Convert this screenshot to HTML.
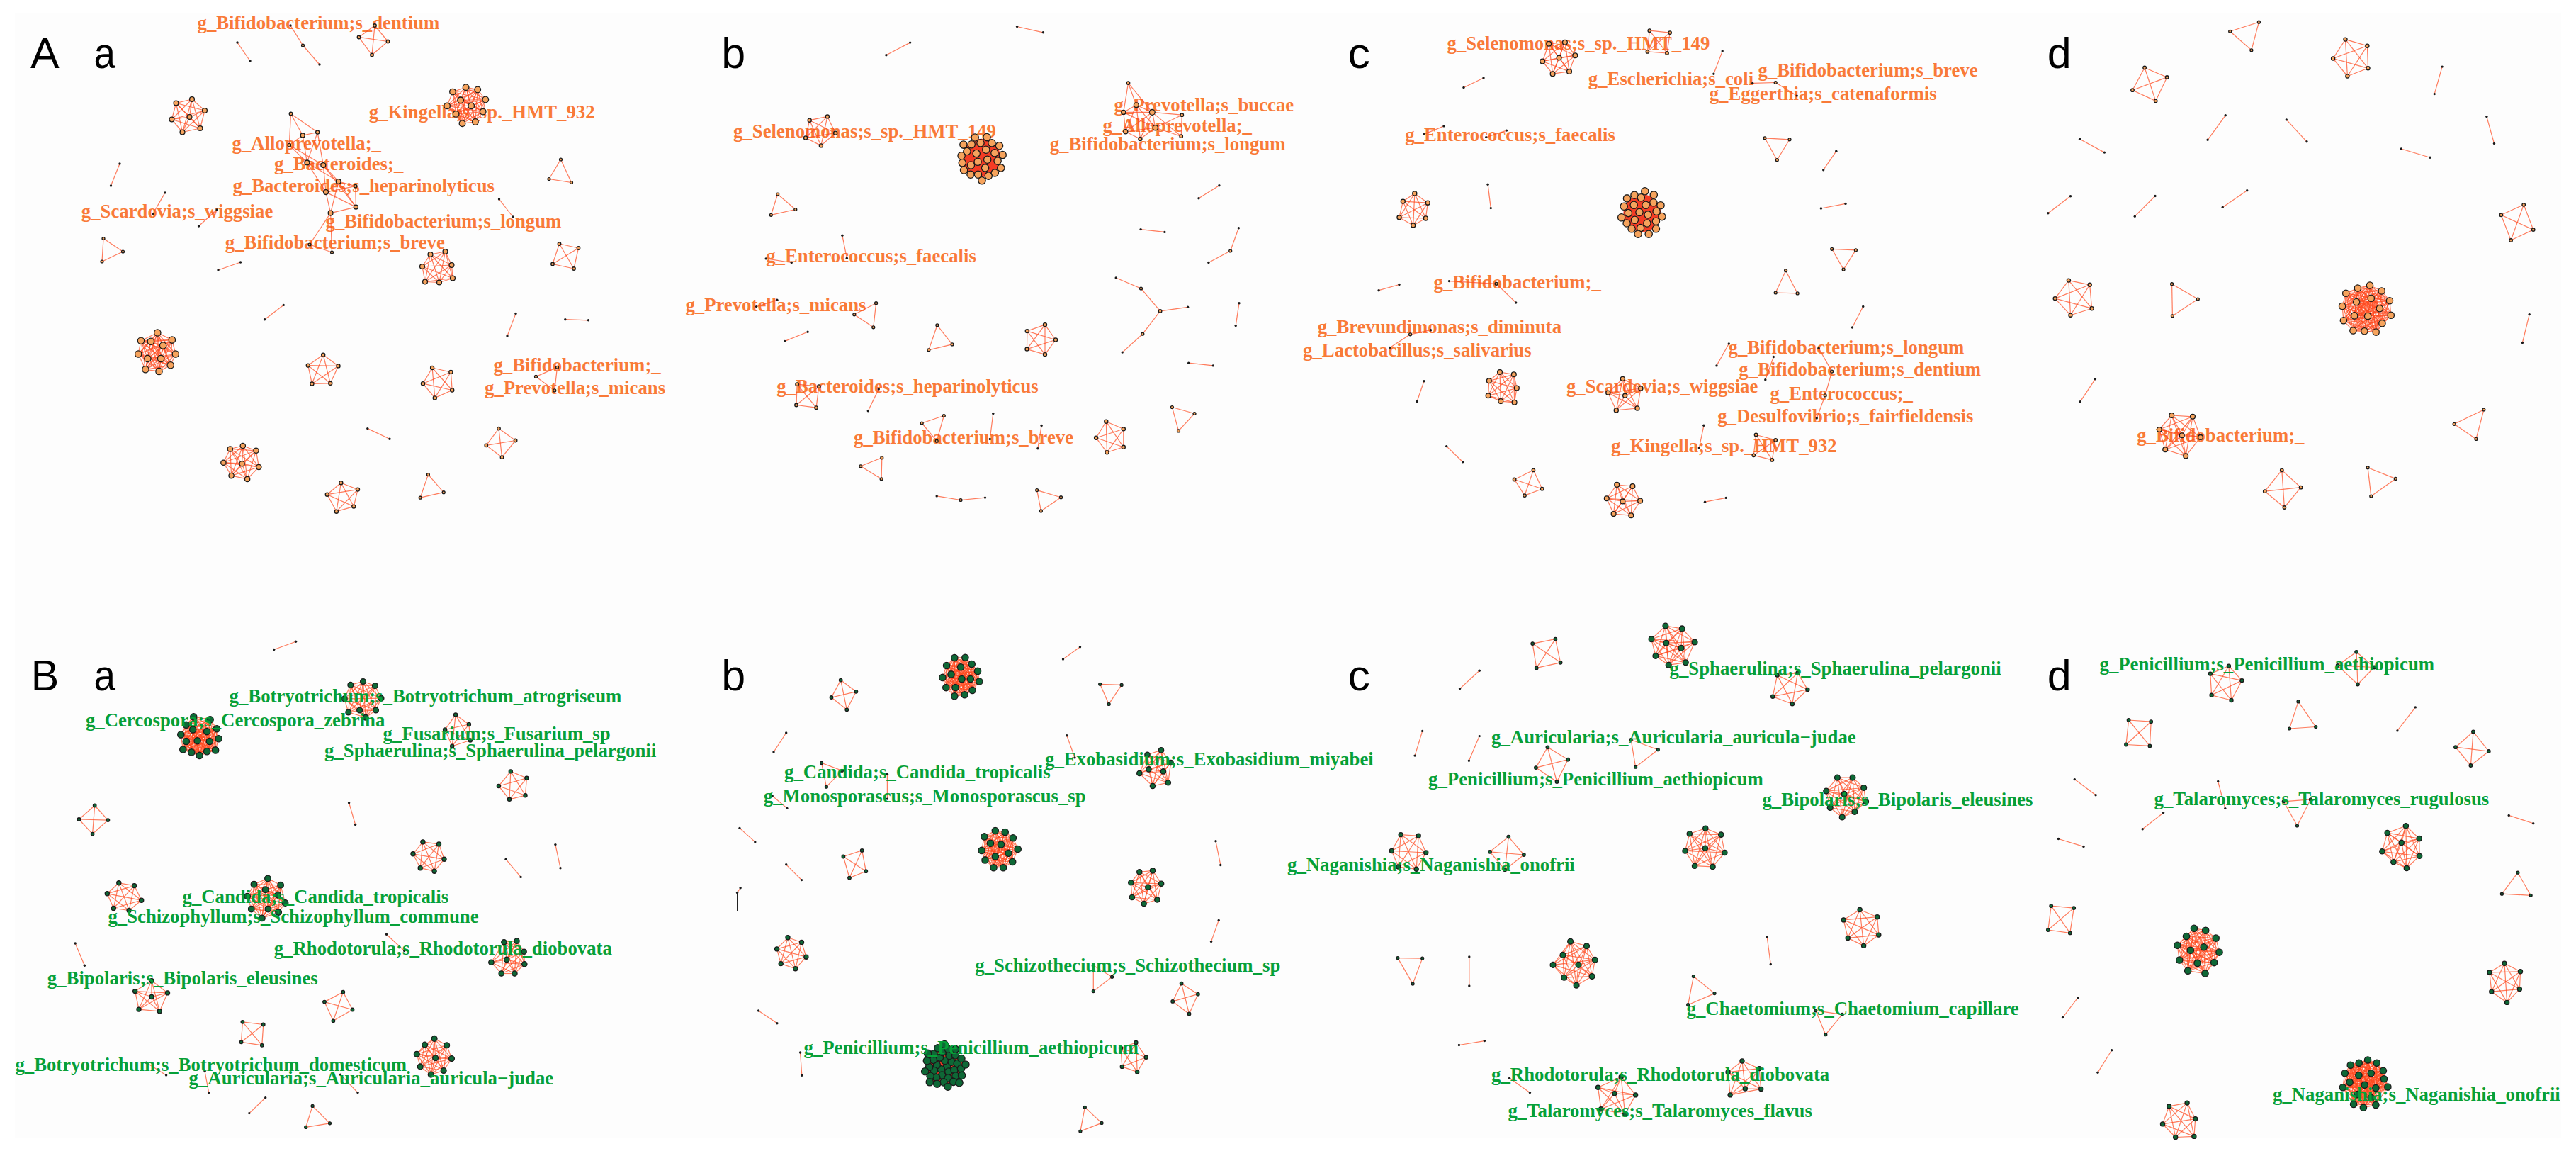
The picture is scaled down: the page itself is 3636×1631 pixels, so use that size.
<!DOCTYPE html>
<html><head><meta charset="utf-8"><style>
html,body{margin:0;padding:0;background:#ffffff;width:3636px;height:1631px;overflow:hidden}
svg{display:block}
</style></head><body>
<svg width="3636" height="1631" viewBox="0 0 3636 1631">
<rect x="0" y="0" width="3636" height="1631" fill="#ffffff"/>
<rect x="21" y="18" width="3594" height="1588" fill="#fdfdfd"/>
<g font-family="Liberation Sans, sans-serif" font-size="61" fill="#000"><text transform="translate(42.9,96.3) scale(1,1)">A</text><text transform="translate(132.5,96.3) scale(0.9,1)">a</text><text transform="translate(1018.2,96.3) scale(1,1)">b</text><text transform="translate(1902.4,96.3) scale(1.03,1)">c</text><text transform="translate(2889.8,96.3) scale(1,1)">d</text><text transform="translate(43.8,974.0) scale(0.97,1)">B</text><text transform="translate(132.5,974.3) scale(0.9,1)">a</text><text transform="translate(1018.2,973.8) scale(1,1)">b</text><text transform="translate(1902.4,974.0) scale(1.03,1)">c</text><text transform="translate(2889.8,973.8) scale(1,1)">d</text></g>
<g font-family="Liberation Serif, serif" font-weight="bold" font-size="26.75"><text x="278.5" y="41.3" fill="#f97a38">g_Bifidobacterium;s_dentium</text><text x="520.8" y="166.8" fill="#f97a38">g_Kingella;s_sp._HMT_932</text><text x="327.5" y="211.0" fill="#f97a38">g_Alloprevotella;_</text><text x="387.0" y="240.0" fill="#f97a38">g_Bacteroides;_</text><text x="328.4" y="270.5" fill="#f97a38">g_Bacteroides;s_heparinolyticus</text><text x="114.8" y="306.5" fill="#f97a38">g_Scardovia;s_wiggsiae</text><text x="459.5" y="321.0" fill="#f97a38">g_Bifidobacterium;s_longum</text><text x="317.8" y="350.7" fill="#f97a38">g_Bifidobacterium;s_breve</text><text x="696.4" y="524.4" fill="#f97a38">g_Bifidobacterium;_</text><text x="684.0" y="555.5" fill="#f97a38">g_Prevotella;s_micans</text><text x="1035.0" y="193.8" fill="#f97a38">g_Selenomonas;s_sp._HMT_149</text><text x="1572.6" y="157.4" fill="#f97a38">g_Prevotella;s_buccae</text><text x="1556.5" y="186.3" fill="#f97a38">g_Alloprevotella;_</text><text x="1481.7" y="211.9" fill="#f97a38">g_Bifidobacterium;s_longum</text><text x="1081.2" y="370.3" fill="#f97a38">g_Enterococcus;s_faecalis</text><text x="967.4" y="438.7" fill="#f97a38">g_Prevotella;s_micans</text><text x="1096.2" y="553.9" fill="#f97a38">g_Bacteroides;s_heparinolyticus</text><text x="1205.0" y="626.4" fill="#f97a38">g_Bifidobacterium;s_breve</text><text x="2042.5" y="69.7" fill="#f97a38">g_Selenomonas;s_sp._HMT_149</text><text x="2241.8" y="119.9" fill="#f97a38">g_Escherichia;s_coli</text><text x="2481.5" y="107.6" fill="#f97a38">g_Bifidobacterium;s_breve</text><text x="2412.7" y="140.5" fill="#f97a38">g_Eggerthia;s_catenaformis</text><text x="1983.2" y="199.4" fill="#f97a38">g_Enterococcus;s_faecalis</text><text x="2023.5" y="407.4" fill="#f97a38">g_Bifidobacterium;_</text><text x="1859.7" y="470.2" fill="#f97a38">g_Brevundimonas;s_diminuta</text><text x="1839.1" y="503.2" fill="#f97a38">g_Lactobacillus;s_salivarius</text><text x="2439.5" y="499.1" fill="#f97a38">g_Bifidobacterium;s_longum</text><text x="2454.3" y="529.6" fill="#f97a38">g_Bifidobacterium;s_dentium</text><text x="2210.9" y="553.5" fill="#f97a38">g_Scardovia;s_wiggsiae</text><text x="2498.4" y="563.8" fill="#f97a38">g_Enterococcus;_</text><text x="2424.2" y="595.5" fill="#f97a38">g_Desulfovibrio;s_fairfieldensis</text><text x="2273.9" y="637.9" fill="#f97a38">g_Kingella;s_sp._HMT_932</text><text x="3016.2" y="623.2" fill="#f97a38">g_Bifidobacterium;_</text></g>
<g stroke="#ff4a1e" stroke-width="1.2" stroke-opacity="0.72"><line x1="335.0" y1="60.0" x2="353.0" y2="86.0"/><line x1="410.0" y1="36.0" x2="427.5" y2="64.0"/><line x1="427.5" y1="64.0" x2="451.0" y2="91.0"/><line x1="529.0" y1="36.0" x2="506.5" y2="52.5"/><line x1="529.0" y1="36.0" x2="547.5" y2="58.5"/><line x1="529.0" y1="36.0" x2="525.0" y2="77.5"/><line x1="506.5" y1="52.5" x2="547.5" y2="58.5"/><line x1="506.5" y1="52.5" x2="525.0" y2="77.5"/><line x1="547.5" y1="58.5" x2="525.0" y2="77.5"/><line x1="248.5" y1="145.5" x2="271.0" y2="140.0"/><line x1="248.5" y1="145.5" x2="289.0" y2="156.0"/><line x1="248.5" y1="145.5" x2="282.5" y2="181.0"/><line x1="248.5" y1="145.5" x2="257.5" y2="186.5"/><line x1="248.5" y1="145.5" x2="242.5" y2="168.5"/><line x1="248.5" y1="145.5" x2="267.5" y2="165.0"/><line x1="271.0" y1="140.0" x2="289.0" y2="156.0"/><line x1="271.0" y1="140.0" x2="282.5" y2="181.0"/><line x1="271.0" y1="140.0" x2="257.5" y2="186.5"/><line x1="271.0" y1="140.0" x2="242.5" y2="168.5"/><line x1="271.0" y1="140.0" x2="267.5" y2="165.0"/><line x1="289.0" y1="156.0" x2="282.5" y2="181.0"/><line x1="289.0" y1="156.0" x2="257.5" y2="186.5"/><line x1="289.0" y1="156.0" x2="242.5" y2="168.5"/><line x1="289.0" y1="156.0" x2="267.5" y2="165.0"/><line x1="282.5" y1="181.0" x2="257.5" y2="186.5"/><line x1="282.5" y1="181.0" x2="242.5" y2="168.5"/><line x1="282.5" y1="181.0" x2="267.5" y2="165.0"/><line x1="257.5" y1="186.5" x2="242.5" y2="168.5"/><line x1="257.5" y1="186.5" x2="267.5" y2="165.0"/><line x1="242.5" y1="168.5" x2="267.5" y2="165.0"/><line x1="657.6" y1="123.2" x2="639.0" y2="129.6"/><line x1="657.6" y1="123.2" x2="674.2" y2="126.5"/><line x1="657.6" y1="123.2" x2="685.3" y2="140.5"/><line x1="657.6" y1="123.2" x2="650.1" y2="141.3"/><line x1="657.6" y1="123.2" x2="665.2" y2="149.4"/><line x1="657.6" y1="123.2" x2="631.1" y2="149.4"/><line x1="657.6" y1="123.2" x2="643.6" y2="160.9"/><line x1="657.6" y1="123.2" x2="681.7" y2="157.6"/><line x1="657.6" y1="123.2" x2="652.5" y2="174.2"/><line x1="657.6" y1="123.2" x2="670.9" y2="172.0"/><line x1="639.0" y1="129.6" x2="674.2" y2="126.5"/><line x1="639.0" y1="129.6" x2="685.3" y2="140.5"/><line x1="639.0" y1="129.6" x2="650.1" y2="141.3"/><line x1="639.0" y1="129.6" x2="665.2" y2="149.4"/><line x1="639.0" y1="129.6" x2="631.1" y2="149.4"/><line x1="639.0" y1="129.6" x2="643.6" y2="160.9"/><line x1="639.0" y1="129.6" x2="681.7" y2="157.6"/><line x1="639.0" y1="129.6" x2="652.5" y2="174.2"/><line x1="639.0" y1="129.6" x2="670.9" y2="172.0"/><line x1="674.2" y1="126.5" x2="685.3" y2="140.5"/><line x1="674.2" y1="126.5" x2="650.1" y2="141.3"/><line x1="674.2" y1="126.5" x2="665.2" y2="149.4"/><line x1="674.2" y1="126.5" x2="631.1" y2="149.4"/><line x1="674.2" y1="126.5" x2="643.6" y2="160.9"/><line x1="674.2" y1="126.5" x2="681.7" y2="157.6"/><line x1="674.2" y1="126.5" x2="652.5" y2="174.2"/><line x1="674.2" y1="126.5" x2="670.9" y2="172.0"/><line x1="685.3" y1="140.5" x2="650.1" y2="141.3"/><line x1="685.3" y1="140.5" x2="665.2" y2="149.4"/><line x1="685.3" y1="140.5" x2="631.1" y2="149.4"/><line x1="685.3" y1="140.5" x2="643.6" y2="160.9"/><line x1="685.3" y1="140.5" x2="681.7" y2="157.6"/><line x1="685.3" y1="140.5" x2="652.5" y2="174.2"/><line x1="685.3" y1="140.5" x2="670.9" y2="172.0"/><line x1="650.1" y1="141.3" x2="665.2" y2="149.4"/><line x1="650.1" y1="141.3" x2="631.1" y2="149.4"/><line x1="650.1" y1="141.3" x2="643.6" y2="160.9"/><line x1="650.1" y1="141.3" x2="681.7" y2="157.6"/><line x1="650.1" y1="141.3" x2="652.5" y2="174.2"/><line x1="650.1" y1="141.3" x2="670.9" y2="172.0"/><line x1="665.2" y1="149.4" x2="631.1" y2="149.4"/><line x1="665.2" y1="149.4" x2="643.6" y2="160.9"/><line x1="665.2" y1="149.4" x2="681.7" y2="157.6"/><line x1="665.2" y1="149.4" x2="652.5" y2="174.2"/><line x1="665.2" y1="149.4" x2="670.9" y2="172.0"/><line x1="631.1" y1="149.4" x2="643.6" y2="160.9"/><line x1="631.1" y1="149.4" x2="681.7" y2="157.6"/><line x1="631.1" y1="149.4" x2="652.5" y2="174.2"/><line x1="631.1" y1="149.4" x2="670.9" y2="172.0"/><line x1="643.6" y1="160.9" x2="681.7" y2="157.6"/><line x1="643.6" y1="160.9" x2="652.5" y2="174.2"/><line x1="643.6" y1="160.9" x2="670.9" y2="172.0"/><line x1="681.7" y1="157.6" x2="652.5" y2="174.2"/><line x1="681.7" y1="157.6" x2="670.9" y2="172.0"/><line x1="652.5" y1="174.2" x2="670.9" y2="172.0"/><line x1="410.5" y1="160.5" x2="427.2" y2="191.0"/><line x1="410.5" y1="160.5" x2="448.2" y2="186.6"/><line x1="427.2" y1="191.0" x2="448.2" y2="186.6"/><line x1="410.5" y1="160.5" x2="408.3" y2="204.7"/><line x1="427.2" y1="191.0" x2="433.4" y2="229.4"/><line x1="448.2" y1="186.6" x2="433.4" y2="229.4"/><line x1="408.3" y1="204.7" x2="433.4" y2="229.4"/><line x1="433.4" y1="229.4" x2="456.3" y2="233.1"/><line x1="433.4" y1="229.4" x2="477.7" y2="256.0"/><line x1="456.3" y1="233.1" x2="477.7" y2="256.0"/><line x1="433.4" y1="229.4" x2="460.0" y2="271.1"/><line x1="456.3" y1="233.1" x2="460.0" y2="271.1"/><line x1="477.7" y1="256.0" x2="460.0" y2="271.1"/><line x1="477.7" y1="256.0" x2="502.4" y2="292.1"/><line x1="456.3" y1="233.1" x2="502.4" y2="292.1"/><line x1="460.0" y1="271.1" x2="502.4" y2="292.1"/><line x1="460.0" y1="271.1" x2="466.6" y2="300.6"/><line x1="502.4" y1="292.1" x2="466.6" y2="300.6"/><line x1="477.7" y1="256.0" x2="466.6" y2="300.6"/><line x1="477.7" y1="256.0" x2="501.7" y2="262.6"/><line x1="501.7" y1="262.6" x2="502.4" y2="292.1"/><line x1="466.6" y1="300.6" x2="437.0" y2="345.0"/><line x1="437.0" y1="345.0" x2="468.5" y2="356.0"/><line x1="466.6" y1="300.6" x2="468.5" y2="356.0"/><line x1="408.3" y1="204.7" x2="456.3" y2="233.1"/><line x1="427.2" y1="191.0" x2="408.3" y2="204.7"/><line x1="448.2" y1="186.6" x2="456.3" y2="233.1"/><line x1="460.0" y1="271.1" x2="501.7" y2="262.6"/><line x1="169.0" y1="231.0" x2="156.5" y2="262.0"/><line x1="233.0" y1="271.9" x2="215.8" y2="301.7"/><line x1="280.5" y1="319.0" x2="306.0" y2="296.0"/><line x1="146.0" y1="336.5" x2="173.5" y2="355.0"/><line x1="146.0" y1="336.5" x2="144.0" y2="369.0"/><line x1="173.5" y1="355.0" x2="144.0" y2="369.0"/><line x1="308.0" y1="381.0" x2="339.5" y2="370.0"/><line x1="791.5" y1="225.0" x2="775.0" y2="252.5"/><line x1="791.5" y1="225.0" x2="806.5" y2="257.5"/><line x1="775.0" y1="252.5" x2="806.5" y2="257.5"/><line x1="704.5" y1="281.0" x2="724.0" y2="306.0"/><line x1="789.5" y1="344.0" x2="816.5" y2="350.0"/><line x1="789.5" y1="344.0" x2="780.0" y2="372.5"/><line x1="789.5" y1="344.0" x2="810.0" y2="379.0"/><line x1="816.5" y1="350.0" x2="780.0" y2="372.5"/><line x1="816.5" y1="350.0" x2="810.0" y2="379.0"/><line x1="780.0" y1="372.5" x2="810.0" y2="379.0"/><line x1="607.5" y1="359.0" x2="628.5" y2="355.0"/><line x1="607.5" y1="359.0" x2="596.0" y2="376.0"/><line x1="607.5" y1="359.0" x2="637.5" y2="374.0"/><line x1="607.5" y1="359.0" x2="639.0" y2="392.5"/><line x1="607.5" y1="359.0" x2="600.0" y2="397.5"/><line x1="607.5" y1="359.0" x2="620.0" y2="398.5"/><line x1="628.5" y1="355.0" x2="596.0" y2="376.0"/><line x1="628.5" y1="355.0" x2="637.5" y2="374.0"/><line x1="628.5" y1="355.0" x2="639.0" y2="392.5"/><line x1="628.5" y1="355.0" x2="600.0" y2="397.5"/><line x1="628.5" y1="355.0" x2="620.0" y2="398.5"/><line x1="596.0" y1="376.0" x2="637.5" y2="374.0"/><line x1="596.0" y1="376.0" x2="639.0" y2="392.5"/><line x1="596.0" y1="376.0" x2="600.0" y2="397.5"/><line x1="596.0" y1="376.0" x2="620.0" y2="398.5"/><line x1="637.5" y1="374.0" x2="639.0" y2="392.5"/><line x1="637.5" y1="374.0" x2="600.0" y2="397.5"/><line x1="637.5" y1="374.0" x2="620.0" y2="398.5"/><line x1="639.0" y1="392.5" x2="600.0" y2="397.5"/><line x1="639.0" y1="392.5" x2="620.0" y2="398.5"/><line x1="600.0" y1="397.5" x2="620.0" y2="398.5"/><line x1="373.6" y1="450.7" x2="400.2" y2="430.4"/><line x1="222.3" y1="469.5" x2="199.0" y2="480.7"/><line x1="222.3" y1="469.5" x2="212.9" y2="481.8"/><line x1="222.3" y1="469.5" x2="242.9" y2="479.6"/><line x1="222.3" y1="469.5" x2="230.1" y2="487.5"/><line x1="222.3" y1="469.5" x2="195.2" y2="499.5"/><line x1="222.3" y1="469.5" x2="247.8" y2="499.5"/><line x1="222.3" y1="469.5" x2="208.4" y2="505.9"/><line x1="222.3" y1="469.5" x2="227.1" y2="505.9"/><line x1="222.3" y1="469.5" x2="205.4" y2="521.3"/><line x1="222.3" y1="469.5" x2="224.5" y2="523.9"/><line x1="222.3" y1="469.5" x2="240.7" y2="515.3"/><line x1="199.0" y1="480.7" x2="212.9" y2="481.8"/><line x1="199.0" y1="480.7" x2="242.9" y2="479.6"/><line x1="199.0" y1="480.7" x2="230.1" y2="487.5"/><line x1="199.0" y1="480.7" x2="195.2" y2="499.5"/><line x1="199.0" y1="480.7" x2="247.8" y2="499.5"/><line x1="199.0" y1="480.7" x2="208.4" y2="505.9"/><line x1="199.0" y1="480.7" x2="227.1" y2="505.9"/><line x1="199.0" y1="480.7" x2="205.4" y2="521.3"/><line x1="199.0" y1="480.7" x2="224.5" y2="523.9"/><line x1="199.0" y1="480.7" x2="240.7" y2="515.3"/><line x1="212.9" y1="481.8" x2="242.9" y2="479.6"/><line x1="212.9" y1="481.8" x2="230.1" y2="487.5"/><line x1="212.9" y1="481.8" x2="195.2" y2="499.5"/><line x1="212.9" y1="481.8" x2="247.8" y2="499.5"/><line x1="212.9" y1="481.8" x2="208.4" y2="505.9"/><line x1="212.9" y1="481.8" x2="227.1" y2="505.9"/><line x1="212.9" y1="481.8" x2="205.4" y2="521.3"/><line x1="212.9" y1="481.8" x2="224.5" y2="523.9"/><line x1="212.9" y1="481.8" x2="240.7" y2="515.3"/><line x1="242.9" y1="479.6" x2="230.1" y2="487.5"/><line x1="242.9" y1="479.6" x2="195.2" y2="499.5"/><line x1="242.9" y1="479.6" x2="247.8" y2="499.5"/><line x1="242.9" y1="479.6" x2="208.4" y2="505.9"/><line x1="242.9" y1="479.6" x2="227.1" y2="505.9"/><line x1="242.9" y1="479.6" x2="205.4" y2="521.3"/><line x1="242.9" y1="479.6" x2="224.5" y2="523.9"/><line x1="242.9" y1="479.6" x2="240.7" y2="515.3"/><line x1="230.1" y1="487.5" x2="195.2" y2="499.5"/><line x1="230.1" y1="487.5" x2="247.8" y2="499.5"/><line x1="230.1" y1="487.5" x2="208.4" y2="505.9"/><line x1="230.1" y1="487.5" x2="227.1" y2="505.9"/><line x1="230.1" y1="487.5" x2="205.4" y2="521.3"/><line x1="230.1" y1="487.5" x2="224.5" y2="523.9"/><line x1="230.1" y1="487.5" x2="240.7" y2="515.3"/><line x1="195.2" y1="499.5" x2="247.8" y2="499.5"/><line x1="195.2" y1="499.5" x2="208.4" y2="505.9"/><line x1="195.2" y1="499.5" x2="227.1" y2="505.9"/><line x1="195.2" y1="499.5" x2="205.4" y2="521.3"/><line x1="195.2" y1="499.5" x2="224.5" y2="523.9"/><line x1="195.2" y1="499.5" x2="240.7" y2="515.3"/><line x1="247.8" y1="499.5" x2="208.4" y2="505.9"/><line x1="247.8" y1="499.5" x2="227.1" y2="505.9"/><line x1="247.8" y1="499.5" x2="205.4" y2="521.3"/><line x1="247.8" y1="499.5" x2="224.5" y2="523.9"/><line x1="247.8" y1="499.5" x2="240.7" y2="515.3"/><line x1="208.4" y1="505.9" x2="227.1" y2="505.9"/><line x1="208.4" y1="505.9" x2="205.4" y2="521.3"/><line x1="208.4" y1="505.9" x2="224.5" y2="523.9"/><line x1="208.4" y1="505.9" x2="240.7" y2="515.3"/><line x1="227.1" y1="505.9" x2="205.4" y2="521.3"/><line x1="227.1" y1="505.9" x2="224.5" y2="523.9"/><line x1="227.1" y1="505.9" x2="240.7" y2="515.3"/><line x1="205.4" y1="521.3" x2="224.5" y2="523.9"/><line x1="205.4" y1="521.3" x2="240.7" y2="515.3"/><line x1="224.5" y1="523.9" x2="240.7" y2="515.3"/><line x1="456.2" y1="500.6" x2="434.8" y2="515.6"/><line x1="456.2" y1="500.6" x2="477.5" y2="516.4"/><line x1="456.2" y1="500.6" x2="440.4" y2="541.5"/><line x1="456.2" y1="500.6" x2="466.3" y2="540.8"/><line x1="434.8" y1="515.6" x2="477.5" y2="516.4"/><line x1="434.8" y1="515.6" x2="440.4" y2="541.5"/><line x1="434.8" y1="515.6" x2="466.3" y2="540.8"/><line x1="477.5" y1="516.4" x2="440.4" y2="541.5"/><line x1="477.5" y1="516.4" x2="466.3" y2="540.8"/><line x1="440.4" y1="541.5" x2="466.3" y2="540.8"/><line x1="610.1" y1="519.0" x2="636.4" y2="525.0"/><line x1="610.1" y1="519.0" x2="597.0" y2="541.2"/><line x1="610.1" y1="519.0" x2="638.2" y2="550.5"/><line x1="610.1" y1="519.0" x2="613.8" y2="561.4"/><line x1="636.4" y1="525.0" x2="597.0" y2="541.2"/><line x1="636.4" y1="525.0" x2="638.2" y2="550.5"/><line x1="636.4" y1="525.0" x2="613.8" y2="561.4"/><line x1="597.0" y1="541.2" x2="638.2" y2="550.5"/><line x1="597.0" y1="541.2" x2="613.8" y2="561.4"/><line x1="638.2" y1="550.5" x2="613.8" y2="561.4"/><line x1="716.0" y1="474.0" x2="728.0" y2="442.4"/><line x1="797.8" y1="450.7" x2="830.5" y2="451.8"/><line x1="756.5" y1="531.4" x2="786.5" y2="518.3"/><line x1="756.5" y1="531.4" x2="782.8" y2="550.9"/><line x1="786.5" y1="518.3" x2="782.8" y2="550.9"/><line x1="518.8" y1="604.6" x2="550.0" y2="619.3"/><line x1="342.8" y1="629.0" x2="324.8" y2="633.5"/><line x1="342.8" y1="629.0" x2="361.5" y2="635.8"/><line x1="342.8" y1="629.0" x2="315.4" y2="652.7"/><line x1="342.8" y1="629.0" x2="341.6" y2="654.2"/><line x1="342.8" y1="629.0" x2="365.3" y2="659.0"/><line x1="342.8" y1="629.0" x2="326.6" y2="671.1"/><line x1="342.8" y1="629.0" x2="349.1" y2="675.9"/><line x1="324.8" y1="633.5" x2="361.5" y2="635.8"/><line x1="324.8" y1="633.5" x2="315.4" y2="652.7"/><line x1="324.8" y1="633.5" x2="341.6" y2="654.2"/><line x1="324.8" y1="633.5" x2="365.3" y2="659.0"/><line x1="324.8" y1="633.5" x2="326.6" y2="671.1"/><line x1="324.8" y1="633.5" x2="349.1" y2="675.9"/><line x1="361.5" y1="635.8" x2="315.4" y2="652.7"/><line x1="361.5" y1="635.8" x2="341.6" y2="654.2"/><line x1="361.5" y1="635.8" x2="365.3" y2="659.0"/><line x1="361.5" y1="635.8" x2="326.6" y2="671.1"/><line x1="361.5" y1="635.8" x2="349.1" y2="675.9"/><line x1="315.4" y1="652.7" x2="341.6" y2="654.2"/><line x1="315.4" y1="652.7" x2="365.3" y2="659.0"/><line x1="315.4" y1="652.7" x2="326.6" y2="671.1"/><line x1="315.4" y1="652.7" x2="349.1" y2="675.9"/><line x1="341.6" y1="654.2" x2="365.3" y2="659.0"/><line x1="341.6" y1="654.2" x2="326.6" y2="671.1"/><line x1="341.6" y1="654.2" x2="349.1" y2="675.9"/><line x1="365.3" y1="659.0" x2="326.6" y2="671.1"/><line x1="365.3" y1="659.0" x2="349.1" y2="675.9"/><line x1="326.6" y1="671.1" x2="349.1" y2="675.9"/><line x1="704.0" y1="604.6" x2="686.3" y2="628.3"/><line x1="704.0" y1="604.6" x2="727.6" y2="621.5"/><line x1="704.0" y1="604.6" x2="708.5" y2="645.2"/><line x1="686.3" y1="628.3" x2="727.6" y2="621.5"/><line x1="686.3" y1="628.3" x2="708.5" y2="645.2"/><line x1="727.6" y1="621.5" x2="708.5" y2="645.2"/><line x1="481.3" y1="681.2" x2="461.8" y2="697.7"/><line x1="481.3" y1="681.2" x2="505.0" y2="690.6"/><line x1="481.3" y1="681.2" x2="499.3" y2="714.6"/><line x1="481.3" y1="681.2" x2="474.9" y2="721.7"/><line x1="461.8" y1="697.7" x2="505.0" y2="690.6"/><line x1="461.8" y1="697.7" x2="499.3" y2="714.6"/><line x1="461.8" y1="697.7" x2="474.9" y2="721.7"/><line x1="505.0" y1="690.6" x2="499.3" y2="714.6"/><line x1="505.0" y1="690.6" x2="474.9" y2="721.7"/><line x1="499.3" y1="714.6" x2="474.9" y2="721.7"/><line x1="604.4" y1="669.6" x2="593.2" y2="702.2"/><line x1="604.4" y1="669.6" x2="626.2" y2="694.7"/><line x1="593.2" y1="702.2" x2="626.2" y2="694.7"/><line x1="386.7" y1="916.5" x2="417.5" y2="905.2"/><line x1="494.8" y1="966.4" x2="512.5" y2="961.5"/><line x1="494.8" y1="966.4" x2="529.4" y2="967.5"/><line x1="494.8" y1="966.4" x2="486.2" y2="985.9"/><line x1="494.8" y1="966.4" x2="538.0" y2="985.2"/><line x1="494.8" y1="966.4" x2="491.8" y2="1005.0"/><line x1="494.8" y1="966.4" x2="507.6" y2="1002.0"/><line x1="494.8" y1="966.4" x2="530.5" y2="1002.0"/><line x1="494.8" y1="966.4" x2="516.2" y2="1012.2"/><line x1="512.5" y1="961.5" x2="529.4" y2="967.5"/><line x1="512.5" y1="961.5" x2="486.2" y2="985.9"/><line x1="512.5" y1="961.5" x2="538.0" y2="985.2"/><line x1="512.5" y1="961.5" x2="491.8" y2="1005.0"/><line x1="512.5" y1="961.5" x2="507.6" y2="1002.0"/><line x1="512.5" y1="961.5" x2="530.5" y2="1002.0"/><line x1="512.5" y1="961.5" x2="516.2" y2="1012.2"/><line x1="529.4" y1="967.5" x2="486.2" y2="985.9"/><line x1="529.4" y1="967.5" x2="538.0" y2="985.2"/><line x1="529.4" y1="967.5" x2="491.8" y2="1005.0"/><line x1="529.4" y1="967.5" x2="507.6" y2="1002.0"/><line x1="529.4" y1="967.5" x2="530.5" y2="1002.0"/><line x1="529.4" y1="967.5" x2="516.2" y2="1012.2"/><line x1="486.2" y1="985.9" x2="538.0" y2="985.2"/><line x1="486.2" y1="985.9" x2="491.8" y2="1005.0"/><line x1="486.2" y1="985.9" x2="507.6" y2="1002.0"/><line x1="486.2" y1="985.9" x2="530.5" y2="1002.0"/><line x1="486.2" y1="985.9" x2="516.2" y2="1012.2"/><line x1="538.0" y1="985.2" x2="491.8" y2="1005.0"/><line x1="538.0" y1="985.2" x2="507.6" y2="1002.0"/><line x1="538.0" y1="985.2" x2="530.5" y2="1002.0"/><line x1="538.0" y1="985.2" x2="516.2" y2="1012.2"/><line x1="491.8" y1="1005.0" x2="507.6" y2="1002.0"/><line x1="491.8" y1="1005.0" x2="530.5" y2="1002.0"/><line x1="491.8" y1="1005.0" x2="516.2" y2="1012.2"/><line x1="507.6" y1="1002.0" x2="530.5" y2="1002.0"/><line x1="507.6" y1="1002.0" x2="516.2" y2="1012.2"/><line x1="530.5" y1="1002.0" x2="516.2" y2="1012.2"/><line x1="273.3" y1="1011.4" x2="296.6" y2="1015.2"/><line x1="273.3" y1="1011.4" x2="262.8" y2="1022.7"/><line x1="273.3" y1="1011.4" x2="272.2" y2="1029.5"/><line x1="273.3" y1="1011.4" x2="292.1" y2="1032.1"/><line x1="273.3" y1="1011.4" x2="306.0" y2="1028.3"/><line x1="273.3" y1="1011.4" x2="255.3" y2="1036.6"/><line x1="273.3" y1="1011.4" x2="278.6" y2="1045.2"/><line x1="273.3" y1="1011.4" x2="262.8" y2="1046.0"/><line x1="273.3" y1="1011.4" x2="295.8" y2="1046.0"/><line x1="273.3" y1="1011.4" x2="308.6" y2="1042.2"/><line x1="273.3" y1="1011.4" x2="258.3" y2="1057.6"/><line x1="273.3" y1="1011.4" x2="270.3" y2="1061.4"/><line x1="273.3" y1="1011.4" x2="281.6" y2="1065.9"/><line x1="273.3" y1="1011.4" x2="292.1" y2="1060.2"/><line x1="273.3" y1="1011.4" x2="304.1" y2="1058.4"/><line x1="296.6" y1="1015.2" x2="262.8" y2="1022.7"/><line x1="296.6" y1="1015.2" x2="272.2" y2="1029.5"/><line x1="296.6" y1="1015.2" x2="292.1" y2="1032.1"/><line x1="296.6" y1="1015.2" x2="306.0" y2="1028.3"/><line x1="296.6" y1="1015.2" x2="255.3" y2="1036.6"/><line x1="296.6" y1="1015.2" x2="278.6" y2="1045.2"/><line x1="296.6" y1="1015.2" x2="262.8" y2="1046.0"/><line x1="296.6" y1="1015.2" x2="295.8" y2="1046.0"/><line x1="296.6" y1="1015.2" x2="308.6" y2="1042.2"/><line x1="296.6" y1="1015.2" x2="258.3" y2="1057.6"/><line x1="296.6" y1="1015.2" x2="270.3" y2="1061.4"/><line x1="296.6" y1="1015.2" x2="281.6" y2="1065.9"/><line x1="296.6" y1="1015.2" x2="292.1" y2="1060.2"/><line x1="296.6" y1="1015.2" x2="304.1" y2="1058.4"/><line x1="262.8" y1="1022.7" x2="272.2" y2="1029.5"/><line x1="262.8" y1="1022.7" x2="292.1" y2="1032.1"/><line x1="262.8" y1="1022.7" x2="306.0" y2="1028.3"/><line x1="262.8" y1="1022.7" x2="255.3" y2="1036.6"/><line x1="262.8" y1="1022.7" x2="278.6" y2="1045.2"/><line x1="262.8" y1="1022.7" x2="262.8" y2="1046.0"/><line x1="262.8" y1="1022.7" x2="295.8" y2="1046.0"/><line x1="262.8" y1="1022.7" x2="308.6" y2="1042.2"/><line x1="262.8" y1="1022.7" x2="258.3" y2="1057.6"/><line x1="262.8" y1="1022.7" x2="270.3" y2="1061.4"/><line x1="262.8" y1="1022.7" x2="281.6" y2="1065.9"/><line x1="262.8" y1="1022.7" x2="292.1" y2="1060.2"/><line x1="262.8" y1="1022.7" x2="304.1" y2="1058.4"/><line x1="272.2" y1="1029.5" x2="292.1" y2="1032.1"/><line x1="272.2" y1="1029.5" x2="306.0" y2="1028.3"/><line x1="272.2" y1="1029.5" x2="255.3" y2="1036.6"/><line x1="272.2" y1="1029.5" x2="278.6" y2="1045.2"/><line x1="272.2" y1="1029.5" x2="262.8" y2="1046.0"/><line x1="272.2" y1="1029.5" x2="295.8" y2="1046.0"/><line x1="272.2" y1="1029.5" x2="308.6" y2="1042.2"/><line x1="272.2" y1="1029.5" x2="258.3" y2="1057.6"/><line x1="272.2" y1="1029.5" x2="270.3" y2="1061.4"/><line x1="272.2" y1="1029.5" x2="281.6" y2="1065.9"/><line x1="272.2" y1="1029.5" x2="292.1" y2="1060.2"/><line x1="272.2" y1="1029.5" x2="304.1" y2="1058.4"/><line x1="292.1" y1="1032.1" x2="306.0" y2="1028.3"/><line x1="292.1" y1="1032.1" x2="255.3" y2="1036.6"/><line x1="292.1" y1="1032.1" x2="278.6" y2="1045.2"/><line x1="292.1" y1="1032.1" x2="262.8" y2="1046.0"/><line x1="292.1" y1="1032.1" x2="295.8" y2="1046.0"/><line x1="292.1" y1="1032.1" x2="308.6" y2="1042.2"/><line x1="292.1" y1="1032.1" x2="258.3" y2="1057.6"/><line x1="292.1" y1="1032.1" x2="270.3" y2="1061.4"/><line x1="292.1" y1="1032.1" x2="281.6" y2="1065.9"/><line x1="292.1" y1="1032.1" x2="292.1" y2="1060.2"/><line x1="292.1" y1="1032.1" x2="304.1" y2="1058.4"/><line x1="306.0" y1="1028.3" x2="255.3" y2="1036.6"/><line x1="306.0" y1="1028.3" x2="278.6" y2="1045.2"/><line x1="306.0" y1="1028.3" x2="262.8" y2="1046.0"/><line x1="306.0" y1="1028.3" x2="295.8" y2="1046.0"/><line x1="306.0" y1="1028.3" x2="308.6" y2="1042.2"/><line x1="306.0" y1="1028.3" x2="258.3" y2="1057.6"/><line x1="306.0" y1="1028.3" x2="270.3" y2="1061.4"/><line x1="306.0" y1="1028.3" x2="281.6" y2="1065.9"/><line x1="306.0" y1="1028.3" x2="292.1" y2="1060.2"/><line x1="306.0" y1="1028.3" x2="304.1" y2="1058.4"/><line x1="255.3" y1="1036.6" x2="278.6" y2="1045.2"/><line x1="255.3" y1="1036.6" x2="262.8" y2="1046.0"/><line x1="255.3" y1="1036.6" x2="295.8" y2="1046.0"/><line x1="255.3" y1="1036.6" x2="308.6" y2="1042.2"/><line x1="255.3" y1="1036.6" x2="258.3" y2="1057.6"/><line x1="255.3" y1="1036.6" x2="270.3" y2="1061.4"/><line x1="255.3" y1="1036.6" x2="281.6" y2="1065.9"/><line x1="255.3" y1="1036.6" x2="292.1" y2="1060.2"/><line x1="255.3" y1="1036.6" x2="304.1" y2="1058.4"/><line x1="278.6" y1="1045.2" x2="262.8" y2="1046.0"/><line x1="278.6" y1="1045.2" x2="295.8" y2="1046.0"/><line x1="278.6" y1="1045.2" x2="308.6" y2="1042.2"/><line x1="278.6" y1="1045.2" x2="258.3" y2="1057.6"/><line x1="278.6" y1="1045.2" x2="270.3" y2="1061.4"/><line x1="278.6" y1="1045.2" x2="281.6" y2="1065.9"/><line x1="278.6" y1="1045.2" x2="292.1" y2="1060.2"/><line x1="278.6" y1="1045.2" x2="304.1" y2="1058.4"/><line x1="262.8" y1="1046.0" x2="295.8" y2="1046.0"/><line x1="262.8" y1="1046.0" x2="308.6" y2="1042.2"/><line x1="262.8" y1="1046.0" x2="258.3" y2="1057.6"/><line x1="262.8" y1="1046.0" x2="270.3" y2="1061.4"/><line x1="262.8" y1="1046.0" x2="281.6" y2="1065.9"/><line x1="262.8" y1="1046.0" x2="292.1" y2="1060.2"/><line x1="262.8" y1="1046.0" x2="304.1" y2="1058.4"/><line x1="295.8" y1="1046.0" x2="308.6" y2="1042.2"/><line x1="295.8" y1="1046.0" x2="258.3" y2="1057.6"/><line x1="295.8" y1="1046.0" x2="270.3" y2="1061.4"/><line x1="295.8" y1="1046.0" x2="281.6" y2="1065.9"/><line x1="295.8" y1="1046.0" x2="292.1" y2="1060.2"/><line x1="295.8" y1="1046.0" x2="304.1" y2="1058.4"/><line x1="308.6" y1="1042.2" x2="258.3" y2="1057.6"/><line x1="308.6" y1="1042.2" x2="270.3" y2="1061.4"/><line x1="308.6" y1="1042.2" x2="281.6" y2="1065.9"/><line x1="308.6" y1="1042.2" x2="292.1" y2="1060.2"/><line x1="308.6" y1="1042.2" x2="304.1" y2="1058.4"/><line x1="258.3" y1="1057.6" x2="270.3" y2="1061.4"/><line x1="258.3" y1="1057.6" x2="281.6" y2="1065.9"/><line x1="258.3" y1="1057.6" x2="292.1" y2="1060.2"/><line x1="258.3" y1="1057.6" x2="304.1" y2="1058.4"/><line x1="270.3" y1="1061.4" x2="281.6" y2="1065.9"/><line x1="270.3" y1="1061.4" x2="292.1" y2="1060.2"/><line x1="270.3" y1="1061.4" x2="304.1" y2="1058.4"/><line x1="281.6" y1="1065.9" x2="292.1" y2="1060.2"/><line x1="281.6" y1="1065.9" x2="304.1" y2="1058.4"/><line x1="292.1" y1="1060.2" x2="304.1" y2="1058.4"/><line x1="643.1" y1="1008.4" x2="661.9" y2="1022.0"/><line x1="643.1" y1="1008.4" x2="628.1" y2="1029.5"/><line x1="643.1" y1="1008.4" x2="663.8" y2="1044.5"/><line x1="643.1" y1="1008.4" x2="638.2" y2="1052.7"/><line x1="661.9" y1="1022.0" x2="628.1" y2="1029.5"/><line x1="661.9" y1="1022.0" x2="663.8" y2="1044.5"/><line x1="661.9" y1="1022.0" x2="638.2" y2="1052.7"/><line x1="628.1" y1="1029.5" x2="663.8" y2="1044.5"/><line x1="628.1" y1="1029.5" x2="638.2" y2="1052.7"/><line x1="663.8" y1="1044.5" x2="638.2" y2="1052.7"/><line x1="720.8" y1="1088.4" x2="743.4" y2="1097.8"/><line x1="720.8" y1="1088.4" x2="703.9" y2="1109.0"/><line x1="720.8" y1="1088.4" x2="741.5" y2="1122.2"/><line x1="720.8" y1="1088.4" x2="719.0" y2="1127.8"/><line x1="743.4" y1="1097.8" x2="703.9" y2="1109.0"/><line x1="743.4" y1="1097.8" x2="741.5" y2="1122.2"/><line x1="743.4" y1="1097.8" x2="719.0" y2="1127.8"/><line x1="703.9" y1="1109.0" x2="741.5" y2="1122.2"/><line x1="703.9" y1="1109.0" x2="719.0" y2="1127.8"/><line x1="741.5" y1="1122.2" x2="719.0" y2="1127.8"/><line x1="133.7" y1="1136.5" x2="111.5" y2="1156.0"/><line x1="133.7" y1="1136.5" x2="152.4" y2="1157.1"/><line x1="133.7" y1="1136.5" x2="130.6" y2="1176.6"/><line x1="111.5" y1="1156.0" x2="152.4" y2="1157.1"/><line x1="111.5" y1="1156.0" x2="130.6" y2="1176.6"/><line x1="152.4" y1="1157.1" x2="130.6" y2="1176.6"/><line x1="492.6" y1="1132.7" x2="501.6" y2="1163.5"/><line x1="596.9" y1="1187.9" x2="619.5" y2="1190.9"/><line x1="596.9" y1="1187.9" x2="583.0" y2="1204.8"/><line x1="596.9" y1="1187.9" x2="627.0" y2="1212.3"/><line x1="596.9" y1="1187.9" x2="593.2" y2="1224.7"/><line x1="596.9" y1="1187.9" x2="613.1" y2="1229.2"/><line x1="619.5" y1="1190.9" x2="583.0" y2="1204.8"/><line x1="619.5" y1="1190.9" x2="627.0" y2="1212.3"/><line x1="619.5" y1="1190.9" x2="593.2" y2="1224.7"/><line x1="619.5" y1="1190.9" x2="613.1" y2="1229.2"/><line x1="583.0" y1="1204.8" x2="627.0" y2="1212.3"/><line x1="583.0" y1="1204.8" x2="593.2" y2="1224.7"/><line x1="583.0" y1="1204.8" x2="613.1" y2="1229.2"/><line x1="627.0" y1="1212.3" x2="593.2" y2="1224.7"/><line x1="627.0" y1="1212.3" x2="613.1" y2="1229.2"/><line x1="593.2" y1="1224.7" x2="613.1" y2="1229.2"/><line x1="714.1" y1="1212.3" x2="735.1" y2="1237.4"/><line x1="783.9" y1="1191.6" x2="791.0" y2="1224.7"/><line x1="167.8" y1="1245.8" x2="189.6" y2="1249.6"/><line x1="167.8" y1="1245.8" x2="151.3" y2="1260.8"/><line x1="167.8" y1="1245.8" x2="199.7" y2="1270.2"/><line x1="167.8" y1="1245.8" x2="160.3" y2="1281.5"/><line x1="167.8" y1="1245.8" x2="182.1" y2="1284.5"/><line x1="189.6" y1="1249.6" x2="151.3" y2="1260.8"/><line x1="189.6" y1="1249.6" x2="199.7" y2="1270.2"/><line x1="189.6" y1="1249.6" x2="160.3" y2="1281.5"/><line x1="189.6" y1="1249.6" x2="182.1" y2="1284.5"/><line x1="151.3" y1="1260.8" x2="199.7" y2="1270.2"/><line x1="151.3" y1="1260.8" x2="160.3" y2="1281.5"/><line x1="151.3" y1="1260.8" x2="182.1" y2="1284.5"/><line x1="199.7" y1="1270.2" x2="160.3" y2="1281.5"/><line x1="199.7" y1="1270.2" x2="182.1" y2="1284.5"/><line x1="160.3" y1="1281.5" x2="182.1" y2="1284.5"/><line x1="378.0" y1="1239.4" x2="358.5" y2="1247.7"/><line x1="378.0" y1="1239.4" x2="396.1" y2="1248.8"/><line x1="378.0" y1="1239.4" x2="374.7" y2="1255.2"/><line x1="378.0" y1="1239.4" x2="392.3" y2="1262.7"/><line x1="378.0" y1="1239.4" x2="349.1" y2="1264.6"/><line x1="378.0" y1="1239.4" x2="402.5" y2="1274.0"/><line x1="378.0" y1="1239.4" x2="354.8" y2="1282.6"/><line x1="378.0" y1="1239.4" x2="378.4" y2="1282.6"/><line x1="378.0" y1="1239.4" x2="393.1" y2="1287.1"/><line x1="378.0" y1="1239.4" x2="369.8" y2="1295.4"/><line x1="358.5" y1="1247.7" x2="396.1" y2="1248.8"/><line x1="358.5" y1="1247.7" x2="374.7" y2="1255.2"/><line x1="358.5" y1="1247.7" x2="392.3" y2="1262.7"/><line x1="358.5" y1="1247.7" x2="349.1" y2="1264.6"/><line x1="358.5" y1="1247.7" x2="402.5" y2="1274.0"/><line x1="358.5" y1="1247.7" x2="354.8" y2="1282.6"/><line x1="358.5" y1="1247.7" x2="378.4" y2="1282.6"/><line x1="358.5" y1="1247.7" x2="393.1" y2="1287.1"/><line x1="358.5" y1="1247.7" x2="369.8" y2="1295.4"/><line x1="396.1" y1="1248.8" x2="374.7" y2="1255.2"/><line x1="396.1" y1="1248.8" x2="392.3" y2="1262.7"/><line x1="396.1" y1="1248.8" x2="349.1" y2="1264.6"/><line x1="396.1" y1="1248.8" x2="402.5" y2="1274.0"/><line x1="396.1" y1="1248.8" x2="354.8" y2="1282.6"/><line x1="396.1" y1="1248.8" x2="378.4" y2="1282.6"/><line x1="396.1" y1="1248.8" x2="393.1" y2="1287.1"/><line x1="396.1" y1="1248.8" x2="369.8" y2="1295.4"/><line x1="374.7" y1="1255.2" x2="392.3" y2="1262.7"/><line x1="374.7" y1="1255.2" x2="349.1" y2="1264.6"/><line x1="374.7" y1="1255.2" x2="402.5" y2="1274.0"/><line x1="374.7" y1="1255.2" x2="354.8" y2="1282.6"/><line x1="374.7" y1="1255.2" x2="378.4" y2="1282.6"/><line x1="374.7" y1="1255.2" x2="393.1" y2="1287.1"/><line x1="374.7" y1="1255.2" x2="369.8" y2="1295.4"/><line x1="392.3" y1="1262.7" x2="349.1" y2="1264.6"/><line x1="392.3" y1="1262.7" x2="402.5" y2="1274.0"/><line x1="392.3" y1="1262.7" x2="354.8" y2="1282.6"/><line x1="392.3" y1="1262.7" x2="378.4" y2="1282.6"/><line x1="392.3" y1="1262.7" x2="393.1" y2="1287.1"/><line x1="392.3" y1="1262.7" x2="369.8" y2="1295.4"/><line x1="349.1" y1="1264.6" x2="402.5" y2="1274.0"/><line x1="349.1" y1="1264.6" x2="354.8" y2="1282.6"/><line x1="349.1" y1="1264.6" x2="378.4" y2="1282.6"/><line x1="349.1" y1="1264.6" x2="393.1" y2="1287.1"/><line x1="349.1" y1="1264.6" x2="369.8" y2="1295.4"/><line x1="402.5" y1="1274.0" x2="354.8" y2="1282.6"/><line x1="402.5" y1="1274.0" x2="378.4" y2="1282.6"/><line x1="402.5" y1="1274.0" x2="393.1" y2="1287.1"/><line x1="402.5" y1="1274.0" x2="369.8" y2="1295.4"/><line x1="354.8" y1="1282.6" x2="378.4" y2="1282.6"/><line x1="354.8" y1="1282.6" x2="393.1" y2="1287.1"/><line x1="354.8" y1="1282.6" x2="369.8" y2="1295.4"/><line x1="378.4" y1="1282.6" x2="393.1" y2="1287.1"/><line x1="378.4" y1="1282.6" x2="369.8" y2="1295.4"/><line x1="393.1" y1="1287.1" x2="369.8" y2="1295.4"/><line x1="106.2" y1="1331.0" x2="119.4" y2="1362.2"/><line x1="545.5" y1="1318.3" x2="570.7" y2="1341.5"/><line x1="711.4" y1="1329.2" x2="729.5" y2="1327.6"/><line x1="711.4" y1="1329.2" x2="739.6" y2="1342.7"/><line x1="711.4" y1="1329.2" x2="715.2" y2="1353.9"/><line x1="711.4" y1="1329.2" x2="693.4" y2="1357.7"/><line x1="711.4" y1="1329.2" x2="740.3" y2="1360.3"/><line x1="711.4" y1="1329.2" x2="707.7" y2="1373.5"/><line x1="711.4" y1="1329.2" x2="726.4" y2="1373.5"/><line x1="729.5" y1="1327.6" x2="739.6" y2="1342.7"/><line x1="729.5" y1="1327.6" x2="715.2" y2="1353.9"/><line x1="729.5" y1="1327.6" x2="693.4" y2="1357.7"/><line x1="729.5" y1="1327.6" x2="740.3" y2="1360.3"/><line x1="729.5" y1="1327.6" x2="707.7" y2="1373.5"/><line x1="729.5" y1="1327.6" x2="726.4" y2="1373.5"/><line x1="739.6" y1="1342.7" x2="715.2" y2="1353.9"/><line x1="739.6" y1="1342.7" x2="693.4" y2="1357.7"/><line x1="739.6" y1="1342.7" x2="740.3" y2="1360.3"/><line x1="739.6" y1="1342.7" x2="707.7" y2="1373.5"/><line x1="739.6" y1="1342.7" x2="726.4" y2="1373.5"/><line x1="715.2" y1="1353.9" x2="693.4" y2="1357.7"/><line x1="715.2" y1="1353.9" x2="740.3" y2="1360.3"/><line x1="715.2" y1="1353.9" x2="707.7" y2="1373.5"/><line x1="715.2" y1="1353.9" x2="726.4" y2="1373.5"/><line x1="693.4" y1="1357.7" x2="740.3" y2="1360.3"/><line x1="693.4" y1="1357.7" x2="707.7" y2="1373.5"/><line x1="693.4" y1="1357.7" x2="726.4" y2="1373.5"/><line x1="740.3" y1="1360.3" x2="707.7" y2="1373.5"/><line x1="740.3" y1="1360.3" x2="726.4" y2="1373.5"/><line x1="707.7" y1="1373.5" x2="726.4" y2="1373.5"/><line x1="214.0" y1="1383.6" x2="190.7" y2="1398.6"/><line x1="214.0" y1="1383.6" x2="236.5" y2="1400.9"/><line x1="214.0" y1="1383.6" x2="214.0" y2="1406.5"/><line x1="214.0" y1="1383.6" x2="196.0" y2="1424.1"/><line x1="214.0" y1="1383.6" x2="225.3" y2="1426.8"/><line x1="190.7" y1="1398.6" x2="236.5" y2="1400.9"/><line x1="190.7" y1="1398.6" x2="214.0" y2="1406.5"/><line x1="190.7" y1="1398.6" x2="196.0" y2="1424.1"/><line x1="190.7" y1="1398.6" x2="225.3" y2="1426.8"/><line x1="236.5" y1="1400.9" x2="214.0" y2="1406.5"/><line x1="236.5" y1="1400.9" x2="196.0" y2="1424.1"/><line x1="236.5" y1="1400.9" x2="225.3" y2="1426.8"/><line x1="214.0" y1="1406.5" x2="196.0" y2="1424.1"/><line x1="214.0" y1="1406.5" x2="225.3" y2="1426.8"/><line x1="196.0" y1="1424.1" x2="225.3" y2="1426.8"/><line x1="484.3" y1="1399.7" x2="458.0" y2="1413.6"/><line x1="484.3" y1="1399.7" x2="497.5" y2="1424.5"/><line x1="484.3" y1="1399.7" x2="470.4" y2="1440.3"/><line x1="458.0" y1="1413.6" x2="497.5" y2="1424.5"/><line x1="458.0" y1="1413.6" x2="470.4" y2="1440.3"/><line x1="497.5" y1="1424.5" x2="470.4" y2="1440.3"/><line x1="342.4" y1="1441.8" x2="371.7" y2="1445.5"/><line x1="342.4" y1="1441.8" x2="340.5" y2="1470.3"/><line x1="342.4" y1="1441.8" x2="369.8" y2="1474.8"/><line x1="371.7" y1="1445.5" x2="340.5" y2="1470.3"/><line x1="371.7" y1="1445.5" x2="369.8" y2="1474.8"/><line x1="340.5" y1="1470.3" x2="369.8" y2="1474.8"/><line x1="613.1" y1="1465.4" x2="599.6" y2="1474.1"/><line x1="613.1" y1="1465.4" x2="630.7" y2="1474.8"/><line x1="613.1" y1="1465.4" x2="588.3" y2="1487.2"/><line x1="613.1" y1="1465.4" x2="614.6" y2="1492.8"/><line x1="613.1" y1="1465.4" x2="637.5" y2="1493.6"/><line x1="613.1" y1="1465.4" x2="593.2" y2="1504.9"/><line x1="613.1" y1="1465.4" x2="626.2" y2="1510.5"/><line x1="613.1" y1="1465.4" x2="608.2" y2="1516.1"/><line x1="599.6" y1="1474.1" x2="630.7" y2="1474.8"/><line x1="599.6" y1="1474.1" x2="588.3" y2="1487.2"/><line x1="599.6" y1="1474.1" x2="614.6" y2="1492.8"/><line x1="599.6" y1="1474.1" x2="637.5" y2="1493.6"/><line x1="599.6" y1="1474.1" x2="593.2" y2="1504.9"/><line x1="599.6" y1="1474.1" x2="626.2" y2="1510.5"/><line x1="599.6" y1="1474.1" x2="608.2" y2="1516.1"/><line x1="630.7" y1="1474.8" x2="588.3" y2="1487.2"/><line x1="630.7" y1="1474.8" x2="614.6" y2="1492.8"/><line x1="630.7" y1="1474.8" x2="637.5" y2="1493.6"/><line x1="630.7" y1="1474.8" x2="593.2" y2="1504.9"/><line x1="630.7" y1="1474.8" x2="626.2" y2="1510.5"/><line x1="630.7" y1="1474.8" x2="608.2" y2="1516.1"/><line x1="588.3" y1="1487.2" x2="614.6" y2="1492.8"/><line x1="588.3" y1="1487.2" x2="637.5" y2="1493.6"/><line x1="588.3" y1="1487.2" x2="593.2" y2="1504.9"/><line x1="588.3" y1="1487.2" x2="626.2" y2="1510.5"/><line x1="588.3" y1="1487.2" x2="608.2" y2="1516.1"/><line x1="614.6" y1="1492.8" x2="637.5" y2="1493.6"/><line x1="614.6" y1="1492.8" x2="593.2" y2="1504.9"/><line x1="614.6" y1="1492.8" x2="626.2" y2="1510.5"/><line x1="614.6" y1="1492.8" x2="608.2" y2="1516.1"/><line x1="637.5" y1="1493.6" x2="593.2" y2="1504.9"/><line x1="637.5" y1="1493.6" x2="626.2" y2="1510.5"/><line x1="637.5" y1="1493.6" x2="608.2" y2="1516.1"/><line x1="593.2" y1="1504.9" x2="626.2" y2="1510.5"/><line x1="593.2" y1="1504.9" x2="608.2" y2="1516.1"/><line x1="626.2" y1="1510.5" x2="608.2" y2="1516.1"/><line x1="206.5" y1="1499.2" x2="234.6" y2="1516.9"/><line x1="289.1" y1="1511.6" x2="294.7" y2="1541.6"/><line x1="480.5" y1="1516.1" x2="505.0" y2="1541.6"/><line x1="374.7" y1="1548.8" x2="351.8" y2="1570.6"/><line x1="441.1" y1="1560.4" x2="465.5" y2="1584.8"/><line x1="441.1" y1="1560.4" x2="431.7" y2="1590.4"/><line x1="465.5" y1="1584.8" x2="431.7" y2="1590.4"/><line x1="1250.9" y1="77.7" x2="1284.6" y2="60.1"/><line x1="1435.6" y1="37.5" x2="1472.4" y2="45.8"/><line x1="1142.7" y1="169.7" x2="1167.9" y2="164.4"/><line x1="1142.7" y1="169.7" x2="1137.1" y2="194.5"/><line x1="1142.7" y1="169.7" x2="1179.2" y2="187.7"/><line x1="1142.7" y1="169.7" x2="1158.9" y2="205.4"/><line x1="1167.9" y1="164.4" x2="1137.1" y2="194.5"/><line x1="1167.9" y1="164.4" x2="1179.2" y2="187.7"/><line x1="1167.9" y1="164.4" x2="1158.9" y2="205.4"/><line x1="1137.1" y1="194.5" x2="1179.2" y2="187.7"/><line x1="1137.1" y1="194.5" x2="1158.9" y2="205.4"/><line x1="1179.2" y1="187.7" x2="1158.9" y2="205.4"/><line x1="1097.7" y1="274.0" x2="1088.3" y2="303.3"/><line x1="1097.7" y1="274.0" x2="1122.8" y2="295.5"/><line x1="1088.3" y1="303.3" x2="1122.8" y2="295.5"/><line x1="1188.9" y1="332.3" x2="1195.3" y2="364.2"/><line x1="1081.2" y1="364.9" x2="1117.2" y2="370.5"/><line x1="1592.5" y1="117.1" x2="1585.8" y2="158.4"/><line x1="1592.5" y1="117.1" x2="1603.8" y2="148.3"/><line x1="1592.5" y1="117.1" x2="1626.3" y2="158.4"/><line x1="1585.8" y1="158.4" x2="1603.8" y2="148.3"/><line x1="1585.8" y1="158.4" x2="1626.3" y2="158.4"/><line x1="1603.8" y1="148.3" x2="1626.3" y2="158.4"/><line x1="1585.8" y1="158.4" x2="1588.8" y2="185.8"/><line x1="1603.8" y1="148.3" x2="1588.8" y2="185.8"/><line x1="1626.3" y1="158.4" x2="1588.8" y2="185.8"/><line x1="1585.8" y1="158.4" x2="1630.8" y2="180.2"/><line x1="1603.8" y1="148.3" x2="1630.8" y2="180.2"/><line x1="1626.3" y1="158.4" x2="1630.8" y2="180.2"/><line x1="1588.8" y1="185.8" x2="1630.8" y2="180.2"/><line x1="1626.3" y1="158.4" x2="1668.3" y2="162.2"/><line x1="1630.8" y1="180.2" x2="1668.3" y2="162.2"/><line x1="1668.3" y1="162.2" x2="1667.2" y2="192.2"/><line x1="1630.8" y1="180.2" x2="1667.2" y2="192.2"/><line x1="1626.3" y1="158.4" x2="1667.2" y2="192.2"/><line x1="1588.8" y1="185.8" x2="1609.4" y2="196.0"/><line x1="1630.8" y1="180.2" x2="1609.4" y2="196.0"/><line x1="1603.8" y1="148.3" x2="1609.4" y2="196.0"/><line x1="1626.3" y1="158.4" x2="1609.4" y2="196.0"/><line x1="1692.0" y1="279.7" x2="1720.9" y2="261.7"/><line x1="1610.1" y1="323.6" x2="1643.9" y2="327.4"/><line x1="1748.3" y1="321.7" x2="1736.7" y2="354.0"/><line x1="1736.7" y1="354.0" x2="1705.9" y2="370.5"/><line x1="1067.6" y1="432.6" x2="1096.9" y2="423.2"/><line x1="1236.6" y1="427.7" x2="1205.8" y2="443.8"/><line x1="1236.6" y1="427.7" x2="1232.8" y2="461.8"/><line x1="1205.8" y1="443.8" x2="1232.8" y2="461.8"/><line x1="1107.8" y1="481.4" x2="1140.1" y2="468.2"/><line x1="1322.9" y1="458.8" x2="1310.9" y2="493.8"/><line x1="1322.9" y1="458.8" x2="1344.0" y2="485.9"/><line x1="1310.9" y1="493.8" x2="1344.0" y2="485.9"/><line x1="1475.0" y1="458.1" x2="1449.8" y2="467.1"/><line x1="1475.0" y1="458.1" x2="1490.0" y2="479.5"/><line x1="1475.0" y1="458.1" x2="1449.5" y2="492.6"/><line x1="1475.0" y1="458.1" x2="1475.0" y2="500.1"/><line x1="1449.8" y1="467.1" x2="1490.0" y2="479.5"/><line x1="1449.8" y1="467.1" x2="1449.5" y2="492.6"/><line x1="1449.8" y1="467.1" x2="1475.0" y2="500.1"/><line x1="1490.0" y1="479.5" x2="1449.5" y2="492.6"/><line x1="1490.0" y1="479.5" x2="1475.0" y2="500.1"/><line x1="1449.5" y1="492.6" x2="1475.0" y2="500.1"/><line x1="1575.2" y1="392.0" x2="1610.5" y2="407.0"/><line x1="1610.5" y1="407.0" x2="1637.6" y2="438.9"/><line x1="1637.6" y1="438.9" x2="1676.6" y2="433.3"/><line x1="1637.6" y1="438.9" x2="1612.8" y2="471.2"/><line x1="1612.8" y1="471.2" x2="1584.2" y2="497.1"/><line x1="1749.0" y1="427.7" x2="1744.2" y2="459.6"/><line x1="1677.7" y1="512.2" x2="1712.3" y2="515.9"/><line x1="1125.1" y1="542.2" x2="1155.9" y2="545.2"/><line x1="1125.1" y1="542.2" x2="1124.0" y2="571.5"/><line x1="1125.1" y1="542.2" x2="1152.1" y2="575.2"/><line x1="1155.9" y1="545.2" x2="1124.0" y2="571.5"/><line x1="1155.9" y1="545.2" x2="1152.1" y2="575.2"/><line x1="1124.0" y1="571.5" x2="1152.1" y2="575.2"/><line x1="1240.3" y1="549.0" x2="1225.3" y2="579.7"/><line x1="1301.2" y1="597.0" x2="1332.3" y2="586.5"/><line x1="1301.2" y1="597.0" x2="1322.2" y2="622.2"/><line x1="1332.3" y1="586.5" x2="1322.2" y2="622.2"/><line x1="1401.8" y1="583.5" x2="1397.3" y2="619.5"/><line x1="1470.1" y1="600.4" x2="1464.9" y2="632.7"/><line x1="1561.3" y1="594.7" x2="1585.8" y2="605.3"/><line x1="1561.3" y1="594.7" x2="1547.1" y2="617.7"/><line x1="1561.3" y1="594.7" x2="1585.8" y2="630.8"/><line x1="1561.3" y1="594.7" x2="1562.5" y2="638.3"/><line x1="1585.8" y1="605.3" x2="1547.1" y2="617.7"/><line x1="1585.8" y1="605.3" x2="1585.8" y2="630.8"/><line x1="1585.8" y1="605.3" x2="1562.5" y2="638.3"/><line x1="1547.1" y1="617.7" x2="1585.8" y2="630.8"/><line x1="1547.1" y1="617.7" x2="1562.5" y2="638.3"/><line x1="1585.8" y1="630.8" x2="1562.5" y2="638.3"/><line x1="1654.4" y1="574.5" x2="1686.0" y2="583.5"/><line x1="1654.4" y1="574.5" x2="1663.5" y2="607.9"/><line x1="1686.0" y1="583.5" x2="1663.5" y2="607.9"/><line x1="1244.8" y1="645.8" x2="1214.8" y2="657.8"/><line x1="1244.8" y1="645.8" x2="1244.1" y2="675.8"/><line x1="1214.8" y1="657.8" x2="1244.1" y2="675.8"/><line x1="1322.2" y1="699.9" x2="1356.0" y2="705.5"/><line x1="1356.0" y1="705.5" x2="1390.5" y2="702.1"/><line x1="1463.7" y1="691.6" x2="1497.5" y2="701.7"/><line x1="1463.7" y1="691.6" x2="1469.4" y2="720.9"/><line x1="1497.5" y1="701.7" x2="1469.4" y2="720.9"/><line x1="2186.2" y1="61.8" x2="2208.9" y2="59.7"/><line x1="2186.2" y1="61.8" x2="2223.3" y2="78.2"/><line x1="2186.2" y1="61.8" x2="2200.6" y2="81.5"/><line x1="2186.2" y1="61.8" x2="2177.2" y2="86.5"/><line x1="2186.2" y1="61.8" x2="2191.6" y2="104.2"/><line x1="2186.2" y1="61.8" x2="2215.0" y2="100.9"/><line x1="2208.9" y1="59.7" x2="2223.3" y2="78.2"/><line x1="2208.9" y1="59.7" x2="2200.6" y2="81.5"/><line x1="2208.9" y1="59.7" x2="2177.2" y2="86.5"/><line x1="2208.9" y1="59.7" x2="2191.6" y2="104.2"/><line x1="2208.9" y1="59.7" x2="2215.0" y2="100.9"/><line x1="2223.3" y1="78.2" x2="2200.6" y2="81.5"/><line x1="2223.3" y1="78.2" x2="2177.2" y2="86.5"/><line x1="2223.3" y1="78.2" x2="2191.6" y2="104.2"/><line x1="2223.3" y1="78.2" x2="2215.0" y2="100.9"/><line x1="2200.6" y1="81.5" x2="2177.2" y2="86.5"/><line x1="2200.6" y1="81.5" x2="2191.6" y2="104.2"/><line x1="2200.6" y1="81.5" x2="2215.0" y2="100.9"/><line x1="2177.2" y1="86.5" x2="2191.6" y2="104.2"/><line x1="2177.2" y1="86.5" x2="2215.0" y2="100.9"/><line x1="2191.6" y1="104.2" x2="2215.0" y2="100.9"/><line x1="2328.3" y1="43.2" x2="2357.1" y2="46.1"/><line x1="2328.3" y1="43.2" x2="2325.4" y2="72.9"/><line x1="2328.3" y1="43.2" x2="2353.0" y2="75.0"/><line x1="2357.1" y1="46.1" x2="2325.4" y2="72.9"/><line x1="2357.1" y1="46.1" x2="2353.0" y2="75.0"/><line x1="2325.4" y1="72.9" x2="2353.0" y2="75.0"/><line x1="2066.0" y1="123.5" x2="2094.0" y2="110.0"/><line x1="2431.2" y1="72.1" x2="2418.9" y2="104.2"/><line x1="2473.7" y1="117.4" x2="2506.2" y2="116.5"/><line x1="2506.2" y1="116.5" x2="2536.2" y2="135.1"/><line x1="2010.0" y1="189.4" x2="2038.0" y2="177.9"/><line x1="2097.7" y1="193.6" x2="2126.5" y2="184.1"/><line x1="1996.8" y1="273.0" x2="1980.3" y2="284.1"/><line x1="1996.8" y1="273.0" x2="2015.3" y2="286.2"/><line x1="1996.8" y1="273.0" x2="1975.0" y2="306.8"/><line x1="1996.8" y1="273.0" x2="2012.4" y2="308.0"/><line x1="1996.8" y1="273.0" x2="1994.7" y2="317.9"/><line x1="1980.3" y1="284.1" x2="2015.3" y2="286.2"/><line x1="1980.3" y1="284.1" x2="1975.0" y2="306.8"/><line x1="1980.3" y1="284.1" x2="2012.4" y2="308.0"/><line x1="1980.3" y1="284.1" x2="1994.7" y2="317.9"/><line x1="2015.3" y1="286.2" x2="1975.0" y2="306.8"/><line x1="2015.3" y1="286.2" x2="2012.4" y2="308.0"/><line x1="2015.3" y1="286.2" x2="1994.7" y2="317.9"/><line x1="1975.0" y1="306.8" x2="2012.4" y2="308.0"/><line x1="1975.0" y1="306.8" x2="1994.7" y2="317.9"/><line x1="2012.4" y1="308.0" x2="1994.7" y2="317.9"/><line x1="2100.1" y1="260.3" x2="2104.3" y2="293.6"/><line x1="2491.0" y1="194.8" x2="2526.0" y2="196.8"/><line x1="2491.0" y1="194.8" x2="2508.3" y2="225.7"/><line x1="2526.0" y1="196.8" x2="2508.3" y2="225.7"/><line x1="2591.8" y1="213.3" x2="2573.7" y2="239.7"/><line x1="2570.4" y1="294.0" x2="2605.0" y2="287.4"/><line x1="2585.7" y1="351.3" x2="2619.4" y2="352.9"/><line x1="2585.7" y1="351.3" x2="2602.1" y2="380.1"/><line x1="2619.4" y1="352.9" x2="2602.1" y2="380.1"/><line x1="2520.6" y1="381.7" x2="2506.2" y2="413.0"/><line x1="2520.6" y1="381.7" x2="2537.1" y2="413.9"/><line x1="2506.2" y1="413.0" x2="2537.1" y2="413.9"/><line x1="1946.1" y1="409.7" x2="1975.0" y2="401.5"/><line x1="2045.4" y1="396.6" x2="2112.1" y2="400.3"/><line x1="2112.1" y1="400.3" x2="2139.7" y2="427.0"/><line x1="2629.7" y1="432.4" x2="2614.5" y2="462.0"/><line x1="1961.8" y1="490.4" x2="1990.6" y2="471.8"/><line x1="1990.6" y1="471.8" x2="2019.4" y2="465.7"/><line x1="2010.0" y1="537.7" x2="2000.1" y2="566.5"/><line x1="2117.0" y1="525.0" x2="2136.8" y2="528.3"/><line x1="2117.0" y1="525.0" x2="2101.8" y2="537.3"/><line x1="2117.0" y1="525.0" x2="2140.9" y2="547.6"/><line x1="2117.0" y1="525.0" x2="2100.6" y2="558.3"/><line x1="2117.0" y1="525.0" x2="2118.3" y2="566.1"/><line x1="2117.0" y1="525.0" x2="2137.6" y2="567.8"/><line x1="2136.8" y1="528.3" x2="2101.8" y2="537.3"/><line x1="2136.8" y1="528.3" x2="2140.9" y2="547.6"/><line x1="2136.8" y1="528.3" x2="2100.6" y2="558.3"/><line x1="2136.8" y1="528.3" x2="2118.3" y2="566.1"/><line x1="2136.8" y1="528.3" x2="2137.6" y2="567.8"/><line x1="2101.8" y1="537.3" x2="2140.9" y2="547.6"/><line x1="2101.8" y1="537.3" x2="2100.6" y2="558.3"/><line x1="2101.8" y1="537.3" x2="2118.3" y2="566.1"/><line x1="2101.8" y1="537.3" x2="2137.6" y2="567.8"/><line x1="2140.9" y1="547.6" x2="2100.6" y2="558.3"/><line x1="2140.9" y1="547.6" x2="2118.3" y2="566.1"/><line x1="2140.9" y1="547.6" x2="2137.6" y2="567.8"/><line x1="2100.6" y1="558.3" x2="2118.3" y2="566.1"/><line x1="2100.6" y1="558.3" x2="2137.6" y2="567.8"/><line x1="2118.3" y1="566.1" x2="2137.6" y2="567.8"/><line x1="2290.4" y1="534.4" x2="2269.8" y2="554.2"/><line x1="2290.4" y1="534.4" x2="2315.9" y2="548.0"/><line x1="2290.4" y1="534.4" x2="2293.7" y2="558.3"/><line x1="2290.4" y1="534.4" x2="2281.3" y2="578.9"/><line x1="2290.4" y1="534.4" x2="2311.0" y2="576.0"/><line x1="2269.8" y1="554.2" x2="2315.9" y2="548.0"/><line x1="2269.8" y1="554.2" x2="2293.7" y2="558.3"/><line x1="2269.8" y1="554.2" x2="2281.3" y2="578.9"/><line x1="2269.8" y1="554.2" x2="2311.0" y2="576.0"/><line x1="2315.9" y1="548.0" x2="2293.7" y2="558.3"/><line x1="2315.9" y1="548.0" x2="2281.3" y2="578.9"/><line x1="2315.9" y1="548.0" x2="2311.0" y2="576.0"/><line x1="2293.7" y1="558.3" x2="2281.3" y2="578.9"/><line x1="2293.7" y1="558.3" x2="2311.0" y2="576.0"/><line x1="2281.3" y1="578.9" x2="2311.0" y2="576.0"/><line x1="2440.3" y1="485.0" x2="2423.0" y2="515.9"/><line x1="2503.3" y1="503.5" x2="2491.8" y2="535.7"/><line x1="2567.1" y1="491.2" x2="2585.7" y2="524.1"/><line x1="2585.7" y1="524.1" x2="2576.2" y2="557.9"/><line x1="2576.2" y1="557.9" x2="2564.3" y2="590.0"/><line x1="2041.7" y1="629.6" x2="2064.7" y2="651.8"/><line x1="2164.4" y1="663.3" x2="2137.6" y2="676.5"/><line x1="2164.4" y1="663.3" x2="2176.7" y2="689.7"/><line x1="2164.4" y1="663.3" x2="2152.0" y2="699.1"/><line x1="2137.6" y1="676.5" x2="2176.7" y2="689.7"/><line x1="2137.6" y1="676.5" x2="2152.0" y2="699.1"/><line x1="2176.7" y1="689.7" x2="2152.0" y2="699.1"/><line x1="2282.2" y1="683.9" x2="2304.4" y2="686.0"/><line x1="2282.2" y1="683.9" x2="2267.8" y2="703.3"/><line x1="2282.2" y1="683.9" x2="2290.4" y2="707.4"/><line x1="2282.2" y1="683.9" x2="2315.1" y2="706.6"/><line x1="2282.2" y1="683.9" x2="2277.6" y2="725.1"/><line x1="2282.2" y1="683.9" x2="2302.3" y2="727.2"/><line x1="2304.4" y1="686.0" x2="2267.8" y2="703.3"/><line x1="2304.4" y1="686.0" x2="2290.4" y2="707.4"/><line x1="2304.4" y1="686.0" x2="2315.1" y2="706.6"/><line x1="2304.4" y1="686.0" x2="2277.6" y2="725.1"/><line x1="2304.4" y1="686.0" x2="2302.3" y2="727.2"/><line x1="2267.8" y1="703.3" x2="2290.4" y2="707.4"/><line x1="2267.8" y1="703.3" x2="2315.1" y2="706.6"/><line x1="2267.8" y1="703.3" x2="2277.6" y2="725.1"/><line x1="2267.8" y1="703.3" x2="2302.3" y2="727.2"/><line x1="2290.4" y1="707.4" x2="2315.1" y2="706.6"/><line x1="2290.4" y1="707.4" x2="2277.6" y2="725.1"/><line x1="2290.4" y1="707.4" x2="2302.3" y2="727.2"/><line x1="2315.1" y1="706.6" x2="2277.6" y2="725.1"/><line x1="2315.1" y1="706.6" x2="2302.3" y2="727.2"/><line x1="2277.6" y1="725.1" x2="2302.3" y2="727.2"/><line x1="2404.9" y1="600.3" x2="2398.3" y2="632.0"/><line x1="2478.6" y1="613.5" x2="2506.2" y2="620.9"/><line x1="2478.6" y1="613.5" x2="2475.3" y2="642.3"/><line x1="2478.6" y1="613.5" x2="2501.3" y2="648.9"/><line x1="2506.2" y1="620.9" x2="2475.3" y2="642.3"/><line x1="2506.2" y1="620.9" x2="2501.3" y2="648.9"/><line x1="2475.3" y1="642.3" x2="2501.3" y2="648.9"/><line x1="2406.5" y1="708.2" x2="2436.2" y2="702.4"/><line x1="3188.4" y1="31.2" x2="3147.7" y2="44.3"/><line x1="3188.4" y1="31.2" x2="3177.9" y2="70.8"/><line x1="3147.7" y1="44.3" x2="3177.9" y2="70.8"/><line x1="3310.5" y1="55.6" x2="3341.4" y2="64.7"/><line x1="3310.5" y1="55.6" x2="3293.1" y2="82.5"/><line x1="3310.5" y1="55.6" x2="3342.5" y2="96.3"/><line x1="3310.5" y1="55.6" x2="3313.4" y2="107.5"/><line x1="3341.4" y1="64.7" x2="3293.1" y2="82.5"/><line x1="3341.4" y1="64.7" x2="3342.5" y2="96.3"/><line x1="3341.4" y1="64.7" x2="3313.4" y2="107.5"/><line x1="3293.1" y1="82.5" x2="3342.5" y2="96.3"/><line x1="3293.1" y1="82.5" x2="3313.4" y2="107.5"/><line x1="3342.5" y1="96.3" x2="3313.4" y2="107.5"/><line x1="3027.1" y1="95.5" x2="3058.7" y2="109.0"/><line x1="3027.1" y1="95.5" x2="3010.0" y2="127.2"/><line x1="3027.1" y1="95.5" x2="3042.7" y2="142.4"/><line x1="3058.7" y1="109.0" x2="3010.0" y2="127.2"/><line x1="3058.7" y1="109.0" x2="3042.7" y2="142.4"/><line x1="3010.0" y1="127.2" x2="3042.7" y2="142.4"/><line x1="3447.1" y1="94.1" x2="3436.2" y2="132.6"/><line x1="2935.6" y1="196.2" x2="2970.4" y2="215.1"/><line x1="3141.2" y1="162.8" x2="3116.1" y2="197.3"/><line x1="3227.3" y1="168.9" x2="3256.0" y2="199.8"/><line x1="3389.3" y1="210.0" x2="3430.0" y2="222.3"/><line x1="3509.9" y1="164.6" x2="3520.5" y2="202.4"/><line x1="2922.5" y1="276.8" x2="2890.9" y2="300.8"/><line x1="3042.0" y1="276.5" x2="3013.3" y2="305.2"/><line x1="3171.7" y1="268.8" x2="3137.2" y2="292.4"/><line x1="3562.2" y1="288.8" x2="3530.3" y2="303.3"/><line x1="3562.2" y1="288.8" x2="3575.7" y2="324.1"/><line x1="3562.2" y1="288.8" x2="3544.1" y2="339.0"/><line x1="3530.3" y1="303.3" x2="3575.7" y2="324.1"/><line x1="3530.3" y1="303.3" x2="3544.1" y2="339.0"/><line x1="3575.7" y1="324.1" x2="3544.1" y2="339.0"/><line x1="2919.9" y1="395.6" x2="2949.7" y2="401.8"/><line x1="2919.9" y1="395.6" x2="2900.7" y2="421.1"/><line x1="2919.9" y1="395.6" x2="2952.6" y2="435.2"/><line x1="2919.9" y1="395.6" x2="2922.5" y2="444.7"/><line x1="2949.7" y1="401.8" x2="2900.7" y2="421.1"/><line x1="2949.7" y1="401.8" x2="2952.6" y2="435.2"/><line x1="2949.7" y1="401.8" x2="2922.5" y2="444.7"/><line x1="2900.7" y1="421.1" x2="2952.6" y2="435.2"/><line x1="2900.7" y1="421.1" x2="2922.5" y2="444.7"/><line x1="2952.6" y1="435.2" x2="2922.5" y2="444.7"/><line x1="3065.6" y1="400.7" x2="3102.3" y2="422.1"/><line x1="3065.6" y1="400.7" x2="3066.4" y2="445.8"/><line x1="3102.3" y1="422.1" x2="3066.4" y2="445.8"/><line x1="3345.0" y1="402.5" x2="3327.9" y2="406.5"/><line x1="3345.0" y1="402.5" x2="3361.7" y2="410.5"/><line x1="3345.0" y1="402.5" x2="3311.2" y2="413.8"/><line x1="3345.0" y1="402.5" x2="3346.8" y2="420.7"/><line x1="3345.0" y1="402.5" x2="3373.0" y2="424.3"/><line x1="3345.0" y1="402.5" x2="3326.1" y2="426.1"/><line x1="3345.0" y1="402.5" x2="3306.1" y2="432.0"/><line x1="3345.0" y1="402.5" x2="3358.8" y2="435.2"/><line x1="3345.0" y1="402.5" x2="3323.2" y2="445.4"/><line x1="3345.0" y1="402.5" x2="3342.1" y2="446.1"/><line x1="3345.0" y1="402.5" x2="3374.8" y2="444.7"/><line x1="3345.0" y1="402.5" x2="3307.9" y2="452.3"/><line x1="3345.0" y1="402.5" x2="3362.4" y2="456.3"/><line x1="3345.0" y1="402.5" x2="3321.4" y2="466.5"/><line x1="3345.0" y1="402.5" x2="3337.4" y2="467.2"/><line x1="3345.0" y1="402.5" x2="3353.7" y2="468.6"/><line x1="3327.9" y1="406.5" x2="3361.7" y2="410.5"/><line x1="3327.9" y1="406.5" x2="3311.2" y2="413.8"/><line x1="3327.9" y1="406.5" x2="3346.8" y2="420.7"/><line x1="3327.9" y1="406.5" x2="3373.0" y2="424.3"/><line x1="3327.9" y1="406.5" x2="3326.1" y2="426.1"/><line x1="3327.9" y1="406.5" x2="3306.1" y2="432.0"/><line x1="3327.9" y1="406.5" x2="3358.8" y2="435.2"/><line x1="3327.9" y1="406.5" x2="3323.2" y2="445.4"/><line x1="3327.9" y1="406.5" x2="3342.1" y2="446.1"/><line x1="3327.9" y1="406.5" x2="3374.8" y2="444.7"/><line x1="3327.9" y1="406.5" x2="3307.9" y2="452.3"/><line x1="3327.9" y1="406.5" x2="3362.4" y2="456.3"/><line x1="3327.9" y1="406.5" x2="3321.4" y2="466.5"/><line x1="3327.9" y1="406.5" x2="3337.4" y2="467.2"/><line x1="3327.9" y1="406.5" x2="3353.7" y2="468.6"/><line x1="3361.7" y1="410.5" x2="3311.2" y2="413.8"/><line x1="3361.7" y1="410.5" x2="3346.8" y2="420.7"/><line x1="3361.7" y1="410.5" x2="3373.0" y2="424.3"/><line x1="3361.7" y1="410.5" x2="3326.1" y2="426.1"/><line x1="3361.7" y1="410.5" x2="3306.1" y2="432.0"/><line x1="3361.7" y1="410.5" x2="3358.8" y2="435.2"/><line x1="3361.7" y1="410.5" x2="3323.2" y2="445.4"/><line x1="3361.7" y1="410.5" x2="3342.1" y2="446.1"/><line x1="3361.7" y1="410.5" x2="3374.8" y2="444.7"/><line x1="3361.7" y1="410.5" x2="3307.9" y2="452.3"/><line x1="3361.7" y1="410.5" x2="3362.4" y2="456.3"/><line x1="3361.7" y1="410.5" x2="3321.4" y2="466.5"/><line x1="3361.7" y1="410.5" x2="3337.4" y2="467.2"/><line x1="3361.7" y1="410.5" x2="3353.7" y2="468.6"/><line x1="3311.2" y1="413.8" x2="3346.8" y2="420.7"/><line x1="3311.2" y1="413.8" x2="3373.0" y2="424.3"/><line x1="3311.2" y1="413.8" x2="3326.1" y2="426.1"/><line x1="3311.2" y1="413.8" x2="3306.1" y2="432.0"/><line x1="3311.2" y1="413.8" x2="3358.8" y2="435.2"/><line x1="3311.2" y1="413.8" x2="3323.2" y2="445.4"/><line x1="3311.2" y1="413.8" x2="3342.1" y2="446.1"/><line x1="3311.2" y1="413.8" x2="3374.8" y2="444.7"/><line x1="3311.2" y1="413.8" x2="3307.9" y2="452.3"/><line x1="3311.2" y1="413.8" x2="3362.4" y2="456.3"/><line x1="3311.2" y1="413.8" x2="3321.4" y2="466.5"/><line x1="3311.2" y1="413.8" x2="3337.4" y2="467.2"/><line x1="3311.2" y1="413.8" x2="3353.7" y2="468.6"/><line x1="3346.8" y1="420.7" x2="3373.0" y2="424.3"/><line x1="3346.8" y1="420.7" x2="3326.1" y2="426.1"/><line x1="3346.8" y1="420.7" x2="3306.1" y2="432.0"/><line x1="3346.8" y1="420.7" x2="3358.8" y2="435.2"/><line x1="3346.8" y1="420.7" x2="3323.2" y2="445.4"/><line x1="3346.8" y1="420.7" x2="3342.1" y2="446.1"/><line x1="3346.8" y1="420.7" x2="3374.8" y2="444.7"/><line x1="3346.8" y1="420.7" x2="3307.9" y2="452.3"/><line x1="3346.8" y1="420.7" x2="3362.4" y2="456.3"/><line x1="3346.8" y1="420.7" x2="3321.4" y2="466.5"/><line x1="3346.8" y1="420.7" x2="3337.4" y2="467.2"/><line x1="3346.8" y1="420.7" x2="3353.7" y2="468.6"/><line x1="3373.0" y1="424.3" x2="3326.1" y2="426.1"/><line x1="3373.0" y1="424.3" x2="3306.1" y2="432.0"/><line x1="3373.0" y1="424.3" x2="3358.8" y2="435.2"/><line x1="3373.0" y1="424.3" x2="3323.2" y2="445.4"/><line x1="3373.0" y1="424.3" x2="3342.1" y2="446.1"/><line x1="3373.0" y1="424.3" x2="3374.8" y2="444.7"/><line x1="3373.0" y1="424.3" x2="3307.9" y2="452.3"/><line x1="3373.0" y1="424.3" x2="3362.4" y2="456.3"/><line x1="3373.0" y1="424.3" x2="3321.4" y2="466.5"/><line x1="3373.0" y1="424.3" x2="3337.4" y2="467.2"/><line x1="3373.0" y1="424.3" x2="3353.7" y2="468.6"/><line x1="3326.1" y1="426.1" x2="3306.1" y2="432.0"/><line x1="3326.1" y1="426.1" x2="3358.8" y2="435.2"/><line x1="3326.1" y1="426.1" x2="3323.2" y2="445.4"/><line x1="3326.1" y1="426.1" x2="3342.1" y2="446.1"/><line x1="3326.1" y1="426.1" x2="3374.8" y2="444.7"/><line x1="3326.1" y1="426.1" x2="3307.9" y2="452.3"/><line x1="3326.1" y1="426.1" x2="3362.4" y2="456.3"/><line x1="3326.1" y1="426.1" x2="3321.4" y2="466.5"/><line x1="3326.1" y1="426.1" x2="3337.4" y2="467.2"/><line x1="3326.1" y1="426.1" x2="3353.7" y2="468.6"/><line x1="3306.1" y1="432.0" x2="3358.8" y2="435.2"/><line x1="3306.1" y1="432.0" x2="3323.2" y2="445.4"/><line x1="3306.1" y1="432.0" x2="3342.1" y2="446.1"/><line x1="3306.1" y1="432.0" x2="3374.8" y2="444.7"/><line x1="3306.1" y1="432.0" x2="3307.9" y2="452.3"/><line x1="3306.1" y1="432.0" x2="3362.4" y2="456.3"/><line x1="3306.1" y1="432.0" x2="3321.4" y2="466.5"/><line x1="3306.1" y1="432.0" x2="3337.4" y2="467.2"/><line x1="3306.1" y1="432.0" x2="3353.7" y2="468.6"/><line x1="3358.8" y1="435.2" x2="3323.2" y2="445.4"/><line x1="3358.8" y1="435.2" x2="3342.1" y2="446.1"/><line x1="3358.8" y1="435.2" x2="3374.8" y2="444.7"/><line x1="3358.8" y1="435.2" x2="3307.9" y2="452.3"/><line x1="3358.8" y1="435.2" x2="3362.4" y2="456.3"/><line x1="3358.8" y1="435.2" x2="3321.4" y2="466.5"/><line x1="3358.8" y1="435.2" x2="3337.4" y2="467.2"/><line x1="3358.8" y1="435.2" x2="3353.7" y2="468.6"/><line x1="3323.2" y1="445.4" x2="3342.1" y2="446.1"/><line x1="3323.2" y1="445.4" x2="3374.8" y2="444.7"/><line x1="3323.2" y1="445.4" x2="3307.9" y2="452.3"/><line x1="3323.2" y1="445.4" x2="3362.4" y2="456.3"/><line x1="3323.2" y1="445.4" x2="3321.4" y2="466.5"/><line x1="3323.2" y1="445.4" x2="3337.4" y2="467.2"/><line x1="3323.2" y1="445.4" x2="3353.7" y2="468.6"/><line x1="3342.1" y1="446.1" x2="3374.8" y2="444.7"/><line x1="3342.1" y1="446.1" x2="3307.9" y2="452.3"/><line x1="3342.1" y1="446.1" x2="3362.4" y2="456.3"/><line x1="3342.1" y1="446.1" x2="3321.4" y2="466.5"/><line x1="3342.1" y1="446.1" x2="3337.4" y2="467.2"/><line x1="3342.1" y1="446.1" x2="3353.7" y2="468.6"/><line x1="3374.8" y1="444.7" x2="3307.9" y2="452.3"/><line x1="3374.8" y1="444.7" x2="3362.4" y2="456.3"/><line x1="3374.8" y1="444.7" x2="3321.4" y2="466.5"/><line x1="3374.8" y1="444.7" x2="3337.4" y2="467.2"/><line x1="3374.8" y1="444.7" x2="3353.7" y2="468.6"/><line x1="3307.9" y1="452.3" x2="3362.4" y2="456.3"/><line x1="3307.9" y1="452.3" x2="3321.4" y2="466.5"/><line x1="3307.9" y1="452.3" x2="3337.4" y2="467.2"/><line x1="3307.9" y1="452.3" x2="3353.7" y2="468.6"/><line x1="3362.4" y1="456.3" x2="3321.4" y2="466.5"/><line x1="3362.4" y1="456.3" x2="3337.4" y2="467.2"/><line x1="3362.4" y1="456.3" x2="3353.7" y2="468.6"/><line x1="3321.4" y1="466.5" x2="3337.4" y2="467.2"/><line x1="3321.4" y1="466.5" x2="3353.7" y2="468.6"/><line x1="3337.4" y1="467.2" x2="3353.7" y2="468.6"/><line x1="3570.2" y1="443.6" x2="3560.4" y2="483.5"/><line x1="2957.4" y1="534.8" x2="2936.3" y2="566.7"/><line x1="3065.3" y1="586.0" x2="3095.0" y2="587.8"/><line x1="3065.3" y1="586.0" x2="3047.8" y2="606.0"/><line x1="3065.3" y1="586.0" x2="3079.8" y2="614.3"/><line x1="3065.3" y1="586.0" x2="3106.0" y2="616.9"/><line x1="3065.3" y1="586.0" x2="3056.2" y2="634.3"/><line x1="3065.3" y1="586.0" x2="3085.2" y2="643.4"/><line x1="3095.0" y1="587.8" x2="3047.8" y2="606.0"/><line x1="3095.0" y1="587.8" x2="3079.8" y2="614.3"/><line x1="3095.0" y1="587.8" x2="3106.0" y2="616.9"/><line x1="3095.0" y1="587.8" x2="3056.2" y2="634.3"/><line x1="3095.0" y1="587.8" x2="3085.2" y2="643.4"/><line x1="3047.8" y1="606.0" x2="3079.8" y2="614.3"/><line x1="3047.8" y1="606.0" x2="3106.0" y2="616.9"/><line x1="3047.8" y1="606.0" x2="3056.2" y2="634.3"/><line x1="3047.8" y1="606.0" x2="3085.2" y2="643.4"/><line x1="3079.8" y1="614.3" x2="3106.0" y2="616.9"/><line x1="3079.8" y1="614.3" x2="3056.2" y2="634.3"/><line x1="3079.8" y1="614.3" x2="3085.2" y2="643.4"/><line x1="3106.0" y1="616.9" x2="3056.2" y2="634.3"/><line x1="3106.0" y1="616.9" x2="3085.2" y2="643.4"/><line x1="3056.2" y1="634.3" x2="3085.2" y2="643.4"/><line x1="3505.9" y1="578.0" x2="3464.1" y2="598.3"/><line x1="3505.9" y1="578.0" x2="3495.0" y2="619.4"/><line x1="3464.1" y1="598.3" x2="3495.0" y2="619.4"/><line x1="3220.8" y1="663.4" x2="3196.8" y2="693.2"/><line x1="3220.8" y1="663.4" x2="3247.6" y2="687.7"/><line x1="3220.8" y1="663.4" x2="3224.4" y2="716.0"/><line x1="3196.8" y1="693.2" x2="3247.6" y2="687.7"/><line x1="3196.8" y1="693.2" x2="3224.4" y2="716.0"/><line x1="3247.6" y1="687.7" x2="3224.4" y2="716.0"/><line x1="3342.1" y1="659.7" x2="3381.3" y2="675.4"/><line x1="3342.1" y1="659.7" x2="3346.8" y2="700.1"/><line x1="3381.3" y1="675.4" x2="3346.8" y2="700.1"/><line x1="1347.3" y1="928.1" x2="1362.4" y2="927.7"/><line x1="1347.3" y1="928.1" x2="1336.1" y2="939.0"/><line x1="1347.3" y1="928.1" x2="1356.0" y2="941.2"/><line x1="1347.3" y1="928.1" x2="1371.7" y2="937.1"/><line x1="1347.3" y1="928.1" x2="1380.0" y2="946.9"/><line x1="1347.3" y1="928.1" x2="1330.4" y2="955.9"/><line x1="1347.3" y1="928.1" x2="1342.5" y2="951.4"/><line x1="1347.3" y1="928.1" x2="1357.5" y2="958.1"/><line x1="1347.3" y1="928.1" x2="1369.9" y2="958.1"/><line x1="1347.3" y1="928.1" x2="1382.3" y2="961.5"/><line x1="1347.3" y1="928.1" x2="1335.3" y2="970.1"/><line x1="1347.3" y1="928.1" x2="1348.5" y2="970.1"/><line x1="1347.3" y1="928.1" x2="1372.5" y2="973.9"/><line x1="1347.3" y1="928.1" x2="1347.3" y2="982.2"/><line x1="1347.3" y1="928.1" x2="1361.6" y2="980.3"/><line x1="1362.4" y1="927.7" x2="1336.1" y2="939.0"/><line x1="1362.4" y1="927.7" x2="1356.0" y2="941.2"/><line x1="1362.4" y1="927.7" x2="1371.7" y2="937.1"/><line x1="1362.4" y1="927.7" x2="1380.0" y2="946.9"/><line x1="1362.4" y1="927.7" x2="1330.4" y2="955.9"/><line x1="1362.4" y1="927.7" x2="1342.5" y2="951.4"/><line x1="1362.4" y1="927.7" x2="1357.5" y2="958.1"/><line x1="1362.4" y1="927.7" x2="1369.9" y2="958.1"/><line x1="1362.4" y1="927.7" x2="1382.3" y2="961.5"/><line x1="1362.4" y1="927.7" x2="1335.3" y2="970.1"/><line x1="1362.4" y1="927.7" x2="1348.5" y2="970.1"/><line x1="1362.4" y1="927.7" x2="1372.5" y2="973.9"/><line x1="1362.4" y1="927.7" x2="1347.3" y2="982.2"/><line x1="1362.4" y1="927.7" x2="1361.6" y2="980.3"/><line x1="1336.1" y1="939.0" x2="1356.0" y2="941.2"/><line x1="1336.1" y1="939.0" x2="1371.7" y2="937.1"/><line x1="1336.1" y1="939.0" x2="1380.0" y2="946.9"/><line x1="1336.1" y1="939.0" x2="1330.4" y2="955.9"/><line x1="1336.1" y1="939.0" x2="1342.5" y2="951.4"/><line x1="1336.1" y1="939.0" x2="1357.5" y2="958.1"/><line x1="1336.1" y1="939.0" x2="1369.9" y2="958.1"/><line x1="1336.1" y1="939.0" x2="1382.3" y2="961.5"/><line x1="1336.1" y1="939.0" x2="1335.3" y2="970.1"/><line x1="1336.1" y1="939.0" x2="1348.5" y2="970.1"/><line x1="1336.1" y1="939.0" x2="1372.5" y2="973.9"/><line x1="1336.1" y1="939.0" x2="1347.3" y2="982.2"/><line x1="1336.1" y1="939.0" x2="1361.6" y2="980.3"/><line x1="1356.0" y1="941.2" x2="1371.7" y2="937.1"/><line x1="1356.0" y1="941.2" x2="1380.0" y2="946.9"/><line x1="1356.0" y1="941.2" x2="1330.4" y2="955.9"/><line x1="1356.0" y1="941.2" x2="1342.5" y2="951.4"/><line x1="1356.0" y1="941.2" x2="1357.5" y2="958.1"/><line x1="1356.0" y1="941.2" x2="1369.9" y2="958.1"/><line x1="1356.0" y1="941.2" x2="1382.3" y2="961.5"/><line x1="1356.0" y1="941.2" x2="1335.3" y2="970.1"/><line x1="1356.0" y1="941.2" x2="1348.5" y2="970.1"/><line x1="1356.0" y1="941.2" x2="1372.5" y2="973.9"/><line x1="1356.0" y1="941.2" x2="1347.3" y2="982.2"/><line x1="1356.0" y1="941.2" x2="1361.6" y2="980.3"/><line x1="1371.7" y1="937.1" x2="1380.0" y2="946.9"/><line x1="1371.7" y1="937.1" x2="1330.4" y2="955.9"/><line x1="1371.7" y1="937.1" x2="1342.5" y2="951.4"/><line x1="1371.7" y1="937.1" x2="1357.5" y2="958.1"/><line x1="1371.7" y1="937.1" x2="1369.9" y2="958.1"/><line x1="1371.7" y1="937.1" x2="1382.3" y2="961.5"/><line x1="1371.7" y1="937.1" x2="1335.3" y2="970.1"/><line x1="1371.7" y1="937.1" x2="1348.5" y2="970.1"/><line x1="1371.7" y1="937.1" x2="1372.5" y2="973.9"/><line x1="1371.7" y1="937.1" x2="1347.3" y2="982.2"/><line x1="1371.7" y1="937.1" x2="1361.6" y2="980.3"/><line x1="1380.0" y1="946.9" x2="1330.4" y2="955.9"/><line x1="1380.0" y1="946.9" x2="1342.5" y2="951.4"/><line x1="1380.0" y1="946.9" x2="1357.5" y2="958.1"/><line x1="1380.0" y1="946.9" x2="1369.9" y2="958.1"/><line x1="1380.0" y1="946.9" x2="1382.3" y2="961.5"/><line x1="1380.0" y1="946.9" x2="1335.3" y2="970.1"/><line x1="1380.0" y1="946.9" x2="1348.5" y2="970.1"/><line x1="1380.0" y1="946.9" x2="1372.5" y2="973.9"/><line x1="1380.0" y1="946.9" x2="1347.3" y2="982.2"/><line x1="1380.0" y1="946.9" x2="1361.6" y2="980.3"/><line x1="1330.4" y1="955.9" x2="1342.5" y2="951.4"/><line x1="1330.4" y1="955.9" x2="1357.5" y2="958.1"/><line x1="1330.4" y1="955.9" x2="1369.9" y2="958.1"/><line x1="1330.4" y1="955.9" x2="1382.3" y2="961.5"/><line x1="1330.4" y1="955.9" x2="1335.3" y2="970.1"/><line x1="1330.4" y1="955.9" x2="1348.5" y2="970.1"/><line x1="1330.4" y1="955.9" x2="1372.5" y2="973.9"/><line x1="1330.4" y1="955.9" x2="1347.3" y2="982.2"/><line x1="1330.4" y1="955.9" x2="1361.6" y2="980.3"/><line x1="1342.5" y1="951.4" x2="1357.5" y2="958.1"/><line x1="1342.5" y1="951.4" x2="1369.9" y2="958.1"/><line x1="1342.5" y1="951.4" x2="1382.3" y2="961.5"/><line x1="1342.5" y1="951.4" x2="1335.3" y2="970.1"/><line x1="1342.5" y1="951.4" x2="1348.5" y2="970.1"/><line x1="1342.5" y1="951.4" x2="1372.5" y2="973.9"/><line x1="1342.5" y1="951.4" x2="1347.3" y2="982.2"/><line x1="1342.5" y1="951.4" x2="1361.6" y2="980.3"/><line x1="1357.5" y1="958.1" x2="1369.9" y2="958.1"/><line x1="1357.5" y1="958.1" x2="1382.3" y2="961.5"/><line x1="1357.5" y1="958.1" x2="1335.3" y2="970.1"/><line x1="1357.5" y1="958.1" x2="1348.5" y2="970.1"/><line x1="1357.5" y1="958.1" x2="1372.5" y2="973.9"/><line x1="1357.5" y1="958.1" x2="1347.3" y2="982.2"/><line x1="1357.5" y1="958.1" x2="1361.6" y2="980.3"/><line x1="1369.9" y1="958.1" x2="1382.3" y2="961.5"/><line x1="1369.9" y1="958.1" x2="1335.3" y2="970.1"/><line x1="1369.9" y1="958.1" x2="1348.5" y2="970.1"/><line x1="1369.9" y1="958.1" x2="1372.5" y2="973.9"/><line x1="1369.9" y1="958.1" x2="1347.3" y2="982.2"/><line x1="1369.9" y1="958.1" x2="1361.6" y2="980.3"/><line x1="1382.3" y1="961.5" x2="1335.3" y2="970.1"/><line x1="1382.3" y1="961.5" x2="1348.5" y2="970.1"/><line x1="1382.3" y1="961.5" x2="1372.5" y2="973.9"/><line x1="1382.3" y1="961.5" x2="1347.3" y2="982.2"/><line x1="1382.3" y1="961.5" x2="1361.6" y2="980.3"/><line x1="1335.3" y1="970.1" x2="1348.5" y2="970.1"/><line x1="1335.3" y1="970.1" x2="1372.5" y2="973.9"/><line x1="1335.3" y1="970.1" x2="1347.3" y2="982.2"/><line x1="1335.3" y1="970.1" x2="1361.6" y2="980.3"/><line x1="1348.5" y1="970.1" x2="1372.5" y2="973.9"/><line x1="1348.5" y1="970.1" x2="1347.3" y2="982.2"/><line x1="1348.5" y1="970.1" x2="1361.6" y2="980.3"/><line x1="1372.5" y1="973.9" x2="1347.3" y2="982.2"/><line x1="1372.5" y1="973.9" x2="1361.6" y2="980.3"/><line x1="1347.3" y1="982.2" x2="1361.6" y2="980.3"/><line x1="1500.5" y1="930.0" x2="1524.5" y2="912.7"/><line x1="1186.7" y1="959.6" x2="1208.4" y2="975.8"/><line x1="1186.7" y1="959.6" x2="1173.5" y2="984.0"/><line x1="1186.7" y1="959.6" x2="1195.3" y2="1001.3"/><line x1="1208.4" y1="975.8" x2="1173.5" y2="984.0"/><line x1="1208.4" y1="975.8" x2="1195.3" y2="1001.3"/><line x1="1173.5" y1="984.0" x2="1195.3" y2="1001.3"/><line x1="1552.7" y1="965.3" x2="1583.1" y2="966.4"/><line x1="1552.7" y1="965.3" x2="1565.1" y2="993.4"/><line x1="1583.1" y1="966.4" x2="1565.1" y2="993.4"/><line x1="1109.7" y1="1034.0" x2="1092.0" y2="1061.0"/><line x1="1159.6" y1="1076.4" x2="1188.5" y2="1087.3"/><line x1="1159.6" y1="1076.4" x2="1166.4" y2="1110.2"/><line x1="1188.5" y1="1087.3" x2="1166.4" y2="1110.2"/><line x1="1252.4" y1="1092.2" x2="1252.4" y2="1127.1"/><line x1="1505.8" y1="1037.7" x2="1517.0" y2="1068.9"/><line x1="1639.0" y1="1058.4" x2="1619.5" y2="1064.7"/><line x1="1639.0" y1="1058.4" x2="1652.6" y2="1076.0"/><line x1="1639.0" y1="1058.4" x2="1621.4" y2="1085.4"/><line x1="1639.0" y1="1058.4" x2="1642.0" y2="1088.4"/><line x1="1639.0" y1="1058.4" x2="1608.3" y2="1091.0"/><line x1="1639.0" y1="1058.4" x2="1648.8" y2="1104.2"/><line x1="1639.0" y1="1058.4" x2="1627.0" y2="1109.0"/><line x1="1619.5" y1="1064.7" x2="1652.6" y2="1076.0"/><line x1="1619.5" y1="1064.7" x2="1621.4" y2="1085.4"/><line x1="1619.5" y1="1064.7" x2="1642.0" y2="1088.4"/><line x1="1619.5" y1="1064.7" x2="1608.3" y2="1091.0"/><line x1="1619.5" y1="1064.7" x2="1648.8" y2="1104.2"/><line x1="1619.5" y1="1064.7" x2="1627.0" y2="1109.0"/><line x1="1652.6" y1="1076.0" x2="1621.4" y2="1085.4"/><line x1="1652.6" y1="1076.0" x2="1642.0" y2="1088.4"/><line x1="1652.6" y1="1076.0" x2="1608.3" y2="1091.0"/><line x1="1652.6" y1="1076.0" x2="1648.8" y2="1104.2"/><line x1="1652.6" y1="1076.0" x2="1627.0" y2="1109.0"/><line x1="1621.4" y1="1085.4" x2="1642.0" y2="1088.4"/><line x1="1621.4" y1="1085.4" x2="1608.3" y2="1091.0"/><line x1="1621.4" y1="1085.4" x2="1648.8" y2="1104.2"/><line x1="1621.4" y1="1085.4" x2="1627.0" y2="1109.0"/><line x1="1642.0" y1="1088.4" x2="1608.3" y2="1091.0"/><line x1="1642.0" y1="1088.4" x2="1648.8" y2="1104.2"/><line x1="1642.0" y1="1088.4" x2="1627.0" y2="1109.0"/><line x1="1608.3" y1="1091.0" x2="1648.8" y2="1104.2"/><line x1="1608.3" y1="1091.0" x2="1627.0" y2="1109.0"/><line x1="1648.8" y1="1104.2" x2="1627.0" y2="1109.0"/><line x1="1090.2" y1="1122.9" x2="1110.8" y2="1140.2"/><line x1="1044.0" y1="1168.4" x2="1065.8" y2="1187.9"/><line x1="1404.8" y1="1172.1" x2="1418.7" y2="1174.0"/><line x1="1404.8" y1="1172.1" x2="1389.4" y2="1180.4"/><line x1="1404.8" y1="1172.1" x2="1429.9" y2="1182.3"/><line x1="1404.8" y1="1172.1" x2="1398.0" y2="1189.8"/><line x1="1404.8" y1="1172.1" x2="1413.0" y2="1191.6"/><line x1="1404.8" y1="1172.1" x2="1385.6" y2="1199.9"/><line x1="1404.8" y1="1172.1" x2="1436.7" y2="1198.0"/><line x1="1404.8" y1="1172.1" x2="1423.5" y2="1203.7"/><line x1="1404.8" y1="1172.1" x2="1404.8" y2="1208.5"/><line x1="1404.8" y1="1172.1" x2="1390.5" y2="1213.4"/><line x1="1404.8" y1="1172.1" x2="1429.2" y2="1216.0"/><line x1="1404.8" y1="1172.1" x2="1402.5" y2="1224.3"/><line x1="1404.8" y1="1172.1" x2="1416.1" y2="1224.3"/><line x1="1418.7" y1="1174.0" x2="1389.4" y2="1180.4"/><line x1="1418.7" y1="1174.0" x2="1429.9" y2="1182.3"/><line x1="1418.7" y1="1174.0" x2="1398.0" y2="1189.8"/><line x1="1418.7" y1="1174.0" x2="1413.0" y2="1191.6"/><line x1="1418.7" y1="1174.0" x2="1385.6" y2="1199.9"/><line x1="1418.7" y1="1174.0" x2="1436.7" y2="1198.0"/><line x1="1418.7" y1="1174.0" x2="1423.5" y2="1203.7"/><line x1="1418.7" y1="1174.0" x2="1404.8" y2="1208.5"/><line x1="1418.7" y1="1174.0" x2="1390.5" y2="1213.4"/><line x1="1418.7" y1="1174.0" x2="1429.2" y2="1216.0"/><line x1="1418.7" y1="1174.0" x2="1402.5" y2="1224.3"/><line x1="1418.7" y1="1174.0" x2="1416.1" y2="1224.3"/><line x1="1389.4" y1="1180.4" x2="1429.9" y2="1182.3"/><line x1="1389.4" y1="1180.4" x2="1398.0" y2="1189.8"/><line x1="1389.4" y1="1180.4" x2="1413.0" y2="1191.6"/><line x1="1389.4" y1="1180.4" x2="1385.6" y2="1199.9"/><line x1="1389.4" y1="1180.4" x2="1436.7" y2="1198.0"/><line x1="1389.4" y1="1180.4" x2="1423.5" y2="1203.7"/><line x1="1389.4" y1="1180.4" x2="1404.8" y2="1208.5"/><line x1="1389.4" y1="1180.4" x2="1390.5" y2="1213.4"/><line x1="1389.4" y1="1180.4" x2="1429.2" y2="1216.0"/><line x1="1389.4" y1="1180.4" x2="1402.5" y2="1224.3"/><line x1="1389.4" y1="1180.4" x2="1416.1" y2="1224.3"/><line x1="1429.9" y1="1182.3" x2="1398.0" y2="1189.8"/><line x1="1429.9" y1="1182.3" x2="1413.0" y2="1191.6"/><line x1="1429.9" y1="1182.3" x2="1385.6" y2="1199.9"/><line x1="1429.9" y1="1182.3" x2="1436.7" y2="1198.0"/><line x1="1429.9" y1="1182.3" x2="1423.5" y2="1203.7"/><line x1="1429.9" y1="1182.3" x2="1404.8" y2="1208.5"/><line x1="1429.9" y1="1182.3" x2="1390.5" y2="1213.4"/><line x1="1429.9" y1="1182.3" x2="1429.2" y2="1216.0"/><line x1="1429.9" y1="1182.3" x2="1402.5" y2="1224.3"/><line x1="1429.9" y1="1182.3" x2="1416.1" y2="1224.3"/><line x1="1398.0" y1="1189.8" x2="1413.0" y2="1191.6"/><line x1="1398.0" y1="1189.8" x2="1385.6" y2="1199.9"/><line x1="1398.0" y1="1189.8" x2="1436.7" y2="1198.0"/><line x1="1398.0" y1="1189.8" x2="1423.5" y2="1203.7"/><line x1="1398.0" y1="1189.8" x2="1404.8" y2="1208.5"/><line x1="1398.0" y1="1189.8" x2="1390.5" y2="1213.4"/><line x1="1398.0" y1="1189.8" x2="1429.2" y2="1216.0"/><line x1="1398.0" y1="1189.8" x2="1402.5" y2="1224.3"/><line x1="1398.0" y1="1189.8" x2="1416.1" y2="1224.3"/><line x1="1413.0" y1="1191.6" x2="1385.6" y2="1199.9"/><line x1="1413.0" y1="1191.6" x2="1436.7" y2="1198.0"/><line x1="1413.0" y1="1191.6" x2="1423.5" y2="1203.7"/><line x1="1413.0" y1="1191.6" x2="1404.8" y2="1208.5"/><line x1="1413.0" y1="1191.6" x2="1390.5" y2="1213.4"/><line x1="1413.0" y1="1191.6" x2="1429.2" y2="1216.0"/><line x1="1413.0" y1="1191.6" x2="1402.5" y2="1224.3"/><line x1="1413.0" y1="1191.6" x2="1416.1" y2="1224.3"/><line x1="1385.6" y1="1199.9" x2="1436.7" y2="1198.0"/><line x1="1385.6" y1="1199.9" x2="1423.5" y2="1203.7"/><line x1="1385.6" y1="1199.9" x2="1404.8" y2="1208.5"/><line x1="1385.6" y1="1199.9" x2="1390.5" y2="1213.4"/><line x1="1385.6" y1="1199.9" x2="1429.2" y2="1216.0"/><line x1="1385.6" y1="1199.9" x2="1402.5" y2="1224.3"/><line x1="1385.6" y1="1199.9" x2="1416.1" y2="1224.3"/><line x1="1436.7" y1="1198.0" x2="1423.5" y2="1203.7"/><line x1="1436.7" y1="1198.0" x2="1404.8" y2="1208.5"/><line x1="1436.7" y1="1198.0" x2="1390.5" y2="1213.4"/><line x1="1436.7" y1="1198.0" x2="1429.2" y2="1216.0"/><line x1="1436.7" y1="1198.0" x2="1402.5" y2="1224.3"/><line x1="1436.7" y1="1198.0" x2="1416.1" y2="1224.3"/><line x1="1423.5" y1="1203.7" x2="1404.8" y2="1208.5"/><line x1="1423.5" y1="1203.7" x2="1390.5" y2="1213.4"/><line x1="1423.5" y1="1203.7" x2="1429.2" y2="1216.0"/><line x1="1423.5" y1="1203.7" x2="1402.5" y2="1224.3"/><line x1="1423.5" y1="1203.7" x2="1416.1" y2="1224.3"/><line x1="1404.8" y1="1208.5" x2="1390.5" y2="1213.4"/><line x1="1404.8" y1="1208.5" x2="1429.2" y2="1216.0"/><line x1="1404.8" y1="1208.5" x2="1402.5" y2="1224.3"/><line x1="1404.8" y1="1208.5" x2="1416.1" y2="1224.3"/><line x1="1390.5" y1="1213.4" x2="1429.2" y2="1216.0"/><line x1="1390.5" y1="1213.4" x2="1402.5" y2="1224.3"/><line x1="1390.5" y1="1213.4" x2="1416.1" y2="1224.3"/><line x1="1429.2" y1="1216.0" x2="1402.5" y2="1224.3"/><line x1="1429.2" y1="1216.0" x2="1416.1" y2="1224.3"/><line x1="1402.5" y1="1224.3" x2="1416.1" y2="1224.3"/><line x1="1216.7" y1="1199.9" x2="1190.4" y2="1208.5"/><line x1="1216.7" y1="1199.9" x2="1222.3" y2="1229.2"/><line x1="1216.7" y1="1199.9" x2="1199.0" y2="1238.6"/><line x1="1190.4" y1="1208.5" x2="1222.3" y2="1229.2"/><line x1="1190.4" y1="1208.5" x2="1199.0" y2="1238.6"/><line x1="1222.3" y1="1229.2" x2="1199.0" y2="1238.6"/><line x1="1109.7" y1="1219.8" x2="1131.5" y2="1241.6"/><line x1="1716.0" y1="1186.8" x2="1722.8" y2="1220.5"/><line x1="1608.3" y1="1230.3" x2="1627.0" y2="1228.4"/><line x1="1608.3" y1="1230.3" x2="1596.3" y2="1245.3"/><line x1="1608.3" y1="1230.3" x2="1639.1" y2="1246.8"/><line x1="1608.3" y1="1230.3" x2="1620.3" y2="1251.7"/><line x1="1608.3" y1="1230.3" x2="1597.8" y2="1266.0"/><line x1="1608.3" y1="1230.3" x2="1633.4" y2="1269.4"/><line x1="1608.3" y1="1230.3" x2="1614.6" y2="1275.0"/><line x1="1627.0" y1="1228.4" x2="1596.3" y2="1245.3"/><line x1="1627.0" y1="1228.4" x2="1639.1" y2="1246.8"/><line x1="1627.0" y1="1228.4" x2="1620.3" y2="1251.7"/><line x1="1627.0" y1="1228.4" x2="1597.8" y2="1266.0"/><line x1="1627.0" y1="1228.4" x2="1633.4" y2="1269.4"/><line x1="1627.0" y1="1228.4" x2="1614.6" y2="1275.0"/><line x1="1596.3" y1="1245.3" x2="1639.1" y2="1246.8"/><line x1="1596.3" y1="1245.3" x2="1620.3" y2="1251.7"/><line x1="1596.3" y1="1245.3" x2="1597.8" y2="1266.0"/><line x1="1596.3" y1="1245.3" x2="1633.4" y2="1269.4"/><line x1="1596.3" y1="1245.3" x2="1614.6" y2="1275.0"/><line x1="1639.1" y1="1246.8" x2="1620.3" y2="1251.7"/><line x1="1639.1" y1="1246.8" x2="1597.8" y2="1266.0"/><line x1="1639.1" y1="1246.8" x2="1633.4" y2="1269.4"/><line x1="1639.1" y1="1246.8" x2="1614.6" y2="1275.0"/><line x1="1620.3" y1="1251.7" x2="1597.8" y2="1266.0"/><line x1="1620.3" y1="1251.7" x2="1633.4" y2="1269.4"/><line x1="1620.3" y1="1251.7" x2="1614.6" y2="1275.0"/><line x1="1597.8" y1="1266.0" x2="1633.4" y2="1269.4"/><line x1="1597.8" y1="1266.0" x2="1614.6" y2="1275.0"/><line x1="1633.4" y1="1269.4" x2="1614.6" y2="1275.0"/><line x1="1040.6" y1="1259.5" x2="1045.1" y2="1252.8"/><line x1="1112.0" y1="1322.8" x2="1131.5" y2="1329.5"/><line x1="1112.0" y1="1322.8" x2="1096.6" y2="1338.9"/><line x1="1112.0" y1="1322.8" x2="1137.9" y2="1350.2"/><line x1="1112.0" y1="1322.8" x2="1102.2" y2="1359.6"/><line x1="1112.0" y1="1322.8" x2="1122.8" y2="1366.7"/><line x1="1131.5" y1="1329.5" x2="1096.6" y2="1338.9"/><line x1="1131.5" y1="1329.5" x2="1137.9" y2="1350.2"/><line x1="1131.5" y1="1329.5" x2="1102.2" y2="1359.6"/><line x1="1131.5" y1="1329.5" x2="1122.8" y2="1366.7"/><line x1="1096.6" y1="1338.9" x2="1137.9" y2="1350.2"/><line x1="1096.6" y1="1338.9" x2="1102.2" y2="1359.6"/><line x1="1096.6" y1="1338.9" x2="1122.8" y2="1366.7"/><line x1="1137.9" y1="1350.2" x2="1102.2" y2="1359.6"/><line x1="1137.9" y1="1350.2" x2="1122.8" y2="1366.7"/><line x1="1102.2" y1="1359.6" x2="1122.8" y2="1366.7"/><line x1="1720.2" y1="1298.4" x2="1709.6" y2="1328.4"/><line x1="1543.3" y1="1362.2" x2="1569.6" y2="1378.3"/><line x1="1543.3" y1="1362.2" x2="1543.3" y2="1398.6"/><line x1="1569.6" y1="1378.3" x2="1543.3" y2="1398.6"/><line x1="1667.6" y1="1387.7" x2="1690.9" y2="1402.7"/><line x1="1667.6" y1="1387.7" x2="1655.2" y2="1412.9"/><line x1="1667.6" y1="1387.7" x2="1678.5" y2="1430.5"/><line x1="1690.9" y1="1402.7" x2="1655.2" y2="1412.9"/><line x1="1690.9" y1="1402.7" x2="1678.5" y2="1430.5"/><line x1="1655.2" y1="1412.9" x2="1678.5" y2="1430.5"/><line x1="1070.6" y1="1426.0" x2="1096.9" y2="1443.7"/><line x1="1129.6" y1="1485.0" x2="1131.8" y2="1517.3"/><line x1="1603.4" y1="1471.0" x2="1582.0" y2="1478.6"/><line x1="1603.4" y1="1471.0" x2="1617.7" y2="1491.7"/><line x1="1603.4" y1="1471.0" x2="1583.8" y2="1504.9"/><line x1="1603.4" y1="1471.0" x2="1605.2" y2="1512.4"/><line x1="1582.0" y1="1478.6" x2="1617.7" y2="1491.7"/><line x1="1582.0" y1="1478.6" x2="1583.8" y2="1504.9"/><line x1="1582.0" y1="1478.6" x2="1605.2" y2="1512.4"/><line x1="1617.7" y1="1491.7" x2="1583.8" y2="1504.9"/><line x1="1617.7" y1="1491.7" x2="1605.2" y2="1512.4"/><line x1="1583.8" y1="1504.9" x2="1605.2" y2="1512.4"/><line x1="1531.3" y1="1562.3" x2="1555.0" y2="1584.4"/><line x1="1531.3" y1="1562.3" x2="1524.9" y2="1596.1"/><line x1="1555.0" y1="1584.4" x2="1524.9" y2="1596.1"/><line x1="2060.6" y1="971.6" x2="2088.2" y2="946.2"/><line x1="2163.2" y1="908.1" x2="2195.4" y2="901.7"/><line x1="2163.2" y1="908.1" x2="2168.7" y2="942.4"/><line x1="2163.2" y1="908.1" x2="2202.6" y2="934.8"/><line x1="2195.4" y1="901.7" x2="2168.7" y2="942.4"/><line x1="2195.4" y1="901.7" x2="2202.6" y2="934.8"/><line x1="2168.7" y1="942.4" x2="2202.6" y2="934.8"/><line x1="2350.9" y1="883.1" x2="2374.3" y2="886.9"/><line x1="2350.9" y1="883.1" x2="2331.0" y2="901.7"/><line x1="2350.9" y1="883.1" x2="2351.8" y2="907.2"/><line x1="2350.9" y1="883.1" x2="2392.1" y2="906.0"/><line x1="2350.9" y1="883.1" x2="2373.0" y2="914.4"/><line x1="2350.9" y1="883.1" x2="2336.9" y2="925.4"/><line x1="2350.9" y1="883.1" x2="2355.2" y2="938.2"/><line x1="2350.9" y1="883.1" x2="2379.3" y2="934.8"/><line x1="2374.3" y1="886.9" x2="2331.0" y2="901.7"/><line x1="2374.3" y1="886.9" x2="2351.8" y2="907.2"/><line x1="2374.3" y1="886.9" x2="2392.1" y2="906.0"/><line x1="2374.3" y1="886.9" x2="2373.0" y2="914.4"/><line x1="2374.3" y1="886.9" x2="2336.9" y2="925.4"/><line x1="2374.3" y1="886.9" x2="2355.2" y2="938.2"/><line x1="2374.3" y1="886.9" x2="2379.3" y2="934.8"/><line x1="2331.0" y1="901.7" x2="2351.8" y2="907.2"/><line x1="2331.0" y1="901.7" x2="2392.1" y2="906.0"/><line x1="2331.0" y1="901.7" x2="2373.0" y2="914.4"/><line x1="2331.0" y1="901.7" x2="2336.9" y2="925.4"/><line x1="2331.0" y1="901.7" x2="2355.2" y2="938.2"/><line x1="2331.0" y1="901.7" x2="2379.3" y2="934.8"/><line x1="2351.8" y1="907.2" x2="2392.1" y2="906.0"/><line x1="2351.8" y1="907.2" x2="2373.0" y2="914.4"/><line x1="2351.8" y1="907.2" x2="2336.9" y2="925.4"/><line x1="2351.8" y1="907.2" x2="2355.2" y2="938.2"/><line x1="2351.8" y1="907.2" x2="2379.3" y2="934.8"/><line x1="2392.1" y1="906.0" x2="2373.0" y2="914.4"/><line x1="2392.1" y1="906.0" x2="2336.9" y2="925.4"/><line x1="2392.1" y1="906.0" x2="2355.2" y2="938.2"/><line x1="2392.1" y1="906.0" x2="2379.3" y2="934.8"/><line x1="2373.0" y1="914.4" x2="2336.9" y2="925.4"/><line x1="2373.0" y1="914.4" x2="2355.2" y2="938.2"/><line x1="2373.0" y1="914.4" x2="2379.3" y2="934.8"/><line x1="2336.9" y1="925.4" x2="2355.2" y2="938.2"/><line x1="2336.9" y1="925.4" x2="2379.3" y2="934.8"/><line x1="2355.2" y1="938.2" x2="2379.3" y2="934.8"/><line x1="2508.6" y1="952.6" x2="2537.4" y2="949.6"/><line x1="2508.6" y1="952.6" x2="2502.2" y2="982.7"/><line x1="2508.6" y1="952.6" x2="2551.4" y2="972.9"/><line x1="2508.6" y1="952.6" x2="2529.8" y2="993.2"/><line x1="2537.4" y1="949.6" x2="2502.2" y2="982.7"/><line x1="2537.4" y1="949.6" x2="2551.4" y2="972.9"/><line x1="2537.4" y1="949.6" x2="2529.8" y2="993.2"/><line x1="2502.2" y1="982.7" x2="2551.4" y2="972.9"/><line x1="2502.2" y1="982.7" x2="2529.8" y2="993.2"/><line x1="2551.4" y1="972.9" x2="2529.8" y2="993.2"/><line x1="2007.7" y1="1031.4" x2="1997.1" y2="1066.1"/><line x1="2088.2" y1="1038.6" x2="2073.4" y2="1073.3"/><line x1="2184.4" y1="1054.3" x2="2213.2" y2="1071.7"/><line x1="2184.4" y1="1054.3" x2="2167.9" y2="1083.1"/><line x1="2184.4" y1="1054.3" x2="2197.5" y2="1103.0"/><line x1="2213.2" y1="1071.7" x2="2167.9" y2="1083.1"/><line x1="2213.2" y1="1071.7" x2="2197.5" y2="1103.0"/><line x1="2167.9" y1="1083.1" x2="2197.5" y2="1103.0"/><line x1="2302.2" y1="1043.7" x2="2340.3" y2="1057.7"/><line x1="2302.2" y1="1043.7" x2="2308.6" y2="1082.2"/><line x1="2340.3" y1="1057.7" x2="2308.6" y2="1082.2"/><line x1="2593.4" y1="1097.1" x2="2615.0" y2="1097.1"/><line x1="2593.4" y1="1097.1" x2="2577.7" y2="1116.1"/><line x1="2593.4" y1="1097.1" x2="2630.7" y2="1111.5"/><line x1="2593.4" y1="1097.1" x2="2603.1" y2="1120.4"/><line x1="2593.4" y1="1097.1" x2="2583.2" y2="1139.5"/><line x1="2593.4" y1="1097.1" x2="2617.9" y2="1145.4"/><line x1="2593.4" y1="1097.1" x2="2633.6" y2="1131.0"/><line x1="2593.4" y1="1097.1" x2="2600.2" y2="1153.0"/><line x1="2615.0" y1="1097.1" x2="2577.7" y2="1116.1"/><line x1="2615.0" y1="1097.1" x2="2630.7" y2="1111.5"/><line x1="2615.0" y1="1097.1" x2="2603.1" y2="1120.4"/><line x1="2615.0" y1="1097.1" x2="2583.2" y2="1139.5"/><line x1="2615.0" y1="1097.1" x2="2617.9" y2="1145.4"/><line x1="2615.0" y1="1097.1" x2="2633.6" y2="1131.0"/><line x1="2615.0" y1="1097.1" x2="2600.2" y2="1153.0"/><line x1="2577.7" y1="1116.1" x2="2630.7" y2="1111.5"/><line x1="2577.7" y1="1116.1" x2="2603.1" y2="1120.4"/><line x1="2577.7" y1="1116.1" x2="2583.2" y2="1139.5"/><line x1="2577.7" y1="1116.1" x2="2617.9" y2="1145.4"/><line x1="2577.7" y1="1116.1" x2="2633.6" y2="1131.0"/><line x1="2577.7" y1="1116.1" x2="2600.2" y2="1153.0"/><line x1="2630.7" y1="1111.5" x2="2603.1" y2="1120.4"/><line x1="2630.7" y1="1111.5" x2="2583.2" y2="1139.5"/><line x1="2630.7" y1="1111.5" x2="2617.9" y2="1145.4"/><line x1="2630.7" y1="1111.5" x2="2633.6" y2="1131.0"/><line x1="2630.7" y1="1111.5" x2="2600.2" y2="1153.0"/><line x1="2603.1" y1="1120.4" x2="2583.2" y2="1139.5"/><line x1="2603.1" y1="1120.4" x2="2617.9" y2="1145.4"/><line x1="2603.1" y1="1120.4" x2="2633.6" y2="1131.0"/><line x1="2603.1" y1="1120.4" x2="2600.2" y2="1153.0"/><line x1="2583.2" y1="1139.5" x2="2617.9" y2="1145.4"/><line x1="2583.2" y1="1139.5" x2="2633.6" y2="1131.0"/><line x1="2583.2" y1="1139.5" x2="2600.2" y2="1153.0"/><line x1="2617.9" y1="1145.4" x2="2633.6" y2="1131.0"/><line x1="2617.9" y1="1145.4" x2="2600.2" y2="1153.0"/><line x1="2633.6" y1="1131.0" x2="2600.2" y2="1153.0"/><line x1="1977.2" y1="1177.6" x2="2002.2" y2="1179.3"/><line x1="1977.2" y1="1177.6" x2="1964.4" y2="1200.5"/><line x1="1977.2" y1="1177.6" x2="2012.8" y2="1203.0"/><line x1="1977.2" y1="1177.6" x2="1973.8" y2="1223.0"/><line x1="1977.2" y1="1177.6" x2="1999.2" y2="1226.3"/><line x1="2002.2" y1="1179.3" x2="1964.4" y2="1200.5"/><line x1="2002.2" y1="1179.3" x2="2012.8" y2="1203.0"/><line x1="2002.2" y1="1179.3" x2="1973.8" y2="1223.0"/><line x1="2002.2" y1="1179.3" x2="1999.2" y2="1226.3"/><line x1="1964.4" y1="1200.5" x2="2012.8" y2="1203.0"/><line x1="1964.4" y1="1200.5" x2="1973.8" y2="1223.0"/><line x1="1964.4" y1="1200.5" x2="1999.2" y2="1226.3"/><line x1="2012.8" y1="1203.0" x2="1973.8" y2="1223.0"/><line x1="2012.8" y1="1203.0" x2="1999.2" y2="1226.3"/><line x1="1973.8" y1="1223.0" x2="1999.2" y2="1226.3"/><line x1="2129.3" y1="1180.6" x2="2103.0" y2="1201.8"/><line x1="2129.3" y1="1180.6" x2="2150.9" y2="1206.0"/><line x1="2129.3" y1="1180.6" x2="2124.2" y2="1227.2"/><line x1="2103.0" y1="1201.8" x2="2150.9" y2="1206.0"/><line x1="2103.0" y1="1201.8" x2="2124.2" y2="1227.2"/><line x1="2150.9" y1="1206.0" x2="2124.2" y2="1227.2"/><line x1="2407.3" y1="1168.7" x2="2384.8" y2="1176.3"/><line x1="2407.3" y1="1168.7" x2="2429.3" y2="1177.6"/><line x1="2407.3" y1="1168.7" x2="2378.5" y2="1200.5"/><line x1="2407.3" y1="1168.7" x2="2406.9" y2="1196.7"/><line x1="2407.3" y1="1168.7" x2="2434.4" y2="1203.0"/><line x1="2407.3" y1="1168.7" x2="2392.1" y2="1221.7"/><line x1="2407.3" y1="1168.7" x2="2417.5" y2="1222.9"/><line x1="2384.8" y1="1176.3" x2="2429.3" y2="1177.6"/><line x1="2384.8" y1="1176.3" x2="2378.5" y2="1200.5"/><line x1="2384.8" y1="1176.3" x2="2406.9" y2="1196.7"/><line x1="2384.8" y1="1176.3" x2="2434.4" y2="1203.0"/><line x1="2384.8" y1="1176.3" x2="2392.1" y2="1221.7"/><line x1="2384.8" y1="1176.3" x2="2417.5" y2="1222.9"/><line x1="2429.3" y1="1177.6" x2="2378.5" y2="1200.5"/><line x1="2429.3" y1="1177.6" x2="2406.9" y2="1196.7"/><line x1="2429.3" y1="1177.6" x2="2434.4" y2="1203.0"/><line x1="2429.3" y1="1177.6" x2="2392.1" y2="1221.7"/><line x1="2429.3" y1="1177.6" x2="2417.5" y2="1222.9"/><line x1="2378.5" y1="1200.5" x2="2406.9" y2="1196.7"/><line x1="2378.5" y1="1200.5" x2="2434.4" y2="1203.0"/><line x1="2378.5" y1="1200.5" x2="2392.1" y2="1221.7"/><line x1="2378.5" y1="1200.5" x2="2417.5" y2="1222.9"/><line x1="2406.9" y1="1196.7" x2="2434.4" y2="1203.0"/><line x1="2406.9" y1="1196.7" x2="2392.1" y2="1221.7"/><line x1="2406.9" y1="1196.7" x2="2417.5" y2="1222.9"/><line x1="2434.4" y1="1203.0" x2="2392.1" y2="1221.7"/><line x1="2434.4" y1="1203.0" x2="2417.5" y2="1222.9"/><line x1="2392.1" y1="1221.7" x2="2417.5" y2="1222.9"/><line x1="2625.1" y1="1283.5" x2="2602.2" y2="1297.9"/><line x1="2625.1" y1="1283.5" x2="2649.7" y2="1293.7"/><line x1="2625.1" y1="1283.5" x2="2608.2" y2="1323.4"/><line x1="2625.1" y1="1283.5" x2="2651.8" y2="1319.1"/><line x1="2625.1" y1="1283.5" x2="2630.6" y2="1334.4"/><line x1="2602.2" y1="1297.9" x2="2649.7" y2="1293.7"/><line x1="2602.2" y1="1297.9" x2="2608.2" y2="1323.4"/><line x1="2602.2" y1="1297.9" x2="2651.8" y2="1319.1"/><line x1="2602.2" y1="1297.9" x2="2630.6" y2="1334.4"/><line x1="2649.7" y1="1293.7" x2="2608.2" y2="1323.4"/><line x1="2649.7" y1="1293.7" x2="2651.8" y2="1319.1"/><line x1="2649.7" y1="1293.7" x2="2630.6" y2="1334.4"/><line x1="2608.2" y1="1323.4" x2="2651.8" y2="1319.1"/><line x1="2608.2" y1="1323.4" x2="2630.6" y2="1334.4"/><line x1="2651.8" y1="1319.1" x2="2630.6" y2="1334.4"/><line x1="1972.9" y1="1351.6" x2="2007.7" y2="1352.1"/><line x1="1972.9" y1="1351.6" x2="1994.1" y2="1388.1"/><line x1="2007.7" y1="1352.1" x2="1994.1" y2="1388.1"/><line x1="2073.8" y1="1349.9" x2="2073.8" y2="1391.0"/><line x1="2216.6" y1="1328.3" x2="2239.5" y2="1334.7"/><line x1="2216.6" y1="1328.3" x2="2206.0" y2="1347.4"/><line x1="2216.6" y1="1328.3" x2="2251.3" y2="1354.2"/><line x1="2216.6" y1="1328.3" x2="2228.0" y2="1361.4"/><line x1="2216.6" y1="1328.3" x2="2192.0" y2="1361.4"/><line x1="2216.6" y1="1328.3" x2="2207.7" y2="1379.2"/><line x1="2216.6" y1="1328.3" x2="2247.1" y2="1377.5"/><line x1="2216.6" y1="1328.3" x2="2225.1" y2="1390.2"/><line x1="2239.5" y1="1334.7" x2="2206.0" y2="1347.4"/><line x1="2239.5" y1="1334.7" x2="2251.3" y2="1354.2"/><line x1="2239.5" y1="1334.7" x2="2228.0" y2="1361.4"/><line x1="2239.5" y1="1334.7" x2="2192.0" y2="1361.4"/><line x1="2239.5" y1="1334.7" x2="2207.7" y2="1379.2"/><line x1="2239.5" y1="1334.7" x2="2247.1" y2="1377.5"/><line x1="2239.5" y1="1334.7" x2="2225.1" y2="1390.2"/><line x1="2206.0" y1="1347.4" x2="2251.3" y2="1354.2"/><line x1="2206.0" y1="1347.4" x2="2228.0" y2="1361.4"/><line x1="2206.0" y1="1347.4" x2="2192.0" y2="1361.4"/><line x1="2206.0" y1="1347.4" x2="2207.7" y2="1379.2"/><line x1="2206.0" y1="1347.4" x2="2247.1" y2="1377.5"/><line x1="2206.0" y1="1347.4" x2="2225.1" y2="1390.2"/><line x1="2251.3" y1="1354.2" x2="2228.0" y2="1361.4"/><line x1="2251.3" y1="1354.2" x2="2192.0" y2="1361.4"/><line x1="2251.3" y1="1354.2" x2="2207.7" y2="1379.2"/><line x1="2251.3" y1="1354.2" x2="2247.1" y2="1377.5"/><line x1="2251.3" y1="1354.2" x2="2225.1" y2="1390.2"/><line x1="2228.0" y1="1361.4" x2="2192.0" y2="1361.4"/><line x1="2228.0" y1="1361.4" x2="2207.7" y2="1379.2"/><line x1="2228.0" y1="1361.4" x2="2247.1" y2="1377.5"/><line x1="2228.0" y1="1361.4" x2="2225.1" y2="1390.2"/><line x1="2192.0" y1="1361.4" x2="2207.7" y2="1379.2"/><line x1="2192.0" y1="1361.4" x2="2247.1" y2="1377.5"/><line x1="2192.0" y1="1361.4" x2="2225.1" y2="1390.2"/><line x1="2207.7" y1="1379.2" x2="2247.1" y2="1377.5"/><line x1="2207.7" y1="1379.2" x2="2225.1" y2="1390.2"/><line x1="2247.1" y1="1377.5" x2="2225.1" y2="1390.2"/><line x1="2494.2" y1="1322.0" x2="2499.3" y2="1360.5"/><line x1="2390.4" y1="1377.5" x2="2420.0" y2="1401.6"/><line x1="2390.4" y1="1377.5" x2="2382.7" y2="1417.7"/><line x1="2420.0" y1="1401.6" x2="2382.7" y2="1417.7"/><line x1="2562.8" y1="1425.8" x2="2600.2" y2="1431.3"/><line x1="2562.8" y1="1425.8" x2="2576.8" y2="1459.7"/><line x1="2600.2" y1="1431.3" x2="2576.8" y2="1459.7"/><line x1="2059.4" y1="1474.5" x2="2095.4" y2="1468.6"/><line x1="2130.6" y1="1521.2" x2="2159.4" y2="1541.5"/><line x1="2288.2" y1="1519.5" x2="2255.6" y2="1534.3"/><line x1="2288.2" y1="1519.5" x2="2308.6" y2="1544.9"/><line x1="2288.2" y1="1519.5" x2="2278.9" y2="1542.8"/><line x1="2288.2" y1="1519.5" x2="2259.8" y2="1564.8"/><line x1="2288.2" y1="1519.5" x2="2293.7" y2="1572.0"/><line x1="2255.6" y1="1534.3" x2="2308.6" y2="1544.9"/><line x1="2255.6" y1="1534.3" x2="2278.9" y2="1542.8"/><line x1="2255.6" y1="1534.3" x2="2259.8" y2="1564.8"/><line x1="2255.6" y1="1534.3" x2="2293.7" y2="1572.0"/><line x1="2308.6" y1="1544.9" x2="2278.9" y2="1542.8"/><line x1="2308.6" y1="1544.9" x2="2259.8" y2="1564.8"/><line x1="2308.6" y1="1544.9" x2="2293.7" y2="1572.0"/><line x1="2278.9" y1="1542.8" x2="2259.8" y2="1564.8"/><line x1="2278.9" y1="1542.8" x2="2293.7" y2="1572.0"/><line x1="2259.8" y1="1564.8" x2="2293.7" y2="1572.0"/><line x1="2459.0" y1="1497.0" x2="2483.2" y2="1507.6"/><line x1="2459.0" y1="1497.0" x2="2439.1" y2="1512.7"/><line x1="2459.0" y1="1497.0" x2="2463.3" y2="1536.0"/><line x1="2459.0" y1="1497.0" x2="2485.7" y2="1536.4"/><line x1="2459.0" y1="1497.0" x2="2442.1" y2="1544.9"/><line x1="2483.2" y1="1507.6" x2="2439.1" y2="1512.7"/><line x1="2483.2" y1="1507.6" x2="2463.3" y2="1536.0"/><line x1="2483.2" y1="1507.6" x2="2485.7" y2="1536.4"/><line x1="2483.2" y1="1507.6" x2="2442.1" y2="1544.9"/><line x1="2439.1" y1="1512.7" x2="2463.3" y2="1536.0"/><line x1="2439.1" y1="1512.7" x2="2485.7" y2="1536.4"/><line x1="2439.1" y1="1512.7" x2="2442.1" y2="1544.9"/><line x1="2463.3" y1="1536.0" x2="2485.7" y2="1536.4"/><line x1="2463.3" y1="1536.0" x2="2442.1" y2="1544.9"/><line x1="2485.7" y1="1536.4" x2="2442.1" y2="1544.9"/><line x1="3145.9" y1="939.7" x2="3119.8" y2="950.6"/><line x1="3145.9" y1="939.7" x2="3164.4" y2="960.1"/><line x1="3145.9" y1="939.7" x2="3121.6" y2="980.8"/><line x1="3145.9" y1="939.7" x2="3149.5" y2="988.0"/><line x1="3119.8" y1="950.6" x2="3164.4" y2="960.1"/><line x1="3119.8" y1="950.6" x2="3121.6" y2="980.8"/><line x1="3119.8" y1="950.6" x2="3149.5" y2="988.0"/><line x1="3164.4" y1="960.1" x2="3121.6" y2="980.8"/><line x1="3164.4" y1="960.1" x2="3149.5" y2="988.0"/><line x1="3121.6" y1="980.8" x2="3149.5" y2="988.0"/><line x1="3326.1" y1="919.8" x2="3299.6" y2="939.0"/><line x1="3326.1" y1="919.8" x2="3351.2" y2="941.5"/><line x1="3326.1" y1="919.8" x2="3327.9" y2="965.5"/><line x1="3299.6" y1="939.0" x2="3351.2" y2="941.5"/><line x1="3299.6" y1="939.0" x2="3327.9" y2="965.5"/><line x1="3351.2" y1="941.5" x2="3327.9" y2="965.5"/><line x1="3004.6" y1="1016.0" x2="3036.2" y2="1018.2"/><line x1="3004.6" y1="1016.0" x2="3001.0" y2="1050.5"/><line x1="3004.6" y1="1016.0" x2="3034.4" y2="1052.4"/><line x1="3036.2" y1="1018.2" x2="3001.0" y2="1050.5"/><line x1="3036.2" y1="1018.2" x2="3034.4" y2="1052.4"/><line x1="3001.0" y1="1050.5" x2="3034.4" y2="1052.4"/><line x1="3244.0" y1="989.9" x2="3231.6" y2="1028.0"/><line x1="3244.0" y1="989.9" x2="3268.7" y2="1025.5"/><line x1="3231.6" y1="1028.0" x2="3268.7" y2="1025.5"/><line x1="3409.3" y1="997.9" x2="3383.9" y2="1030.9"/><line x1="3491.0" y1="1032.4" x2="3466.0" y2="1054.2"/><line x1="3491.0" y1="1032.4" x2="3512.8" y2="1060.0"/><line x1="3491.0" y1="1032.4" x2="3487.4" y2="1080.0"/><line x1="3466.0" y1="1054.2" x2="3512.8" y2="1060.0"/><line x1="3466.0" y1="1054.2" x2="3487.4" y2="1080.0"/><line x1="3512.8" y1="1060.0" x2="3487.4" y2="1080.0"/><line x1="2928.3" y1="1099.6" x2="2958.1" y2="1121.7"/><line x1="3130.7" y1="1102.5" x2="3140.8" y2="1140.6"/><line x1="3223.3" y1="1130.8" x2="3261.4" y2="1127.9"/><line x1="3223.3" y1="1130.8" x2="3242.5" y2="1165.0"/><line x1="3261.4" y1="1127.9" x2="3242.5" y2="1165.0"/><line x1="3053.6" y1="1146.8" x2="3024.2" y2="1169.7"/><line x1="2905.4" y1="1183.5" x2="2941.0" y2="1194.4"/><line x1="3541.2" y1="1150.4" x2="3575.7" y2="1161.7"/><line x1="3395.9" y1="1165.3" x2="3369.7" y2="1175.1"/><line x1="3395.9" y1="1165.3" x2="3414.7" y2="1183.1"/><line x1="3395.9" y1="1165.3" x2="3389.7" y2="1188.9"/><line x1="3395.9" y1="1165.3" x2="3362.4" y2="1201.3"/><line x1="3395.9" y1="1165.3" x2="3415.1" y2="1207.8"/><line x1="3395.9" y1="1165.3" x2="3378.4" y2="1216.2"/><line x1="3395.9" y1="1165.3" x2="3396.9" y2="1224.9"/><line x1="3369.7" y1="1175.1" x2="3414.7" y2="1183.1"/><line x1="3369.7" y1="1175.1" x2="3389.7" y2="1188.9"/><line x1="3369.7" y1="1175.1" x2="3362.4" y2="1201.3"/><line x1="3369.7" y1="1175.1" x2="3415.1" y2="1207.8"/><line x1="3369.7" y1="1175.1" x2="3378.4" y2="1216.2"/><line x1="3369.7" y1="1175.1" x2="3396.9" y2="1224.9"/><line x1="3414.7" y1="1183.1" x2="3389.7" y2="1188.9"/><line x1="3414.7" y1="1183.1" x2="3362.4" y2="1201.3"/><line x1="3414.7" y1="1183.1" x2="3415.1" y2="1207.8"/><line x1="3414.7" y1="1183.1" x2="3378.4" y2="1216.2"/><line x1="3414.7" y1="1183.1" x2="3396.9" y2="1224.9"/><line x1="3389.7" y1="1188.9" x2="3362.4" y2="1201.3"/><line x1="3389.7" y1="1188.9" x2="3415.1" y2="1207.8"/><line x1="3389.7" y1="1188.9" x2="3378.4" y2="1216.2"/><line x1="3389.7" y1="1188.9" x2="3396.9" y2="1224.9"/><line x1="3362.4" y1="1201.3" x2="3415.1" y2="1207.8"/><line x1="3362.4" y1="1201.3" x2="3378.4" y2="1216.2"/><line x1="3362.4" y1="1201.3" x2="3396.9" y2="1224.9"/><line x1="3415.1" y1="1207.8" x2="3378.4" y2="1216.2"/><line x1="3415.1" y1="1207.8" x2="3396.9" y2="1224.9"/><line x1="3378.4" y1="1216.2" x2="3396.9" y2="1224.9"/><line x1="3553.9" y1="1231.2" x2="3531.4" y2="1261.2"/><line x1="3553.9" y1="1231.2" x2="3572.1" y2="1263.3"/><line x1="3531.4" y1="1261.2" x2="3572.1" y2="1263.3"/><line x1="2895.2" y1="1278.2" x2="2927.2" y2="1281.1"/><line x1="2895.2" y1="1278.2" x2="2890.9" y2="1312.0"/><line x1="2895.2" y1="1278.2" x2="2921.8" y2="1316.4"/><line x1="2927.2" y1="1281.1" x2="2890.9" y2="1312.0"/><line x1="2927.2" y1="1281.1" x2="2921.8" y2="1316.4"/><line x1="2890.9" y1="1312.0" x2="2921.8" y2="1316.4"/><line x1="3096.9" y1="1309.8" x2="3113.2" y2="1312.7"/><line x1="3096.9" y1="1309.8" x2="3086.0" y2="1321.1"/><line x1="3096.9" y1="1309.8" x2="3127.7" y2="1323.6"/><line x1="3096.9" y1="1309.8" x2="3073.3" y2="1333.8"/><line x1="3096.9" y1="1309.8" x2="3110.7" y2="1336.3"/><line x1="3096.9" y1="1309.8" x2="3091.8" y2="1340.7"/><line x1="3096.9" y1="1309.8" x2="3132.5" y2="1343.6"/><line x1="3096.9" y1="1309.8" x2="3076.2" y2="1354.5"/><line x1="3096.9" y1="1309.8" x2="3101.6" y2="1358.9"/><line x1="3096.9" y1="1309.8" x2="3125.2" y2="1358.1"/><line x1="3096.9" y1="1309.8" x2="3088.1" y2="1369.8"/><line x1="3096.9" y1="1309.8" x2="3112.5" y2="1373.4"/><line x1="3113.2" y1="1312.7" x2="3086.0" y2="1321.1"/><line x1="3113.2" y1="1312.7" x2="3127.7" y2="1323.6"/><line x1="3113.2" y1="1312.7" x2="3073.3" y2="1333.8"/><line x1="3113.2" y1="1312.7" x2="3110.7" y2="1336.3"/><line x1="3113.2" y1="1312.7" x2="3091.8" y2="1340.7"/><line x1="3113.2" y1="1312.7" x2="3132.5" y2="1343.6"/><line x1="3113.2" y1="1312.7" x2="3076.2" y2="1354.5"/><line x1="3113.2" y1="1312.7" x2="3101.6" y2="1358.9"/><line x1="3113.2" y1="1312.7" x2="3125.2" y2="1358.1"/><line x1="3113.2" y1="1312.7" x2="3088.1" y2="1369.8"/><line x1="3113.2" y1="1312.7" x2="3112.5" y2="1373.4"/><line x1="3086.0" y1="1321.1" x2="3127.7" y2="1323.6"/><line x1="3086.0" y1="1321.1" x2="3073.3" y2="1333.8"/><line x1="3086.0" y1="1321.1" x2="3110.7" y2="1336.3"/><line x1="3086.0" y1="1321.1" x2="3091.8" y2="1340.7"/><line x1="3086.0" y1="1321.1" x2="3132.5" y2="1343.6"/><line x1="3086.0" y1="1321.1" x2="3076.2" y2="1354.5"/><line x1="3086.0" y1="1321.1" x2="3101.6" y2="1358.9"/><line x1="3086.0" y1="1321.1" x2="3125.2" y2="1358.1"/><line x1="3086.0" y1="1321.1" x2="3088.1" y2="1369.8"/><line x1="3086.0" y1="1321.1" x2="3112.5" y2="1373.4"/><line x1="3127.7" y1="1323.6" x2="3073.3" y2="1333.8"/><line x1="3127.7" y1="1323.6" x2="3110.7" y2="1336.3"/><line x1="3127.7" y1="1323.6" x2="3091.8" y2="1340.7"/><line x1="3127.7" y1="1323.6" x2="3132.5" y2="1343.6"/><line x1="3127.7" y1="1323.6" x2="3076.2" y2="1354.5"/><line x1="3127.7" y1="1323.6" x2="3101.6" y2="1358.9"/><line x1="3127.7" y1="1323.6" x2="3125.2" y2="1358.1"/><line x1="3127.7" y1="1323.6" x2="3088.1" y2="1369.8"/><line x1="3127.7" y1="1323.6" x2="3112.5" y2="1373.4"/><line x1="3073.3" y1="1333.8" x2="3110.7" y2="1336.3"/><line x1="3073.3" y1="1333.8" x2="3091.8" y2="1340.7"/><line x1="3073.3" y1="1333.8" x2="3132.5" y2="1343.6"/><line x1="3073.3" y1="1333.8" x2="3076.2" y2="1354.5"/><line x1="3073.3" y1="1333.8" x2="3101.6" y2="1358.9"/><line x1="3073.3" y1="1333.8" x2="3125.2" y2="1358.1"/><line x1="3073.3" y1="1333.8" x2="3088.1" y2="1369.8"/><line x1="3073.3" y1="1333.8" x2="3112.5" y2="1373.4"/><line x1="3110.7" y1="1336.3" x2="3091.8" y2="1340.7"/><line x1="3110.7" y1="1336.3" x2="3132.5" y2="1343.6"/><line x1="3110.7" y1="1336.3" x2="3076.2" y2="1354.5"/><line x1="3110.7" y1="1336.3" x2="3101.6" y2="1358.9"/><line x1="3110.7" y1="1336.3" x2="3125.2" y2="1358.1"/><line x1="3110.7" y1="1336.3" x2="3088.1" y2="1369.8"/><line x1="3110.7" y1="1336.3" x2="3112.5" y2="1373.4"/><line x1="3091.8" y1="1340.7" x2="3132.5" y2="1343.6"/><line x1="3091.8" y1="1340.7" x2="3076.2" y2="1354.5"/><line x1="3091.8" y1="1340.7" x2="3101.6" y2="1358.9"/><line x1="3091.8" y1="1340.7" x2="3125.2" y2="1358.1"/><line x1="3091.8" y1="1340.7" x2="3088.1" y2="1369.8"/><line x1="3091.8" y1="1340.7" x2="3112.5" y2="1373.4"/><line x1="3132.5" y1="1343.6" x2="3076.2" y2="1354.5"/><line x1="3132.5" y1="1343.6" x2="3101.6" y2="1358.9"/><line x1="3132.5" y1="1343.6" x2="3125.2" y2="1358.1"/><line x1="3132.5" y1="1343.6" x2="3088.1" y2="1369.8"/><line x1="3132.5" y1="1343.6" x2="3112.5" y2="1373.4"/><line x1="3076.2" y1="1354.5" x2="3101.6" y2="1358.9"/><line x1="3076.2" y1="1354.5" x2="3125.2" y2="1358.1"/><line x1="3076.2" y1="1354.5" x2="3088.1" y2="1369.8"/><line x1="3076.2" y1="1354.5" x2="3112.5" y2="1373.4"/><line x1="3101.6" y1="1358.9" x2="3125.2" y2="1358.1"/><line x1="3101.6" y1="1358.9" x2="3088.1" y2="1369.8"/><line x1="3101.6" y1="1358.9" x2="3112.5" y2="1373.4"/><line x1="3125.2" y1="1358.1" x2="3088.1" y2="1369.8"/><line x1="3125.2" y1="1358.1" x2="3112.5" y2="1373.4"/><line x1="3088.1" y1="1369.8" x2="3112.5" y2="1373.4"/><line x1="3535.0" y1="1359.2" x2="3513.9" y2="1371.9"/><line x1="3535.0" y1="1359.2" x2="3557.5" y2="1370.8"/><line x1="3535.0" y1="1359.2" x2="3516.8" y2="1399.2"/><line x1="3535.0" y1="1359.2" x2="3556.4" y2="1395.6"/><line x1="3535.0" y1="1359.2" x2="3538.6" y2="1414.4"/><line x1="3513.9" y1="1371.9" x2="3557.5" y2="1370.8"/><line x1="3513.9" y1="1371.9" x2="3516.8" y2="1399.2"/><line x1="3513.9" y1="1371.9" x2="3556.4" y2="1395.6"/><line x1="3513.9" y1="1371.9" x2="3538.6" y2="1414.4"/><line x1="3557.5" y1="1370.8" x2="3516.8" y2="1399.2"/><line x1="3557.5" y1="1370.8" x2="3556.4" y2="1395.6"/><line x1="3557.5" y1="1370.8" x2="3538.6" y2="1414.4"/><line x1="3516.8" y1="1399.2" x2="3556.4" y2="1395.6"/><line x1="3516.8" y1="1399.2" x2="3538.6" y2="1414.4"/><line x1="3556.4" y1="1395.6" x2="3538.6" y2="1414.4"/><line x1="2932.7" y1="1407.9" x2="2911.6" y2="1435.5"/><line x1="2980.6" y1="1481.7" x2="2961.0" y2="1513.3"/><line x1="3342.1" y1="1495.5" x2="3329.7" y2="1499.8"/><line x1="3342.1" y1="1495.5" x2="3354.8" y2="1499.8"/><line x1="3342.1" y1="1495.5" x2="3317.7" y2="1502.7"/><line x1="3342.1" y1="1495.5" x2="3309.8" y2="1514.3"/><line x1="3342.1" y1="1495.5" x2="3346.8" y2="1514.3"/><line x1="3342.1" y1="1495.5" x2="3363.9" y2="1510.7"/><line x1="3342.1" y1="1495.5" x2="3329.4" y2="1517.3"/><line x1="3342.1" y1="1495.5" x2="3365.0" y2="1522.3"/><line x1="3342.1" y1="1495.5" x2="3316.6" y2="1527.1"/><line x1="3342.1" y1="1495.5" x2="3337.7" y2="1530.7"/><line x1="3342.1" y1="1495.5" x2="3353.4" y2="1535.1"/><line x1="3342.1" y1="1495.5" x2="3370.4" y2="1533.6"/><line x1="3342.1" y1="1495.5" x2="3306.8" y2="1534.3"/><line x1="3342.1" y1="1495.5" x2="3327.5" y2="1544.1"/><line x1="3342.1" y1="1495.5" x2="3346.8" y2="1548.9"/><line x1="3342.1" y1="1495.5" x2="3322.1" y2="1557.9"/><line x1="3342.1" y1="1495.5" x2="3335.9" y2="1562.7"/><line x1="3342.1" y1="1495.5" x2="3353.4" y2="1559.0"/><line x1="3329.7" y1="1499.8" x2="3354.8" y2="1499.8"/><line x1="3329.7" y1="1499.8" x2="3317.7" y2="1502.7"/><line x1="3329.7" y1="1499.8" x2="3309.8" y2="1514.3"/><line x1="3329.7" y1="1499.8" x2="3346.8" y2="1514.3"/><line x1="3329.7" y1="1499.8" x2="3363.9" y2="1510.7"/><line x1="3329.7" y1="1499.8" x2="3329.4" y2="1517.3"/><line x1="3329.7" y1="1499.8" x2="3365.0" y2="1522.3"/><line x1="3329.7" y1="1499.8" x2="3316.6" y2="1527.1"/><line x1="3329.7" y1="1499.8" x2="3337.7" y2="1530.7"/><line x1="3329.7" y1="1499.8" x2="3353.4" y2="1535.1"/><line x1="3329.7" y1="1499.8" x2="3370.4" y2="1533.6"/><line x1="3329.7" y1="1499.8" x2="3306.8" y2="1534.3"/><line x1="3329.7" y1="1499.8" x2="3327.5" y2="1544.1"/><line x1="3329.7" y1="1499.8" x2="3346.8" y2="1548.9"/><line x1="3329.7" y1="1499.8" x2="3322.1" y2="1557.9"/><line x1="3329.7" y1="1499.8" x2="3335.9" y2="1562.7"/><line x1="3329.7" y1="1499.8" x2="3353.4" y2="1559.0"/><line x1="3354.8" y1="1499.8" x2="3317.7" y2="1502.7"/><line x1="3354.8" y1="1499.8" x2="3309.8" y2="1514.3"/><line x1="3354.8" y1="1499.8" x2="3346.8" y2="1514.3"/><line x1="3354.8" y1="1499.8" x2="3363.9" y2="1510.7"/><line x1="3354.8" y1="1499.8" x2="3329.4" y2="1517.3"/><line x1="3354.8" y1="1499.8" x2="3365.0" y2="1522.3"/><line x1="3354.8" y1="1499.8" x2="3316.6" y2="1527.1"/><line x1="3354.8" y1="1499.8" x2="3337.7" y2="1530.7"/><line x1="3354.8" y1="1499.8" x2="3353.4" y2="1535.1"/><line x1="3354.8" y1="1499.8" x2="3370.4" y2="1533.6"/><line x1="3354.8" y1="1499.8" x2="3306.8" y2="1534.3"/><line x1="3354.8" y1="1499.8" x2="3327.5" y2="1544.1"/><line x1="3354.8" y1="1499.8" x2="3346.8" y2="1548.9"/><line x1="3354.8" y1="1499.8" x2="3322.1" y2="1557.9"/><line x1="3354.8" y1="1499.8" x2="3335.9" y2="1562.7"/><line x1="3354.8" y1="1499.8" x2="3353.4" y2="1559.0"/><line x1="3317.7" y1="1502.7" x2="3309.8" y2="1514.3"/><line x1="3317.7" y1="1502.7" x2="3346.8" y2="1514.3"/><line x1="3317.7" y1="1502.7" x2="3363.9" y2="1510.7"/><line x1="3317.7" y1="1502.7" x2="3329.4" y2="1517.3"/><line x1="3317.7" y1="1502.7" x2="3365.0" y2="1522.3"/><line x1="3317.7" y1="1502.7" x2="3316.6" y2="1527.1"/><line x1="3317.7" y1="1502.7" x2="3337.7" y2="1530.7"/><line x1="3317.7" y1="1502.7" x2="3353.4" y2="1535.1"/><line x1="3317.7" y1="1502.7" x2="3370.4" y2="1533.6"/><line x1="3317.7" y1="1502.7" x2="3306.8" y2="1534.3"/><line x1="3317.7" y1="1502.7" x2="3327.5" y2="1544.1"/><line x1="3317.7" y1="1502.7" x2="3346.8" y2="1548.9"/><line x1="3317.7" y1="1502.7" x2="3322.1" y2="1557.9"/><line x1="3317.7" y1="1502.7" x2="3335.9" y2="1562.7"/><line x1="3317.7" y1="1502.7" x2="3353.4" y2="1559.0"/><line x1="3309.8" y1="1514.3" x2="3346.8" y2="1514.3"/><line x1="3309.8" y1="1514.3" x2="3363.9" y2="1510.7"/><line x1="3309.8" y1="1514.3" x2="3329.4" y2="1517.3"/><line x1="3309.8" y1="1514.3" x2="3365.0" y2="1522.3"/><line x1="3309.8" y1="1514.3" x2="3316.6" y2="1527.1"/><line x1="3309.8" y1="1514.3" x2="3337.7" y2="1530.7"/><line x1="3309.8" y1="1514.3" x2="3353.4" y2="1535.1"/><line x1="3309.8" y1="1514.3" x2="3370.4" y2="1533.6"/><line x1="3309.8" y1="1514.3" x2="3306.8" y2="1534.3"/><line x1="3309.8" y1="1514.3" x2="3327.5" y2="1544.1"/><line x1="3309.8" y1="1514.3" x2="3346.8" y2="1548.9"/><line x1="3309.8" y1="1514.3" x2="3322.1" y2="1557.9"/><line x1="3309.8" y1="1514.3" x2="3335.9" y2="1562.7"/><line x1="3309.8" y1="1514.3" x2="3353.4" y2="1559.0"/><line x1="3346.8" y1="1514.3" x2="3363.9" y2="1510.7"/><line x1="3346.8" y1="1514.3" x2="3329.4" y2="1517.3"/><line x1="3346.8" y1="1514.3" x2="3365.0" y2="1522.3"/><line x1="3346.8" y1="1514.3" x2="3316.6" y2="1527.1"/><line x1="3346.8" y1="1514.3" x2="3337.7" y2="1530.7"/><line x1="3346.8" y1="1514.3" x2="3353.4" y2="1535.1"/><line x1="3346.8" y1="1514.3" x2="3370.4" y2="1533.6"/><line x1="3346.8" y1="1514.3" x2="3306.8" y2="1534.3"/><line x1="3346.8" y1="1514.3" x2="3327.5" y2="1544.1"/><line x1="3346.8" y1="1514.3" x2="3346.8" y2="1548.9"/><line x1="3346.8" y1="1514.3" x2="3322.1" y2="1557.9"/><line x1="3346.8" y1="1514.3" x2="3335.9" y2="1562.7"/><line x1="3346.8" y1="1514.3" x2="3353.4" y2="1559.0"/><line x1="3363.9" y1="1510.7" x2="3329.4" y2="1517.3"/><line x1="3363.9" y1="1510.7" x2="3365.0" y2="1522.3"/><line x1="3363.9" y1="1510.7" x2="3316.6" y2="1527.1"/><line x1="3363.9" y1="1510.7" x2="3337.7" y2="1530.7"/><line x1="3363.9" y1="1510.7" x2="3353.4" y2="1535.1"/><line x1="3363.9" y1="1510.7" x2="3370.4" y2="1533.6"/><line x1="3363.9" y1="1510.7" x2="3306.8" y2="1534.3"/><line x1="3363.9" y1="1510.7" x2="3327.5" y2="1544.1"/><line x1="3363.9" y1="1510.7" x2="3346.8" y2="1548.9"/><line x1="3363.9" y1="1510.7" x2="3322.1" y2="1557.9"/><line x1="3363.9" y1="1510.7" x2="3335.9" y2="1562.7"/><line x1="3363.9" y1="1510.7" x2="3353.4" y2="1559.0"/><line x1="3329.4" y1="1517.3" x2="3365.0" y2="1522.3"/><line x1="3329.4" y1="1517.3" x2="3316.6" y2="1527.1"/><line x1="3329.4" y1="1517.3" x2="3337.7" y2="1530.7"/><line x1="3329.4" y1="1517.3" x2="3353.4" y2="1535.1"/><line x1="3329.4" y1="1517.3" x2="3370.4" y2="1533.6"/><line x1="3329.4" y1="1517.3" x2="3306.8" y2="1534.3"/><line x1="3329.4" y1="1517.3" x2="3327.5" y2="1544.1"/><line x1="3329.4" y1="1517.3" x2="3346.8" y2="1548.9"/><line x1="3329.4" y1="1517.3" x2="3322.1" y2="1557.9"/><line x1="3329.4" y1="1517.3" x2="3335.9" y2="1562.7"/><line x1="3329.4" y1="1517.3" x2="3353.4" y2="1559.0"/><line x1="3365.0" y1="1522.3" x2="3316.6" y2="1527.1"/><line x1="3365.0" y1="1522.3" x2="3337.7" y2="1530.7"/><line x1="3365.0" y1="1522.3" x2="3353.4" y2="1535.1"/><line x1="3365.0" y1="1522.3" x2="3370.4" y2="1533.6"/><line x1="3365.0" y1="1522.3" x2="3306.8" y2="1534.3"/><line x1="3365.0" y1="1522.3" x2="3327.5" y2="1544.1"/><line x1="3365.0" y1="1522.3" x2="3346.8" y2="1548.9"/><line x1="3365.0" y1="1522.3" x2="3322.1" y2="1557.9"/><line x1="3365.0" y1="1522.3" x2="3335.9" y2="1562.7"/><line x1="3365.0" y1="1522.3" x2="3353.4" y2="1559.0"/><line x1="3316.6" y1="1527.1" x2="3337.7" y2="1530.7"/><line x1="3316.6" y1="1527.1" x2="3353.4" y2="1535.1"/><line x1="3316.6" y1="1527.1" x2="3370.4" y2="1533.6"/><line x1="3316.6" y1="1527.1" x2="3306.8" y2="1534.3"/><line x1="3316.6" y1="1527.1" x2="3327.5" y2="1544.1"/><line x1="3316.6" y1="1527.1" x2="3346.8" y2="1548.9"/><line x1="3316.6" y1="1527.1" x2="3322.1" y2="1557.9"/><line x1="3316.6" y1="1527.1" x2="3335.9" y2="1562.7"/><line x1="3316.6" y1="1527.1" x2="3353.4" y2="1559.0"/><line x1="3337.7" y1="1530.7" x2="3353.4" y2="1535.1"/><line x1="3337.7" y1="1530.7" x2="3370.4" y2="1533.6"/><line x1="3337.7" y1="1530.7" x2="3306.8" y2="1534.3"/><line x1="3337.7" y1="1530.7" x2="3327.5" y2="1544.1"/><line x1="3337.7" y1="1530.7" x2="3346.8" y2="1548.9"/><line x1="3337.7" y1="1530.7" x2="3322.1" y2="1557.9"/><line x1="3337.7" y1="1530.7" x2="3335.9" y2="1562.7"/><line x1="3337.7" y1="1530.7" x2="3353.4" y2="1559.0"/><line x1="3353.4" y1="1535.1" x2="3370.4" y2="1533.6"/><line x1="3353.4" y1="1535.1" x2="3306.8" y2="1534.3"/><line x1="3353.4" y1="1535.1" x2="3327.5" y2="1544.1"/><line x1="3353.4" y1="1535.1" x2="3346.8" y2="1548.9"/><line x1="3353.4" y1="1535.1" x2="3322.1" y2="1557.9"/><line x1="3353.4" y1="1535.1" x2="3335.9" y2="1562.7"/><line x1="3353.4" y1="1535.1" x2="3353.4" y2="1559.0"/><line x1="3370.4" y1="1533.6" x2="3306.8" y2="1534.3"/><line x1="3370.4" y1="1533.6" x2="3327.5" y2="1544.1"/><line x1="3370.4" y1="1533.6" x2="3346.8" y2="1548.9"/><line x1="3370.4" y1="1533.6" x2="3322.1" y2="1557.9"/><line x1="3370.4" y1="1533.6" x2="3335.9" y2="1562.7"/><line x1="3370.4" y1="1533.6" x2="3353.4" y2="1559.0"/><line x1="3306.8" y1="1534.3" x2="3327.5" y2="1544.1"/><line x1="3306.8" y1="1534.3" x2="3346.8" y2="1548.9"/><line x1="3306.8" y1="1534.3" x2="3322.1" y2="1557.9"/><line x1="3306.8" y1="1534.3" x2="3335.9" y2="1562.7"/><line x1="3306.8" y1="1534.3" x2="3353.4" y2="1559.0"/><line x1="3327.5" y1="1544.1" x2="3346.8" y2="1548.9"/><line x1="3327.5" y1="1544.1" x2="3322.1" y2="1557.9"/><line x1="3327.5" y1="1544.1" x2="3335.9" y2="1562.7"/><line x1="3327.5" y1="1544.1" x2="3353.4" y2="1559.0"/><line x1="3346.8" y1="1548.9" x2="3322.1" y2="1557.9"/><line x1="3346.8" y1="1548.9" x2="3335.9" y2="1562.7"/><line x1="3346.8" y1="1548.9" x2="3353.4" y2="1559.0"/><line x1="3322.1" y1="1557.9" x2="3335.9" y2="1562.7"/><line x1="3322.1" y1="1557.9" x2="3353.4" y2="1559.0"/><line x1="3335.9" y1="1562.7" x2="3353.4" y2="1559.0"/><line x1="3061.6" y1="1560.9" x2="3087.1" y2="1556.1"/><line x1="3061.6" y1="1560.9" x2="3052.5" y2="1585.9"/><line x1="3061.6" y1="1560.9" x2="3098.7" y2="1578.6"/><line x1="3061.6" y1="1560.9" x2="3070.7" y2="1604.5"/><line x1="3061.6" y1="1560.9" x2="3096.9" y2="1603.4"/><line x1="3087.1" y1="1556.1" x2="3052.5" y2="1585.9"/><line x1="3087.1" y1="1556.1" x2="3098.7" y2="1578.6"/><line x1="3087.1" y1="1556.1" x2="3070.7" y2="1604.5"/><line x1="3087.1" y1="1556.1" x2="3096.9" y2="1603.4"/><line x1="3052.5" y1="1585.9" x2="3098.7" y2="1578.6"/><line x1="3052.5" y1="1585.9" x2="3070.7" y2="1604.5"/><line x1="3052.5" y1="1585.9" x2="3096.9" y2="1603.4"/><line x1="3098.7" y1="1578.6" x2="3070.7" y2="1604.5"/><line x1="3098.7" y1="1578.6" x2="3096.9" y2="1603.4"/><line x1="3070.7" y1="1604.5" x2="3096.9" y2="1603.4"/></g>
<line x1="1040.6" y1="1259" x2="1040.6" y2="1285.2" stroke="#222" stroke-width="1.2"/>
<g><circle cx="335.0" cy="60.0" r="1.70" fill="#1a1a1a"/><circle cx="353.0" cy="86.0" r="1.70" fill="#1a1a1a"/><circle cx="410.0" cy="36.0" r="1.70" fill="#1a1a1a"/><circle cx="427.5" cy="64.0" r="1.95" fill="#f6a35c" stroke="#1a1a1a" stroke-width="1.3"/><circle cx="451.0" cy="91.0" r="1.70" fill="#1a1a1a"/><circle cx="529.0" cy="36.0" r="2.25" fill="#f6a35c" stroke="#1a1a1a" stroke-width="1.3"/><circle cx="506.5" cy="52.5" r="2.25" fill="#f6a35c" stroke="#1a1a1a" stroke-width="1.3"/><circle cx="547.5" cy="58.5" r="2.25" fill="#f6a35c" stroke="#1a1a1a" stroke-width="1.3"/><circle cx="525.0" cy="77.5" r="2.25" fill="#f6a35c" stroke="#1a1a1a" stroke-width="1.3"/><circle cx="248.5" cy="145.5" r="3.40" fill="#f6a35c" stroke="#1a1a1a" stroke-width="1.3"/><circle cx="271.0" cy="140.0" r="3.40" fill="#f6a35c" stroke="#1a1a1a" stroke-width="1.3"/><circle cx="289.0" cy="156.0" r="3.40" fill="#f6a35c" stroke="#1a1a1a" stroke-width="1.3"/><circle cx="282.5" cy="181.0" r="3.40" fill="#f6a35c" stroke="#1a1a1a" stroke-width="1.3"/><circle cx="257.5" cy="186.5" r="3.40" fill="#f6a35c" stroke="#1a1a1a" stroke-width="1.3"/><circle cx="242.5" cy="168.5" r="3.40" fill="#f6a35c" stroke="#1a1a1a" stroke-width="1.3"/><circle cx="267.5" cy="165.0" r="3.40" fill="#f6a35c" stroke="#1a1a1a" stroke-width="1.3"/><circle cx="657.6" cy="123.2" r="4.30" fill="#f6a35c" stroke="#1a1a1a" stroke-width="1.3"/><circle cx="639.0" cy="129.6" r="4.30" fill="#f6a35c" stroke="#1a1a1a" stroke-width="1.3"/><circle cx="674.2" cy="126.5" r="4.30" fill="#f6a35c" stroke="#1a1a1a" stroke-width="1.3"/><circle cx="685.3" cy="140.5" r="4.30" fill="#f6a35c" stroke="#1a1a1a" stroke-width="1.3"/><circle cx="650.1" cy="141.3" r="4.30" fill="#f6a35c" stroke="#1a1a1a" stroke-width="1.3"/><circle cx="665.2" cy="149.4" r="4.30" fill="#f6a35c" stroke="#1a1a1a" stroke-width="1.3"/><circle cx="631.1" cy="149.4" r="4.30" fill="#f6a35c" stroke="#1a1a1a" stroke-width="1.3"/><circle cx="643.6" cy="160.9" r="4.30" fill="#f6a35c" stroke="#1a1a1a" stroke-width="1.3"/><circle cx="681.7" cy="157.6" r="4.30" fill="#f6a35c" stroke="#1a1a1a" stroke-width="1.3"/><circle cx="652.5" cy="174.2" r="4.30" fill="#f6a35c" stroke="#1a1a1a" stroke-width="1.3"/><circle cx="670.9" cy="172.0" r="4.30" fill="#f6a35c" stroke="#1a1a1a" stroke-width="1.3"/><circle cx="410.5" cy="160.5" r="2.25" fill="#f6a35c" stroke="#1a1a1a" stroke-width="1.3"/><circle cx="427.2" cy="191.0" r="3.05" fill="#f6a35c" stroke="#1a1a1a" stroke-width="1.3"/><circle cx="448.2" cy="186.6" r="2.55" fill="#f6a35c" stroke="#1a1a1a" stroke-width="1.3"/><circle cx="408.3" cy="204.7" r="2.25" fill="#f6a35c" stroke="#1a1a1a" stroke-width="1.3"/><circle cx="433.4" cy="229.4" r="3.40" fill="#f6a35c" stroke="#1a1a1a" stroke-width="1.3"/><circle cx="456.3" cy="233.1" r="3.40" fill="#f6a35c" stroke="#1a1a1a" stroke-width="1.3"/><circle cx="477.7" cy="256.0" r="3.40" fill="#f6a35c" stroke="#1a1a1a" stroke-width="1.3"/><circle cx="501.7" cy="262.6" r="2.25" fill="#f6a35c" stroke="#1a1a1a" stroke-width="1.3"/><circle cx="460.0" cy="271.1" r="3.40" fill="#f6a35c" stroke="#1a1a1a" stroke-width="1.3"/><circle cx="502.4" cy="292.1" r="3.05" fill="#f6a35c" stroke="#1a1a1a" stroke-width="1.3"/><circle cx="466.6" cy="300.6" r="3.40" fill="#f6a35c" stroke="#1a1a1a" stroke-width="1.3"/><circle cx="468.5" cy="356.0" r="1.95" fill="#f6a35c" stroke="#1a1a1a" stroke-width="1.3"/><circle cx="437.0" cy="345.0" r="1.95" fill="#f6a35c" stroke="#1a1a1a" stroke-width="1.3"/><circle cx="169.0" cy="231.0" r="1.70" fill="#1a1a1a"/><circle cx="156.5" cy="262.0" r="1.70" fill="#1a1a1a"/><circle cx="233.0" cy="271.9" r="1.70" fill="#1a1a1a"/><circle cx="215.8" cy="301.7" r="1.70" fill="#1a1a1a"/><circle cx="280.5" cy="319.0" r="1.70" fill="#1a1a1a"/><circle cx="306.0" cy="296.0" r="1.70" fill="#1a1a1a"/><circle cx="146.0" cy="336.5" r="1.95" fill="#f6a35c" stroke="#1a1a1a" stroke-width="1.3"/><circle cx="173.5" cy="355.0" r="1.95" fill="#f6a35c" stroke="#1a1a1a" stroke-width="1.3"/><circle cx="144.0" cy="369.0" r="1.95" fill="#f6a35c" stroke="#1a1a1a" stroke-width="1.3"/><circle cx="308.0" cy="381.0" r="1.70" fill="#1a1a1a"/><circle cx="339.5" cy="370.0" r="1.70" fill="#1a1a1a"/><circle cx="791.5" cy="225.0" r="1.95" fill="#f6a35c" stroke="#1a1a1a" stroke-width="1.3"/><circle cx="775.0" cy="252.5" r="1.95" fill="#f6a35c" stroke="#1a1a1a" stroke-width="1.3"/><circle cx="806.5" cy="257.5" r="1.95" fill="#f6a35c" stroke="#1a1a1a" stroke-width="1.3"/><circle cx="704.5" cy="281.0" r="1.70" fill="#1a1a1a"/><circle cx="724.0" cy="306.0" r="1.70" fill="#1a1a1a"/><circle cx="789.5" cy="344.0" r="2.25" fill="#f6a35c" stroke="#1a1a1a" stroke-width="1.3"/><circle cx="816.5" cy="350.0" r="2.25" fill="#f6a35c" stroke="#1a1a1a" stroke-width="1.3"/><circle cx="780.0" cy="372.5" r="2.25" fill="#f6a35c" stroke="#1a1a1a" stroke-width="1.3"/><circle cx="810.0" cy="379.0" r="2.25" fill="#f6a35c" stroke="#1a1a1a" stroke-width="1.3"/><circle cx="607.5" cy="359.0" r="3.40" fill="#f6a35c" stroke="#1a1a1a" stroke-width="1.3"/><circle cx="628.5" cy="355.0" r="3.40" fill="#f6a35c" stroke="#1a1a1a" stroke-width="1.3"/><circle cx="596.0" cy="376.0" r="3.40" fill="#f6a35c" stroke="#1a1a1a" stroke-width="1.3"/><circle cx="637.5" cy="374.0" r="3.40" fill="#f6a35c" stroke="#1a1a1a" stroke-width="1.3"/><circle cx="639.0" cy="392.5" r="3.40" fill="#f6a35c" stroke="#1a1a1a" stroke-width="1.3"/><circle cx="600.0" cy="397.5" r="3.40" fill="#f6a35c" stroke="#1a1a1a" stroke-width="1.3"/><circle cx="620.0" cy="398.5" r="3.40" fill="#f6a35c" stroke="#1a1a1a" stroke-width="1.3"/><circle cx="373.6" cy="450.7" r="1.70" fill="#1a1a1a"/><circle cx="400.2" cy="430.4" r="1.70" fill="#1a1a1a"/><circle cx="222.3" cy="469.5" r="4.65" fill="#f6a35c" stroke="#1a1a1a" stroke-width="1.3"/><circle cx="199.0" cy="480.7" r="4.65" fill="#f6a35c" stroke="#1a1a1a" stroke-width="1.3"/><circle cx="212.9" cy="481.8" r="4.65" fill="#f6a35c" stroke="#1a1a1a" stroke-width="1.3"/><circle cx="242.9" cy="479.6" r="4.65" fill="#f6a35c" stroke="#1a1a1a" stroke-width="1.3"/><circle cx="230.1" cy="487.5" r="4.65" fill="#f6a35c" stroke="#1a1a1a" stroke-width="1.3"/><circle cx="195.2" cy="499.5" r="4.65" fill="#f6a35c" stroke="#1a1a1a" stroke-width="1.3"/><circle cx="247.8" cy="499.5" r="4.65" fill="#f6a35c" stroke="#1a1a1a" stroke-width="1.3"/><circle cx="208.4" cy="505.9" r="4.65" fill="#f6a35c" stroke="#1a1a1a" stroke-width="1.3"/><circle cx="227.1" cy="505.9" r="4.65" fill="#f6a35c" stroke="#1a1a1a" stroke-width="1.3"/><circle cx="205.4" cy="521.3" r="4.65" fill="#f6a35c" stroke="#1a1a1a" stroke-width="1.3"/><circle cx="224.5" cy="523.9" r="4.65" fill="#f6a35c" stroke="#1a1a1a" stroke-width="1.3"/><circle cx="240.7" cy="515.3" r="4.65" fill="#f6a35c" stroke="#1a1a1a" stroke-width="1.3"/><circle cx="456.2" cy="500.6" r="2.55" fill="#f6a35c" stroke="#1a1a1a" stroke-width="1.3"/><circle cx="434.8" cy="515.6" r="2.55" fill="#f6a35c" stroke="#1a1a1a" stroke-width="1.3"/><circle cx="477.5" cy="516.4" r="2.55" fill="#f6a35c" stroke="#1a1a1a" stroke-width="1.3"/><circle cx="440.4" cy="541.5" r="2.55" fill="#f6a35c" stroke="#1a1a1a" stroke-width="1.3"/><circle cx="466.3" cy="540.8" r="2.55" fill="#f6a35c" stroke="#1a1a1a" stroke-width="1.3"/><circle cx="610.1" cy="519.0" r="2.55" fill="#f6a35c" stroke="#1a1a1a" stroke-width="1.3"/><circle cx="636.4" cy="525.0" r="2.55" fill="#f6a35c" stroke="#1a1a1a" stroke-width="1.3"/><circle cx="597.0" cy="541.2" r="2.55" fill="#f6a35c" stroke="#1a1a1a" stroke-width="1.3"/><circle cx="638.2" cy="550.5" r="2.55" fill="#f6a35c" stroke="#1a1a1a" stroke-width="1.3"/><circle cx="613.8" cy="561.4" r="2.55" fill="#f6a35c" stroke="#1a1a1a" stroke-width="1.3"/><circle cx="716.0" cy="474.0" r="1.70" fill="#1a1a1a"/><circle cx="728.0" cy="442.4" r="1.70" fill="#1a1a1a"/><circle cx="797.8" cy="450.7" r="1.70" fill="#1a1a1a"/><circle cx="830.5" cy="451.8" r="1.70" fill="#1a1a1a"/><circle cx="756.5" cy="531.4" r="1.95" fill="#f6a35c" stroke="#1a1a1a" stroke-width="1.3"/><circle cx="786.5" cy="518.3" r="1.95" fill="#f6a35c" stroke="#1a1a1a" stroke-width="1.3"/><circle cx="782.8" cy="550.9" r="1.95" fill="#f6a35c" stroke="#1a1a1a" stroke-width="1.3"/><circle cx="518.8" cy="604.6" r="1.70" fill="#1a1a1a"/><circle cx="550.0" cy="619.3" r="1.70" fill="#1a1a1a"/><circle cx="342.8" cy="629.0" r="3.65" fill="#f6a35c" stroke="#1a1a1a" stroke-width="1.3"/><circle cx="324.8" cy="633.5" r="3.65" fill="#f6a35c" stroke="#1a1a1a" stroke-width="1.3"/><circle cx="361.5" cy="635.8" r="3.65" fill="#f6a35c" stroke="#1a1a1a" stroke-width="1.3"/><circle cx="315.4" cy="652.7" r="3.65" fill="#f6a35c" stroke="#1a1a1a" stroke-width="1.3"/><circle cx="341.6" cy="654.2" r="3.65" fill="#f6a35c" stroke="#1a1a1a" stroke-width="1.3"/><circle cx="365.3" cy="659.0" r="3.65" fill="#f6a35c" stroke="#1a1a1a" stroke-width="1.3"/><circle cx="326.6" cy="671.1" r="3.65" fill="#f6a35c" stroke="#1a1a1a" stroke-width="1.3"/><circle cx="349.1" cy="675.9" r="3.65" fill="#f6a35c" stroke="#1a1a1a" stroke-width="1.3"/><circle cx="704.0" cy="604.6" r="2.25" fill="#f6a35c" stroke="#1a1a1a" stroke-width="1.3"/><circle cx="686.3" cy="628.3" r="2.25" fill="#f6a35c" stroke="#1a1a1a" stroke-width="1.3"/><circle cx="727.6" cy="621.5" r="2.25" fill="#f6a35c" stroke="#1a1a1a" stroke-width="1.3"/><circle cx="708.5" cy="645.2" r="2.25" fill="#f6a35c" stroke="#1a1a1a" stroke-width="1.3"/><circle cx="481.3" cy="681.2" r="2.55" fill="#f6a35c" stroke="#1a1a1a" stroke-width="1.3"/><circle cx="461.8" cy="697.7" r="2.55" fill="#f6a35c" stroke="#1a1a1a" stroke-width="1.3"/><circle cx="505.0" cy="690.6" r="2.55" fill="#f6a35c" stroke="#1a1a1a" stroke-width="1.3"/><circle cx="499.3" cy="714.6" r="2.55" fill="#f6a35c" stroke="#1a1a1a" stroke-width="1.3"/><circle cx="474.9" cy="721.7" r="2.55" fill="#f6a35c" stroke="#1a1a1a" stroke-width="1.3"/><circle cx="604.4" cy="669.6" r="1.95" fill="#f6a35c" stroke="#1a1a1a" stroke-width="1.3"/><circle cx="593.2" cy="702.2" r="1.95" fill="#f6a35c" stroke="#1a1a1a" stroke-width="1.3"/><circle cx="626.2" cy="694.7" r="1.95" fill="#f6a35c" stroke="#1a1a1a" stroke-width="1.3"/><circle cx="386.7" cy="916.5" r="1.70" fill="#1a1a1a"/><circle cx="417.5" cy="905.2" r="1.70" fill="#1a1a1a"/><circle cx="494.8" cy="966.4" r="3.90" fill="#0e6836" stroke="#1a1a1a" stroke-width="1.3"/><circle cx="512.5" cy="961.5" r="3.90" fill="#0e6836" stroke="#1a1a1a" stroke-width="1.3"/><circle cx="529.4" cy="967.5" r="3.90" fill="#0e6836" stroke="#1a1a1a" stroke-width="1.3"/><circle cx="486.2" cy="985.9" r="3.90" fill="#0e6836" stroke="#1a1a1a" stroke-width="1.3"/><circle cx="538.0" cy="985.2" r="3.90" fill="#0e6836" stroke="#1a1a1a" stroke-width="1.3"/><circle cx="491.8" cy="1005.0" r="3.90" fill="#0e6836" stroke="#1a1a1a" stroke-width="1.3"/><circle cx="507.6" cy="1002.0" r="3.90" fill="#0e6836" stroke="#1a1a1a" stroke-width="1.3"/><circle cx="530.5" cy="1002.0" r="3.90" fill="#0e6836" stroke="#1a1a1a" stroke-width="1.3"/><circle cx="516.2" cy="1012.2" r="3.90" fill="#0e6836" stroke="#1a1a1a" stroke-width="1.3"/><circle cx="273.3" cy="1011.4" r="4.65" fill="#0e6836" stroke="#1a1a1a" stroke-width="1.3"/><circle cx="296.6" cy="1015.2" r="4.65" fill="#0e6836" stroke="#1a1a1a" stroke-width="1.3"/><circle cx="262.8" cy="1022.7" r="4.65" fill="#0e6836" stroke="#1a1a1a" stroke-width="1.3"/><circle cx="272.2" cy="1029.5" r="4.65" fill="#0e6836" stroke="#1a1a1a" stroke-width="1.3"/><circle cx="292.1" cy="1032.1" r="4.65" fill="#0e6836" stroke="#1a1a1a" stroke-width="1.3"/><circle cx="306.0" cy="1028.3" r="4.65" fill="#0e6836" stroke="#1a1a1a" stroke-width="1.3"/><circle cx="255.3" cy="1036.6" r="4.65" fill="#0e6836" stroke="#1a1a1a" stroke-width="1.3"/><circle cx="278.6" cy="1045.2" r="4.65" fill="#0e6836" stroke="#1a1a1a" stroke-width="1.3"/><circle cx="262.8" cy="1046.0" r="4.65" fill="#0e6836" stroke="#1a1a1a" stroke-width="1.3"/><circle cx="295.8" cy="1046.0" r="4.65" fill="#0e6836" stroke="#1a1a1a" stroke-width="1.3"/><circle cx="308.6" cy="1042.2" r="4.65" fill="#0e6836" stroke="#1a1a1a" stroke-width="1.3"/><circle cx="258.3" cy="1057.6" r="4.65" fill="#0e6836" stroke="#1a1a1a" stroke-width="1.3"/><circle cx="270.3" cy="1061.4" r="4.65" fill="#0e6836" stroke="#1a1a1a" stroke-width="1.3"/><circle cx="281.6" cy="1065.9" r="4.65" fill="#0e6836" stroke="#1a1a1a" stroke-width="1.3"/><circle cx="292.1" cy="1060.2" r="4.65" fill="#0e6836" stroke="#1a1a1a" stroke-width="1.3"/><circle cx="304.1" cy="1058.4" r="4.65" fill="#0e6836" stroke="#1a1a1a" stroke-width="1.3"/><circle cx="643.1" cy="1008.4" r="2.55" fill="#0e6836" stroke="#1a1a1a" stroke-width="1.3"/><circle cx="661.9" cy="1022.0" r="2.55" fill="#0e6836" stroke="#1a1a1a" stroke-width="1.3"/><circle cx="628.1" cy="1029.5" r="2.55" fill="#0e6836" stroke="#1a1a1a" stroke-width="1.3"/><circle cx="663.8" cy="1044.5" r="2.55" fill="#0e6836" stroke="#1a1a1a" stroke-width="1.3"/><circle cx="638.2" cy="1052.7" r="2.55" fill="#0e6836" stroke="#1a1a1a" stroke-width="1.3"/><circle cx="720.8" cy="1088.4" r="2.55" fill="#0e6836" stroke="#1a1a1a" stroke-width="1.3"/><circle cx="743.4" cy="1097.8" r="2.55" fill="#0e6836" stroke="#1a1a1a" stroke-width="1.3"/><circle cx="703.9" cy="1109.0" r="2.55" fill="#0e6836" stroke="#1a1a1a" stroke-width="1.3"/><circle cx="741.5" cy="1122.2" r="2.55" fill="#0e6836" stroke="#1a1a1a" stroke-width="1.3"/><circle cx="719.0" cy="1127.8" r="2.55" fill="#0e6836" stroke="#1a1a1a" stroke-width="1.3"/><circle cx="133.7" cy="1136.5" r="2.25" fill="#0e6836" stroke="#1a1a1a" stroke-width="1.3"/><circle cx="111.5" cy="1156.0" r="2.25" fill="#0e6836" stroke="#1a1a1a" stroke-width="1.3"/><circle cx="152.4" cy="1157.1" r="2.25" fill="#0e6836" stroke="#1a1a1a" stroke-width="1.3"/><circle cx="130.6" cy="1176.6" r="2.25" fill="#0e6836" stroke="#1a1a1a" stroke-width="1.3"/><circle cx="492.6" cy="1132.7" r="1.70" fill="#1a1a1a"/><circle cx="501.6" cy="1163.5" r="1.70" fill="#1a1a1a"/><circle cx="596.9" cy="1187.9" r="3.05" fill="#0e6836" stroke="#1a1a1a" stroke-width="1.3"/><circle cx="619.5" cy="1190.9" r="3.05" fill="#0e6836" stroke="#1a1a1a" stroke-width="1.3"/><circle cx="583.0" cy="1204.8" r="3.05" fill="#0e6836" stroke="#1a1a1a" stroke-width="1.3"/><circle cx="627.0" cy="1212.3" r="3.05" fill="#0e6836" stroke="#1a1a1a" stroke-width="1.3"/><circle cx="593.2" cy="1224.7" r="3.05" fill="#0e6836" stroke="#1a1a1a" stroke-width="1.3"/><circle cx="613.1" cy="1229.2" r="3.05" fill="#0e6836" stroke="#1a1a1a" stroke-width="1.3"/><circle cx="714.1" cy="1212.3" r="1.70" fill="#1a1a1a"/><circle cx="735.1" cy="1237.4" r="1.70" fill="#1a1a1a"/><circle cx="783.9" cy="1191.6" r="1.70" fill="#1a1a1a"/><circle cx="791.0" cy="1224.7" r="1.70" fill="#1a1a1a"/><circle cx="167.8" cy="1245.8" r="3.05" fill="#0e6836" stroke="#1a1a1a" stroke-width="1.3"/><circle cx="189.6" cy="1249.6" r="3.05" fill="#0e6836" stroke="#1a1a1a" stroke-width="1.3"/><circle cx="151.3" cy="1260.8" r="3.05" fill="#0e6836" stroke="#1a1a1a" stroke-width="1.3"/><circle cx="199.7" cy="1270.2" r="3.05" fill="#0e6836" stroke="#1a1a1a" stroke-width="1.3"/><circle cx="160.3" cy="1281.5" r="3.05" fill="#0e6836" stroke="#1a1a1a" stroke-width="1.3"/><circle cx="182.1" cy="1284.5" r="3.05" fill="#0e6836" stroke="#1a1a1a" stroke-width="1.3"/><circle cx="378.0" cy="1239.4" r="4.30" fill="#0e6836" stroke="#1a1a1a" stroke-width="1.3"/><circle cx="358.5" cy="1247.7" r="4.30" fill="#0e6836" stroke="#1a1a1a" stroke-width="1.3"/><circle cx="396.1" cy="1248.8" r="4.30" fill="#0e6836" stroke="#1a1a1a" stroke-width="1.3"/><circle cx="374.7" cy="1255.2" r="4.30" fill="#0e6836" stroke="#1a1a1a" stroke-width="1.3"/><circle cx="392.3" cy="1262.7" r="4.30" fill="#0e6836" stroke="#1a1a1a" stroke-width="1.3"/><circle cx="349.1" cy="1264.6" r="4.30" fill="#0e6836" stroke="#1a1a1a" stroke-width="1.3"/><circle cx="402.5" cy="1274.0" r="4.30" fill="#0e6836" stroke="#1a1a1a" stroke-width="1.3"/><circle cx="354.8" cy="1282.6" r="4.30" fill="#0e6836" stroke="#1a1a1a" stroke-width="1.3"/><circle cx="378.4" cy="1282.6" r="4.30" fill="#0e6836" stroke="#1a1a1a" stroke-width="1.3"/><circle cx="393.1" cy="1287.1" r="4.30" fill="#0e6836" stroke="#1a1a1a" stroke-width="1.3"/><circle cx="369.8" cy="1295.4" r="4.30" fill="#0e6836" stroke="#1a1a1a" stroke-width="1.3"/><circle cx="106.2" cy="1331.0" r="1.70" fill="#1a1a1a"/><circle cx="119.4" cy="1362.2" r="1.70" fill="#1a1a1a"/><circle cx="545.5" cy="1318.3" r="1.70" fill="#1a1a1a"/><circle cx="570.7" cy="1341.5" r="1.70" fill="#1a1a1a"/><circle cx="711.4" cy="1329.2" r="3.65" fill="#0e6836" stroke="#1a1a1a" stroke-width="1.3"/><circle cx="729.5" cy="1327.6" r="3.65" fill="#0e6836" stroke="#1a1a1a" stroke-width="1.3"/><circle cx="739.6" cy="1342.7" r="3.65" fill="#0e6836" stroke="#1a1a1a" stroke-width="1.3"/><circle cx="715.2" cy="1353.9" r="3.65" fill="#0e6836" stroke="#1a1a1a" stroke-width="1.3"/><circle cx="693.4" cy="1357.7" r="3.65" fill="#0e6836" stroke="#1a1a1a" stroke-width="1.3"/><circle cx="740.3" cy="1360.3" r="3.65" fill="#0e6836" stroke="#1a1a1a" stroke-width="1.3"/><circle cx="707.7" cy="1373.5" r="3.65" fill="#0e6836" stroke="#1a1a1a" stroke-width="1.3"/><circle cx="726.4" cy="1373.5" r="3.65" fill="#0e6836" stroke="#1a1a1a" stroke-width="1.3"/><circle cx="214.0" cy="1383.6" r="3.05" fill="#0e6836" stroke="#1a1a1a" stroke-width="1.3"/><circle cx="190.7" cy="1398.6" r="3.05" fill="#0e6836" stroke="#1a1a1a" stroke-width="1.3"/><circle cx="236.5" cy="1400.9" r="3.05" fill="#0e6836" stroke="#1a1a1a" stroke-width="1.3"/><circle cx="214.0" cy="1406.5" r="3.05" fill="#0e6836" stroke="#1a1a1a" stroke-width="1.3"/><circle cx="196.0" cy="1424.1" r="3.05" fill="#0e6836" stroke="#1a1a1a" stroke-width="1.3"/><circle cx="225.3" cy="1426.8" r="3.05" fill="#0e6836" stroke="#1a1a1a" stroke-width="1.3"/><circle cx="484.3" cy="1399.7" r="2.25" fill="#0e6836" stroke="#1a1a1a" stroke-width="1.3"/><circle cx="458.0" cy="1413.6" r="2.25" fill="#0e6836" stroke="#1a1a1a" stroke-width="1.3"/><circle cx="497.5" cy="1424.5" r="2.25" fill="#0e6836" stroke="#1a1a1a" stroke-width="1.3"/><circle cx="470.4" cy="1440.3" r="2.25" fill="#0e6836" stroke="#1a1a1a" stroke-width="1.3"/><circle cx="342.4" cy="1441.8" r="2.25" fill="#0e6836" stroke="#1a1a1a" stroke-width="1.3"/><circle cx="371.7" cy="1445.5" r="2.25" fill="#0e6836" stroke="#1a1a1a" stroke-width="1.3"/><circle cx="340.5" cy="1470.3" r="2.25" fill="#0e6836" stroke="#1a1a1a" stroke-width="1.3"/><circle cx="369.8" cy="1474.8" r="2.25" fill="#0e6836" stroke="#1a1a1a" stroke-width="1.3"/><circle cx="613.1" cy="1465.4" r="3.90" fill="#0e6836" stroke="#1a1a1a" stroke-width="1.3"/><circle cx="599.6" cy="1474.1" r="3.90" fill="#0e6836" stroke="#1a1a1a" stroke-width="1.3"/><circle cx="630.7" cy="1474.8" r="3.90" fill="#0e6836" stroke="#1a1a1a" stroke-width="1.3"/><circle cx="588.3" cy="1487.2" r="3.90" fill="#0e6836" stroke="#1a1a1a" stroke-width="1.3"/><circle cx="614.6" cy="1492.8" r="3.90" fill="#0e6836" stroke="#1a1a1a" stroke-width="1.3"/><circle cx="637.5" cy="1493.6" r="3.90" fill="#0e6836" stroke="#1a1a1a" stroke-width="1.3"/><circle cx="593.2" cy="1504.9" r="3.90" fill="#0e6836" stroke="#1a1a1a" stroke-width="1.3"/><circle cx="626.2" cy="1510.5" r="3.90" fill="#0e6836" stroke="#1a1a1a" stroke-width="1.3"/><circle cx="608.2" cy="1516.1" r="3.90" fill="#0e6836" stroke="#1a1a1a" stroke-width="1.3"/><circle cx="206.5" cy="1499.2" r="1.70" fill="#1a1a1a"/><circle cx="234.6" cy="1516.9" r="1.70" fill="#1a1a1a"/><circle cx="289.1" cy="1511.6" r="1.70" fill="#1a1a1a"/><circle cx="294.7" cy="1541.6" r="1.70" fill="#1a1a1a"/><circle cx="480.5" cy="1516.1" r="1.70" fill="#1a1a1a"/><circle cx="505.0" cy="1541.6" r="1.70" fill="#1a1a1a"/><circle cx="374.7" cy="1548.8" r="1.70" fill="#1a1a1a"/><circle cx="351.8" cy="1570.6" r="1.70" fill="#1a1a1a"/><circle cx="441.1" cy="1560.4" r="1.95" fill="#0e6836" stroke="#1a1a1a" stroke-width="1.3"/><circle cx="465.5" cy="1584.8" r="1.95" fill="#0e6836" stroke="#1a1a1a" stroke-width="1.3"/><circle cx="431.7" cy="1590.4" r="1.95" fill="#0e6836" stroke="#1a1a1a" stroke-width="1.3"/><circle cx="1250.9" cy="77.7" r="1.70" fill="#1a1a1a"/><circle cx="1284.6" cy="60.1" r="1.70" fill="#1a1a1a"/><circle cx="1435.6" cy="37.5" r="1.70" fill="#1a1a1a"/><circle cx="1472.4" cy="45.8" r="1.70" fill="#1a1a1a"/><circle cx="1142.7" cy="169.7" r="2.55" fill="#f6a35c" stroke="#1a1a1a" stroke-width="1.3"/><circle cx="1167.9" cy="164.4" r="2.55" fill="#f6a35c" stroke="#1a1a1a" stroke-width="1.3"/><circle cx="1137.1" cy="194.5" r="2.55" fill="#f6a35c" stroke="#1a1a1a" stroke-width="1.3"/><circle cx="1179.2" cy="187.7" r="2.55" fill="#f6a35c" stroke="#1a1a1a" stroke-width="1.3"/><circle cx="1158.9" cy="205.4" r="2.55" fill="#f6a35c" stroke="#1a1a1a" stroke-width="1.3"/><circle cx="1385.3" cy="222.9" r="27.1" fill="#f43c24"/><circle cx="1376.2" cy="194.0" r="5.15" fill="#f6a35c" stroke="#1a1a1a" stroke-width="1.3"/><circle cx="1393.0" cy="193.6" r="5.15" fill="#f6a35c" stroke="#1a1a1a" stroke-width="1.3"/><circle cx="1359.9" cy="204.1" r="5.15" fill="#f6a35c" stroke="#1a1a1a" stroke-width="1.3"/><circle cx="1371.2" cy="203.8" r="5.15" fill="#f6a35c" stroke="#1a1a1a" stroke-width="1.3"/><circle cx="1384.0" cy="201.8" r="5.15" fill="#f6a35c" stroke="#1a1a1a" stroke-width="1.3"/><circle cx="1400.0" cy="201.8" r="5.15" fill="#f6a35c" stroke="#1a1a1a" stroke-width="1.3"/><circle cx="1410.5" cy="205.7" r="5.15" fill="#f6a35c" stroke="#1a1a1a" stroke-width="1.3"/><circle cx="1364.9" cy="213.5" r="5.15" fill="#f6a35c" stroke="#1a1a1a" stroke-width="1.3"/><circle cx="1391.8" cy="211.2" r="5.15" fill="#f6a35c" stroke="#1a1a1a" stroke-width="1.3"/><circle cx="1378.2" cy="216.6" r="5.15" fill="#f6a35c" stroke="#1a1a1a" stroke-width="1.3"/><circle cx="1403.9" cy="215.8" r="5.15" fill="#f6a35c" stroke="#1a1a1a" stroke-width="1.3"/><circle cx="1415.2" cy="218.6" r="5.15" fill="#f6a35c" stroke="#1a1a1a" stroke-width="1.3"/><circle cx="1357.1" cy="219.7" r="5.15" fill="#f6a35c" stroke="#1a1a1a" stroke-width="1.3"/><circle cx="1393.7" cy="225.2" r="5.15" fill="#f6a35c" stroke="#1a1a1a" stroke-width="1.3"/><circle cx="1380.1" cy="228.3" r="5.15" fill="#f6a35c" stroke="#1a1a1a" stroke-width="1.3"/><circle cx="1408.1" cy="227.1" r="5.15" fill="#f6a35c" stroke="#1a1a1a" stroke-width="1.3"/><circle cx="1358.3" cy="229.8" r="5.15" fill="#f6a35c" stroke="#1a1a1a" stroke-width="1.3"/><circle cx="1370.4" cy="233.0" r="5.15" fill="#f6a35c" stroke="#1a1a1a" stroke-width="1.3"/><circle cx="1390.6" cy="236.9" r="5.15" fill="#f6a35c" stroke="#1a1a1a" stroke-width="1.3"/><circle cx="1412.8" cy="236.9" r="5.15" fill="#f6a35c" stroke="#1a1a1a" stroke-width="1.3"/><circle cx="1360.6" cy="240.0" r="5.15" fill="#f6a35c" stroke="#1a1a1a" stroke-width="1.3"/><circle cx="1370.0" cy="246.2" r="5.15" fill="#f6a35c" stroke="#1a1a1a" stroke-width="1.3"/><circle cx="1380.5" cy="246.2" r="5.15" fill="#f6a35c" stroke="#1a1a1a" stroke-width="1.3"/><circle cx="1395.3" cy="248.1" r="5.15" fill="#f6a35c" stroke="#1a1a1a" stroke-width="1.3"/><circle cx="1404.3" cy="243.9" r="5.15" fill="#f6a35c" stroke="#1a1a1a" stroke-width="1.3"/><circle cx="1386.0" cy="254.8" r="5.15" fill="#f6a35c" stroke="#1a1a1a" stroke-width="1.3"/><circle cx="1097.7" cy="274.0" r="1.95" fill="#f6a35c" stroke="#1a1a1a" stroke-width="1.3"/><circle cx="1088.3" cy="303.3" r="1.95" fill="#f6a35c" stroke="#1a1a1a" stroke-width="1.3"/><circle cx="1122.8" cy="295.5" r="1.95" fill="#f6a35c" stroke="#1a1a1a" stroke-width="1.3"/><circle cx="1188.9" cy="332.3" r="1.70" fill="#1a1a1a"/><circle cx="1195.3" cy="364.2" r="1.70" fill="#1a1a1a"/><circle cx="1081.2" cy="364.9" r="1.70" fill="#1a1a1a"/><circle cx="1117.2" cy="370.5" r="1.70" fill="#1a1a1a"/><circle cx="1592.5" cy="117.1" r="2.25" fill="#f6a35c" stroke="#1a1a1a" stroke-width="1.3"/><circle cx="1585.8" cy="158.4" r="3.05" fill="#f6a35c" stroke="#1a1a1a" stroke-width="1.3"/><circle cx="1603.8" cy="148.3" r="3.40" fill="#f6a35c" stroke="#1a1a1a" stroke-width="1.3"/><circle cx="1626.3" cy="158.4" r="3.90" fill="#f6a35c" stroke="#1a1a1a" stroke-width="1.3"/><circle cx="1668.3" cy="162.2" r="2.25" fill="#f6a35c" stroke="#1a1a1a" stroke-width="1.3"/><circle cx="1588.8" cy="185.8" r="3.05" fill="#f6a35c" stroke="#1a1a1a" stroke-width="1.3"/><circle cx="1630.8" cy="180.2" r="3.65" fill="#f6a35c" stroke="#1a1a1a" stroke-width="1.3"/><circle cx="1609.4" cy="196.0" r="2.55" fill="#f6a35c" stroke="#1a1a1a" stroke-width="1.3"/><circle cx="1667.2" cy="192.2" r="2.25" fill="#f6a35c" stroke="#1a1a1a" stroke-width="1.3"/><circle cx="1692.0" cy="279.7" r="1.70" fill="#1a1a1a"/><circle cx="1720.9" cy="261.7" r="1.70" fill="#1a1a1a"/><circle cx="1610.1" cy="323.6" r="1.70" fill="#1a1a1a"/><circle cx="1643.9" cy="327.4" r="1.70" fill="#1a1a1a"/><circle cx="1748.3" cy="321.7" r="1.70" fill="#1a1a1a"/><circle cx="1736.7" cy="354.0" r="1.95" fill="#f6a35c" stroke="#1a1a1a" stroke-width="1.3"/><circle cx="1705.9" cy="370.5" r="1.70" fill="#1a1a1a"/><circle cx="1067.6" cy="432.6" r="1.70" fill="#1a1a1a"/><circle cx="1096.9" cy="423.2" r="1.70" fill="#1a1a1a"/><circle cx="1236.6" cy="427.7" r="1.95" fill="#f6a35c" stroke="#1a1a1a" stroke-width="1.3"/><circle cx="1205.8" cy="443.8" r="1.95" fill="#f6a35c" stroke="#1a1a1a" stroke-width="1.3"/><circle cx="1232.8" cy="461.8" r="1.95" fill="#f6a35c" stroke="#1a1a1a" stroke-width="1.3"/><circle cx="1107.8" cy="481.4" r="1.70" fill="#1a1a1a"/><circle cx="1140.1" cy="468.2" r="1.70" fill="#1a1a1a"/><circle cx="1322.9" cy="458.8" r="1.95" fill="#f6a35c" stroke="#1a1a1a" stroke-width="1.3"/><circle cx="1310.9" cy="493.8" r="1.95" fill="#f6a35c" stroke="#1a1a1a" stroke-width="1.3"/><circle cx="1344.0" cy="485.9" r="1.95" fill="#f6a35c" stroke="#1a1a1a" stroke-width="1.3"/><circle cx="1475.0" cy="458.1" r="2.55" fill="#f6a35c" stroke="#1a1a1a" stroke-width="1.3"/><circle cx="1449.8" cy="467.1" r="2.55" fill="#f6a35c" stroke="#1a1a1a" stroke-width="1.3"/><circle cx="1490.0" cy="479.5" r="2.55" fill="#f6a35c" stroke="#1a1a1a" stroke-width="1.3"/><circle cx="1449.5" cy="492.6" r="2.55" fill="#f6a35c" stroke="#1a1a1a" stroke-width="1.3"/><circle cx="1475.0" cy="500.1" r="2.55" fill="#f6a35c" stroke="#1a1a1a" stroke-width="1.3"/><circle cx="1575.2" cy="392.0" r="1.70" fill="#1a1a1a"/><circle cx="1610.5" cy="407.0" r="1.95" fill="#f6a35c" stroke="#1a1a1a" stroke-width="1.3"/><circle cx="1637.6" cy="438.9" r="2.25" fill="#f6a35c" stroke="#1a1a1a" stroke-width="1.3"/><circle cx="1676.6" cy="433.3" r="1.70" fill="#1a1a1a"/><circle cx="1612.8" cy="471.2" r="1.95" fill="#f6a35c" stroke="#1a1a1a" stroke-width="1.3"/><circle cx="1584.2" cy="497.1" r="1.70" fill="#1a1a1a"/><circle cx="1749.0" cy="427.7" r="1.70" fill="#1a1a1a"/><circle cx="1744.2" cy="459.6" r="1.70" fill="#1a1a1a"/><circle cx="1677.7" cy="512.2" r="1.70" fill="#1a1a1a"/><circle cx="1712.3" cy="515.9" r="1.70" fill="#1a1a1a"/><circle cx="1125.1" cy="542.2" r="2.25" fill="#f6a35c" stroke="#1a1a1a" stroke-width="1.3"/><circle cx="1155.9" cy="545.2" r="2.25" fill="#f6a35c" stroke="#1a1a1a" stroke-width="1.3"/><circle cx="1124.0" cy="571.5" r="2.25" fill="#f6a35c" stroke="#1a1a1a" stroke-width="1.3"/><circle cx="1152.1" cy="575.2" r="2.25" fill="#f6a35c" stroke="#1a1a1a" stroke-width="1.3"/><circle cx="1240.3" cy="549.0" r="1.70" fill="#1a1a1a"/><circle cx="1225.3" cy="579.7" r="1.70" fill="#1a1a1a"/><circle cx="1301.2" cy="597.0" r="1.95" fill="#f6a35c" stroke="#1a1a1a" stroke-width="1.3"/><circle cx="1332.3" cy="586.5" r="1.95" fill="#f6a35c" stroke="#1a1a1a" stroke-width="1.3"/><circle cx="1322.2" cy="622.2" r="1.95" fill="#f6a35c" stroke="#1a1a1a" stroke-width="1.3"/><circle cx="1401.8" cy="583.5" r="1.70" fill="#1a1a1a"/><circle cx="1397.3" cy="619.5" r="1.70" fill="#1a1a1a"/><circle cx="1470.1" cy="600.4" r="1.70" fill="#1a1a1a"/><circle cx="1464.9" cy="632.7" r="1.70" fill="#1a1a1a"/><circle cx="1561.3" cy="594.7" r="2.55" fill="#f6a35c" stroke="#1a1a1a" stroke-width="1.3"/><circle cx="1585.8" cy="605.3" r="2.55" fill="#f6a35c" stroke="#1a1a1a" stroke-width="1.3"/><circle cx="1547.1" cy="617.7" r="2.55" fill="#f6a35c" stroke="#1a1a1a" stroke-width="1.3"/><circle cx="1585.8" cy="630.8" r="2.55" fill="#f6a35c" stroke="#1a1a1a" stroke-width="1.3"/><circle cx="1562.5" cy="638.3" r="2.55" fill="#f6a35c" stroke="#1a1a1a" stroke-width="1.3"/><circle cx="1654.4" cy="574.5" r="1.95" fill="#f6a35c" stroke="#1a1a1a" stroke-width="1.3"/><circle cx="1686.0" cy="583.5" r="1.95" fill="#f6a35c" stroke="#1a1a1a" stroke-width="1.3"/><circle cx="1663.5" cy="607.9" r="1.95" fill="#f6a35c" stroke="#1a1a1a" stroke-width="1.3"/><circle cx="1244.8" cy="645.8" r="1.95" fill="#f6a35c" stroke="#1a1a1a" stroke-width="1.3"/><circle cx="1214.8" cy="657.8" r="1.95" fill="#f6a35c" stroke="#1a1a1a" stroke-width="1.3"/><circle cx="1244.1" cy="675.8" r="1.95" fill="#f6a35c" stroke="#1a1a1a" stroke-width="1.3"/><circle cx="1322.2" cy="699.9" r="1.70" fill="#1a1a1a"/><circle cx="1356.0" cy="705.5" r="1.95" fill="#f6a35c" stroke="#1a1a1a" stroke-width="1.3"/><circle cx="1390.5" cy="702.1" r="1.70" fill="#1a1a1a"/><circle cx="1463.7" cy="691.6" r="1.95" fill="#f6a35c" stroke="#1a1a1a" stroke-width="1.3"/><circle cx="1497.5" cy="701.7" r="1.95" fill="#f6a35c" stroke="#1a1a1a" stroke-width="1.3"/><circle cx="1469.4" cy="720.9" r="1.95" fill="#f6a35c" stroke="#1a1a1a" stroke-width="1.3"/><circle cx="2186.2" cy="61.8" r="3.40" fill="#f6a35c" stroke="#1a1a1a" stroke-width="1.3"/><circle cx="2208.9" cy="59.7" r="3.40" fill="#f6a35c" stroke="#1a1a1a" stroke-width="1.3"/><circle cx="2223.3" cy="78.2" r="3.40" fill="#f6a35c" stroke="#1a1a1a" stroke-width="1.3"/><circle cx="2200.6" cy="81.5" r="3.40" fill="#f6a35c" stroke="#1a1a1a" stroke-width="1.3"/><circle cx="2177.2" cy="86.5" r="3.40" fill="#f6a35c" stroke="#1a1a1a" stroke-width="1.3"/><circle cx="2191.6" cy="104.2" r="3.40" fill="#f6a35c" stroke="#1a1a1a" stroke-width="1.3"/><circle cx="2215.0" cy="100.9" r="3.40" fill="#f6a35c" stroke="#1a1a1a" stroke-width="1.3"/><circle cx="2328.3" cy="43.2" r="2.25" fill="#f6a35c" stroke="#1a1a1a" stroke-width="1.3"/><circle cx="2357.1" cy="46.1" r="2.25" fill="#f6a35c" stroke="#1a1a1a" stroke-width="1.3"/><circle cx="2325.4" cy="72.9" r="2.25" fill="#f6a35c" stroke="#1a1a1a" stroke-width="1.3"/><circle cx="2353.0" cy="75.0" r="2.25" fill="#f6a35c" stroke="#1a1a1a" stroke-width="1.3"/><circle cx="2066.0" cy="123.5" r="1.70" fill="#1a1a1a"/><circle cx="2094.0" cy="110.0" r="1.70" fill="#1a1a1a"/><circle cx="2431.2" cy="72.1" r="1.70" fill="#1a1a1a"/><circle cx="2418.9" cy="104.2" r="1.70" fill="#1a1a1a"/><circle cx="2473.7" cy="117.4" r="1.70" fill="#1a1a1a"/><circle cx="2506.2" cy="116.5" r="1.95" fill="#f6a35c" stroke="#1a1a1a" stroke-width="1.3"/><circle cx="2536.2" cy="135.1" r="1.70" fill="#1a1a1a"/><circle cx="2010.0" cy="189.4" r="1.70" fill="#1a1a1a"/><circle cx="2038.0" cy="177.9" r="1.70" fill="#1a1a1a"/><circle cx="2097.7" cy="193.6" r="1.70" fill="#1a1a1a"/><circle cx="2126.5" cy="184.1" r="1.70" fill="#1a1a1a"/><circle cx="1996.8" cy="273.0" r="3.05" fill="#f6a35c" stroke="#1a1a1a" stroke-width="1.3"/><circle cx="1980.3" cy="284.1" r="3.05" fill="#f6a35c" stroke="#1a1a1a" stroke-width="1.3"/><circle cx="2015.3" cy="286.2" r="3.05" fill="#f6a35c" stroke="#1a1a1a" stroke-width="1.3"/><circle cx="1975.0" cy="306.8" r="3.05" fill="#f6a35c" stroke="#1a1a1a" stroke-width="1.3"/><circle cx="2012.4" cy="308.0" r="3.05" fill="#f6a35c" stroke="#1a1a1a" stroke-width="1.3"/><circle cx="1994.7" cy="317.9" r="3.05" fill="#f6a35c" stroke="#1a1a1a" stroke-width="1.3"/><circle cx="2100.1" cy="260.3" r="1.70" fill="#1a1a1a"/><circle cx="2104.3" cy="293.6" r="1.70" fill="#1a1a1a"/><circle cx="2317.9" cy="300.7" r="26.5" fill="#f43c24"/><circle cx="2321.8" cy="269.8" r="5.15" fill="#f6a35c" stroke="#1a1a1a" stroke-width="1.3"/><circle cx="2307.0" cy="275.2" r="5.15" fill="#f6a35c" stroke="#1a1a1a" stroke-width="1.3"/><circle cx="2334.3" cy="274.9" r="5.15" fill="#f6a35c" stroke="#1a1a1a" stroke-width="1.3"/><circle cx="2296.5" cy="279.9" r="5.15" fill="#f6a35c" stroke="#1a1a1a" stroke-width="1.3"/><circle cx="2316.3" cy="278.8" r="5.15" fill="#f6a35c" stroke="#1a1a1a" stroke-width="1.3"/><circle cx="2292.2" cy="291.2" r="5.15" fill="#f6a35c" stroke="#1a1a1a" stroke-width="1.3"/><circle cx="2306.2" cy="289.3" r="5.15" fill="#f6a35c" stroke="#1a1a1a" stroke-width="1.3"/><circle cx="2323.0" cy="289.3" r="5.15" fill="#f6a35c" stroke="#1a1a1a" stroke-width="1.3"/><circle cx="2333.9" cy="285.8" r="5.15" fill="#f6a35c" stroke="#1a1a1a" stroke-width="1.3"/><circle cx="2344.0" cy="289.7" r="5.15" fill="#f6a35c" stroke="#1a1a1a" stroke-width="1.3"/><circle cx="2298.4" cy="300.6" r="5.15" fill="#f6a35c" stroke="#1a1a1a" stroke-width="1.3"/><circle cx="2314.0" cy="299.4" r="5.15" fill="#f6a35c" stroke="#1a1a1a" stroke-width="1.3"/><circle cx="2326.1" cy="302.9" r="5.15" fill="#f6a35c" stroke="#1a1a1a" stroke-width="1.3"/><circle cx="2338.1" cy="298.2" r="5.15" fill="#f6a35c" stroke="#1a1a1a" stroke-width="1.3"/><circle cx="2288.7" cy="306.8" r="5.15" fill="#f6a35c" stroke="#1a1a1a" stroke-width="1.3"/><circle cx="2345.9" cy="305.6" r="5.15" fill="#f6a35c" stroke="#1a1a1a" stroke-width="1.3"/><circle cx="2307.4" cy="310.3" r="5.15" fill="#f6a35c" stroke="#1a1a1a" stroke-width="1.3"/><circle cx="2296.1" cy="315.0" r="5.15" fill="#f6a35c" stroke="#1a1a1a" stroke-width="1.3"/><circle cx="2324.9" cy="315.0" r="5.15" fill="#f6a35c" stroke="#1a1a1a" stroke-width="1.3"/><circle cx="2337.4" cy="312.2" r="5.15" fill="#f6a35c" stroke="#1a1a1a" stroke-width="1.3"/><circle cx="2303.1" cy="322.8" r="5.15" fill="#f6a35c" stroke="#1a1a1a" stroke-width="1.3"/><circle cx="2315.6" cy="321.6" r="5.15" fill="#f6a35c" stroke="#1a1a1a" stroke-width="1.3"/><circle cx="2337.4" cy="322.8" r="5.15" fill="#f6a35c" stroke="#1a1a1a" stroke-width="1.3"/><circle cx="2312.1" cy="330.2" r="5.15" fill="#f6a35c" stroke="#1a1a1a" stroke-width="1.3"/><circle cx="2327.2" cy="330.2" r="5.15" fill="#f6a35c" stroke="#1a1a1a" stroke-width="1.3"/><circle cx="2491.0" cy="194.8" r="1.95" fill="#f6a35c" stroke="#1a1a1a" stroke-width="1.3"/><circle cx="2526.0" cy="196.8" r="1.95" fill="#f6a35c" stroke="#1a1a1a" stroke-width="1.3"/><circle cx="2508.3" cy="225.7" r="1.95" fill="#f6a35c" stroke="#1a1a1a" stroke-width="1.3"/><circle cx="2591.8" cy="213.3" r="1.70" fill="#1a1a1a"/><circle cx="2573.7" cy="239.7" r="1.70" fill="#1a1a1a"/><circle cx="2570.4" cy="294.0" r="1.70" fill="#1a1a1a"/><circle cx="2605.0" cy="287.4" r="1.70" fill="#1a1a1a"/><circle cx="2585.7" cy="351.3" r="1.95" fill="#f6a35c" stroke="#1a1a1a" stroke-width="1.3"/><circle cx="2619.4" cy="352.9" r="1.95" fill="#f6a35c" stroke="#1a1a1a" stroke-width="1.3"/><circle cx="2602.1" cy="380.1" r="1.95" fill="#f6a35c" stroke="#1a1a1a" stroke-width="1.3"/><circle cx="2520.6" cy="381.7" r="1.95" fill="#f6a35c" stroke="#1a1a1a" stroke-width="1.3"/><circle cx="2506.2" cy="413.0" r="1.95" fill="#f6a35c" stroke="#1a1a1a" stroke-width="1.3"/><circle cx="2537.1" cy="413.9" r="1.95" fill="#f6a35c" stroke="#1a1a1a" stroke-width="1.3"/><circle cx="1946.1" cy="409.7" r="1.70" fill="#1a1a1a"/><circle cx="1975.0" cy="401.5" r="1.70" fill="#1a1a1a"/><circle cx="2045.4" cy="396.6" r="1.70" fill="#1a1a1a"/><circle cx="2112.1" cy="400.3" r="1.95" fill="#f6a35c" stroke="#1a1a1a" stroke-width="1.3"/><circle cx="2139.7" cy="427.0" r="1.70" fill="#1a1a1a"/><circle cx="2629.7" cy="432.4" r="1.70" fill="#1a1a1a"/><circle cx="2614.5" cy="462.0" r="1.70" fill="#1a1a1a"/><circle cx="1961.8" cy="490.4" r="1.70" fill="#1a1a1a"/><circle cx="1990.6" cy="471.8" r="1.95" fill="#f6a35c" stroke="#1a1a1a" stroke-width="1.3"/><circle cx="2019.4" cy="465.7" r="1.70" fill="#1a1a1a"/><circle cx="2010.0" cy="537.7" r="1.70" fill="#1a1a1a"/><circle cx="2000.1" cy="566.5" r="1.70" fill="#1a1a1a"/><circle cx="2117.0" cy="525.0" r="3.40" fill="#f6a35c" stroke="#1a1a1a" stroke-width="1.3"/><circle cx="2136.8" cy="528.3" r="3.40" fill="#f6a35c" stroke="#1a1a1a" stroke-width="1.3"/><circle cx="2101.8" cy="537.3" r="3.40" fill="#f6a35c" stroke="#1a1a1a" stroke-width="1.3"/><circle cx="2140.9" cy="547.6" r="3.40" fill="#f6a35c" stroke="#1a1a1a" stroke-width="1.3"/><circle cx="2100.6" cy="558.3" r="3.40" fill="#f6a35c" stroke="#1a1a1a" stroke-width="1.3"/><circle cx="2118.3" cy="566.1" r="3.40" fill="#f6a35c" stroke="#1a1a1a" stroke-width="1.3"/><circle cx="2137.6" cy="567.8" r="3.40" fill="#f6a35c" stroke="#1a1a1a" stroke-width="1.3"/><circle cx="2290.4" cy="534.4" r="3.05" fill="#f6a35c" stroke="#1a1a1a" stroke-width="1.3"/><circle cx="2269.8" cy="554.2" r="3.05" fill="#f6a35c" stroke="#1a1a1a" stroke-width="1.3"/><circle cx="2315.9" cy="548.0" r="3.05" fill="#f6a35c" stroke="#1a1a1a" stroke-width="1.3"/><circle cx="2293.7" cy="558.3" r="3.05" fill="#f6a35c" stroke="#1a1a1a" stroke-width="1.3"/><circle cx="2281.3" cy="578.9" r="3.05" fill="#f6a35c" stroke="#1a1a1a" stroke-width="1.3"/><circle cx="2311.0" cy="576.0" r="3.05" fill="#f6a35c" stroke="#1a1a1a" stroke-width="1.3"/><circle cx="2440.3" cy="485.0" r="1.70" fill="#1a1a1a"/><circle cx="2423.0" cy="515.9" r="1.70" fill="#1a1a1a"/><circle cx="2503.3" cy="503.5" r="1.70" fill="#1a1a1a"/><circle cx="2491.8" cy="535.7" r="1.70" fill="#1a1a1a"/><circle cx="2567.1" cy="491.2" r="1.70" fill="#1a1a1a"/><circle cx="2585.7" cy="524.1" r="1.95" fill="#f6a35c" stroke="#1a1a1a" stroke-width="1.3"/><circle cx="2576.2" cy="557.9" r="1.95" fill="#f6a35c" stroke="#1a1a1a" stroke-width="1.3"/><circle cx="2564.3" cy="590.0" r="1.70" fill="#1a1a1a"/><circle cx="2041.7" cy="629.6" r="1.70" fill="#1a1a1a"/><circle cx="2064.7" cy="651.8" r="1.70" fill="#1a1a1a"/><circle cx="2164.4" cy="663.3" r="2.25" fill="#f6a35c" stroke="#1a1a1a" stroke-width="1.3"/><circle cx="2137.6" cy="676.5" r="2.25" fill="#f6a35c" stroke="#1a1a1a" stroke-width="1.3"/><circle cx="2176.7" cy="689.7" r="2.25" fill="#f6a35c" stroke="#1a1a1a" stroke-width="1.3"/><circle cx="2152.0" cy="699.1" r="2.25" fill="#f6a35c" stroke="#1a1a1a" stroke-width="1.3"/><circle cx="2282.2" cy="683.9" r="3.40" fill="#f6a35c" stroke="#1a1a1a" stroke-width="1.3"/><circle cx="2304.4" cy="686.0" r="3.40" fill="#f6a35c" stroke="#1a1a1a" stroke-width="1.3"/><circle cx="2267.8" cy="703.3" r="3.40" fill="#f6a35c" stroke="#1a1a1a" stroke-width="1.3"/><circle cx="2290.4" cy="707.4" r="3.40" fill="#f6a35c" stroke="#1a1a1a" stroke-width="1.3"/><circle cx="2315.1" cy="706.6" r="3.40" fill="#f6a35c" stroke="#1a1a1a" stroke-width="1.3"/><circle cx="2277.6" cy="725.1" r="3.40" fill="#f6a35c" stroke="#1a1a1a" stroke-width="1.3"/><circle cx="2302.3" cy="727.2" r="3.40" fill="#f6a35c" stroke="#1a1a1a" stroke-width="1.3"/><circle cx="2404.9" cy="600.3" r="1.70" fill="#1a1a1a"/><circle cx="2398.3" cy="632.0" r="1.70" fill="#1a1a1a"/><circle cx="2478.6" cy="613.5" r="2.25" fill="#f6a35c" stroke="#1a1a1a" stroke-width="1.3"/><circle cx="2506.2" cy="620.9" r="2.25" fill="#f6a35c" stroke="#1a1a1a" stroke-width="1.3"/><circle cx="2475.3" cy="642.3" r="2.25" fill="#f6a35c" stroke="#1a1a1a" stroke-width="1.3"/><circle cx="2501.3" cy="648.9" r="2.25" fill="#f6a35c" stroke="#1a1a1a" stroke-width="1.3"/><circle cx="2406.5" cy="708.2" r="1.70" fill="#1a1a1a"/><circle cx="2436.2" cy="702.4" r="1.70" fill="#1a1a1a"/><circle cx="3188.4" cy="31.2" r="1.95" fill="#f6a35c" stroke="#1a1a1a" stroke-width="1.3"/><circle cx="3147.7" cy="44.3" r="1.95" fill="#f6a35c" stroke="#1a1a1a" stroke-width="1.3"/><circle cx="3177.9" cy="70.8" r="1.95" fill="#f6a35c" stroke="#1a1a1a" stroke-width="1.3"/><circle cx="3310.5" cy="55.6" r="2.55" fill="#f6a35c" stroke="#1a1a1a" stroke-width="1.3"/><circle cx="3341.4" cy="64.7" r="2.55" fill="#f6a35c" stroke="#1a1a1a" stroke-width="1.3"/><circle cx="3293.1" cy="82.5" r="2.55" fill="#f6a35c" stroke="#1a1a1a" stroke-width="1.3"/><circle cx="3342.5" cy="96.3" r="2.55" fill="#f6a35c" stroke="#1a1a1a" stroke-width="1.3"/><circle cx="3313.4" cy="107.5" r="2.55" fill="#f6a35c" stroke="#1a1a1a" stroke-width="1.3"/><circle cx="3027.1" cy="95.5" r="2.25" fill="#f6a35c" stroke="#1a1a1a" stroke-width="1.3"/><circle cx="3058.7" cy="109.0" r="2.25" fill="#f6a35c" stroke="#1a1a1a" stroke-width="1.3"/><circle cx="3010.0" cy="127.2" r="2.25" fill="#f6a35c" stroke="#1a1a1a" stroke-width="1.3"/><circle cx="3042.7" cy="142.4" r="2.25" fill="#f6a35c" stroke="#1a1a1a" stroke-width="1.3"/><circle cx="3447.1" cy="94.1" r="1.70" fill="#1a1a1a"/><circle cx="3436.2" cy="132.6" r="1.70" fill="#1a1a1a"/><circle cx="2935.6" cy="196.2" r="1.70" fill="#1a1a1a"/><circle cx="2970.4" cy="215.1" r="1.70" fill="#1a1a1a"/><circle cx="3141.2" cy="162.8" r="1.70" fill="#1a1a1a"/><circle cx="3116.1" cy="197.3" r="1.70" fill="#1a1a1a"/><circle cx="3227.3" cy="168.9" r="1.70" fill="#1a1a1a"/><circle cx="3256.0" cy="199.8" r="1.70" fill="#1a1a1a"/><circle cx="3389.3" cy="210.0" r="1.70" fill="#1a1a1a"/><circle cx="3430.0" cy="222.3" r="1.70" fill="#1a1a1a"/><circle cx="3509.9" cy="164.6" r="1.70" fill="#1a1a1a"/><circle cx="3520.5" cy="202.4" r="1.70" fill="#1a1a1a"/><circle cx="2922.5" cy="276.8" r="1.70" fill="#1a1a1a"/><circle cx="2890.9" cy="300.8" r="1.70" fill="#1a1a1a"/><circle cx="3042.0" cy="276.5" r="1.70" fill="#1a1a1a"/><circle cx="3013.3" cy="305.2" r="1.70" fill="#1a1a1a"/><circle cx="3171.7" cy="268.8" r="1.70" fill="#1a1a1a"/><circle cx="3137.2" cy="292.4" r="1.70" fill="#1a1a1a"/><circle cx="3562.2" cy="288.8" r="2.25" fill="#f6a35c" stroke="#1a1a1a" stroke-width="1.3"/><circle cx="3530.3" cy="303.3" r="2.25" fill="#f6a35c" stroke="#1a1a1a" stroke-width="1.3"/><circle cx="3575.7" cy="324.1" r="2.25" fill="#f6a35c" stroke="#1a1a1a" stroke-width="1.3"/><circle cx="3544.1" cy="339.0" r="2.25" fill="#f6a35c" stroke="#1a1a1a" stroke-width="1.3"/><circle cx="2919.9" cy="395.6" r="2.55" fill="#f6a35c" stroke="#1a1a1a" stroke-width="1.3"/><circle cx="2949.7" cy="401.8" r="2.55" fill="#f6a35c" stroke="#1a1a1a" stroke-width="1.3"/><circle cx="2900.7" cy="421.1" r="2.55" fill="#f6a35c" stroke="#1a1a1a" stroke-width="1.3"/><circle cx="2952.6" cy="435.2" r="2.55" fill="#f6a35c" stroke="#1a1a1a" stroke-width="1.3"/><circle cx="2922.5" cy="444.7" r="2.55" fill="#f6a35c" stroke="#1a1a1a" stroke-width="1.3"/><circle cx="3065.6" cy="400.7" r="1.95" fill="#f6a35c" stroke="#1a1a1a" stroke-width="1.3"/><circle cx="3102.3" cy="422.1" r="1.95" fill="#f6a35c" stroke="#1a1a1a" stroke-width="1.3"/><circle cx="3066.4" cy="445.8" r="1.95" fill="#f6a35c" stroke="#1a1a1a" stroke-width="1.3"/><circle cx="3345.0" cy="402.5" r="4.65" fill="#f6a35c" stroke="#1a1a1a" stroke-width="1.3"/><circle cx="3327.9" cy="406.5" r="4.65" fill="#f6a35c" stroke="#1a1a1a" stroke-width="1.3"/><circle cx="3361.7" cy="410.5" r="4.65" fill="#f6a35c" stroke="#1a1a1a" stroke-width="1.3"/><circle cx="3311.2" cy="413.8" r="4.65" fill="#f6a35c" stroke="#1a1a1a" stroke-width="1.3"/><circle cx="3346.8" cy="420.7" r="4.65" fill="#f6a35c" stroke="#1a1a1a" stroke-width="1.3"/><circle cx="3373.0" cy="424.3" r="4.65" fill="#f6a35c" stroke="#1a1a1a" stroke-width="1.3"/><circle cx="3326.1" cy="426.1" r="4.65" fill="#f6a35c" stroke="#1a1a1a" stroke-width="1.3"/><circle cx="3306.1" cy="432.0" r="4.65" fill="#f6a35c" stroke="#1a1a1a" stroke-width="1.3"/><circle cx="3358.8" cy="435.2" r="4.65" fill="#f6a35c" stroke="#1a1a1a" stroke-width="1.3"/><circle cx="3323.2" cy="445.4" r="4.65" fill="#f6a35c" stroke="#1a1a1a" stroke-width="1.3"/><circle cx="3342.1" cy="446.1" r="4.65" fill="#f6a35c" stroke="#1a1a1a" stroke-width="1.3"/><circle cx="3374.8" cy="444.7" r="4.65" fill="#f6a35c" stroke="#1a1a1a" stroke-width="1.3"/><circle cx="3307.9" cy="452.3" r="4.65" fill="#f6a35c" stroke="#1a1a1a" stroke-width="1.3"/><circle cx="3362.4" cy="456.3" r="4.65" fill="#f6a35c" stroke="#1a1a1a" stroke-width="1.3"/><circle cx="3321.4" cy="466.5" r="4.65" fill="#f6a35c" stroke="#1a1a1a" stroke-width="1.3"/><circle cx="3337.4" cy="467.2" r="4.65" fill="#f6a35c" stroke="#1a1a1a" stroke-width="1.3"/><circle cx="3353.7" cy="468.6" r="4.65" fill="#f6a35c" stroke="#1a1a1a" stroke-width="1.3"/><circle cx="3570.2" cy="443.6" r="1.70" fill="#1a1a1a"/><circle cx="3560.4" cy="483.5" r="1.70" fill="#1a1a1a"/><circle cx="2957.4" cy="534.8" r="1.70" fill="#1a1a1a"/><circle cx="2936.3" cy="566.7" r="1.70" fill="#1a1a1a"/><circle cx="3065.3" cy="586.0" r="3.40" fill="#f6a35c" stroke="#1a1a1a" stroke-width="1.3"/><circle cx="3095.0" cy="587.8" r="3.40" fill="#f6a35c" stroke="#1a1a1a" stroke-width="1.3"/><circle cx="3047.8" cy="606.0" r="3.40" fill="#f6a35c" stroke="#1a1a1a" stroke-width="1.3"/><circle cx="3079.8" cy="614.3" r="3.40" fill="#f6a35c" stroke="#1a1a1a" stroke-width="1.3"/><circle cx="3106.0" cy="616.9" r="3.40" fill="#f6a35c" stroke="#1a1a1a" stroke-width="1.3"/><circle cx="3056.2" cy="634.3" r="3.40" fill="#f6a35c" stroke="#1a1a1a" stroke-width="1.3"/><circle cx="3085.2" cy="643.4" r="3.40" fill="#f6a35c" stroke="#1a1a1a" stroke-width="1.3"/><circle cx="3505.9" cy="578.0" r="1.95" fill="#f6a35c" stroke="#1a1a1a" stroke-width="1.3"/><circle cx="3464.1" cy="598.3" r="1.95" fill="#f6a35c" stroke="#1a1a1a" stroke-width="1.3"/><circle cx="3495.0" cy="619.4" r="1.95" fill="#f6a35c" stroke="#1a1a1a" stroke-width="1.3"/><circle cx="3220.8" cy="663.4" r="2.25" fill="#f6a35c" stroke="#1a1a1a" stroke-width="1.3"/><circle cx="3196.8" cy="693.2" r="2.25" fill="#f6a35c" stroke="#1a1a1a" stroke-width="1.3"/><circle cx="3247.6" cy="687.7" r="2.25" fill="#f6a35c" stroke="#1a1a1a" stroke-width="1.3"/><circle cx="3224.4" cy="716.0" r="2.25" fill="#f6a35c" stroke="#1a1a1a" stroke-width="1.3"/><circle cx="3342.1" cy="659.7" r="1.95" fill="#f6a35c" stroke="#1a1a1a" stroke-width="1.3"/><circle cx="3381.3" cy="675.4" r="1.95" fill="#f6a35c" stroke="#1a1a1a" stroke-width="1.3"/><circle cx="3346.8" cy="700.1" r="1.95" fill="#f6a35c" stroke="#1a1a1a" stroke-width="1.3"/><circle cx="1347.3" cy="928.1" r="4.65" fill="#0e6836" stroke="#1a1a1a" stroke-width="1.3"/><circle cx="1362.4" cy="927.7" r="4.65" fill="#0e6836" stroke="#1a1a1a" stroke-width="1.3"/><circle cx="1336.1" cy="939.0" r="4.65" fill="#0e6836" stroke="#1a1a1a" stroke-width="1.3"/><circle cx="1356.0" cy="941.2" r="4.65" fill="#0e6836" stroke="#1a1a1a" stroke-width="1.3"/><circle cx="1371.7" cy="937.1" r="4.65" fill="#0e6836" stroke="#1a1a1a" stroke-width="1.3"/><circle cx="1380.0" cy="946.9" r="4.65" fill="#0e6836" stroke="#1a1a1a" stroke-width="1.3"/><circle cx="1330.4" cy="955.9" r="4.65" fill="#0e6836" stroke="#1a1a1a" stroke-width="1.3"/><circle cx="1342.5" cy="951.4" r="4.65" fill="#0e6836" stroke="#1a1a1a" stroke-width="1.3"/><circle cx="1357.5" cy="958.1" r="4.65" fill="#0e6836" stroke="#1a1a1a" stroke-width="1.3"/><circle cx="1369.9" cy="958.1" r="4.65" fill="#0e6836" stroke="#1a1a1a" stroke-width="1.3"/><circle cx="1382.3" cy="961.5" r="4.65" fill="#0e6836" stroke="#1a1a1a" stroke-width="1.3"/><circle cx="1335.3" cy="970.1" r="4.65" fill="#0e6836" stroke="#1a1a1a" stroke-width="1.3"/><circle cx="1348.5" cy="970.1" r="4.65" fill="#0e6836" stroke="#1a1a1a" stroke-width="1.3"/><circle cx="1372.5" cy="973.9" r="4.65" fill="#0e6836" stroke="#1a1a1a" stroke-width="1.3"/><circle cx="1347.3" cy="982.2" r="4.65" fill="#0e6836" stroke="#1a1a1a" stroke-width="1.3"/><circle cx="1361.6" cy="980.3" r="4.65" fill="#0e6836" stroke="#1a1a1a" stroke-width="1.3"/><circle cx="1500.5" cy="930.0" r="1.70" fill="#1a1a1a"/><circle cx="1524.5" cy="912.7" r="1.70" fill="#1a1a1a"/><circle cx="1186.7" cy="959.6" r="2.25" fill="#0e6836" stroke="#1a1a1a" stroke-width="1.3"/><circle cx="1208.4" cy="975.8" r="2.25" fill="#0e6836" stroke="#1a1a1a" stroke-width="1.3"/><circle cx="1173.5" cy="984.0" r="2.25" fill="#0e6836" stroke="#1a1a1a" stroke-width="1.3"/><circle cx="1195.3" cy="1001.3" r="2.25" fill="#0e6836" stroke="#1a1a1a" stroke-width="1.3"/><circle cx="1552.7" cy="965.3" r="1.95" fill="#0e6836" stroke="#1a1a1a" stroke-width="1.3"/><circle cx="1583.1" cy="966.4" r="1.95" fill="#0e6836" stroke="#1a1a1a" stroke-width="1.3"/><circle cx="1565.1" cy="993.4" r="1.95" fill="#0e6836" stroke="#1a1a1a" stroke-width="1.3"/><circle cx="1109.7" cy="1034.0" r="1.70" fill="#1a1a1a"/><circle cx="1092.0" cy="1061.0" r="1.70" fill="#1a1a1a"/><circle cx="1159.6" cy="1076.4" r="1.95" fill="#0e6836" stroke="#1a1a1a" stroke-width="1.3"/><circle cx="1188.5" cy="1087.3" r="1.95" fill="#0e6836" stroke="#1a1a1a" stroke-width="1.3"/><circle cx="1166.4" cy="1110.2" r="1.95" fill="#0e6836" stroke="#1a1a1a" stroke-width="1.3"/><circle cx="1252.4" cy="1092.2" r="1.70" fill="#1a1a1a"/><circle cx="1252.4" cy="1127.1" r="1.70" fill="#1a1a1a"/><circle cx="1505.8" cy="1037.7" r="1.70" fill="#1a1a1a"/><circle cx="1517.0" cy="1068.9" r="1.70" fill="#1a1a1a"/><circle cx="1639.0" cy="1058.4" r="3.65" fill="#0e6836" stroke="#1a1a1a" stroke-width="1.3"/><circle cx="1619.5" cy="1064.7" r="3.65" fill="#0e6836" stroke="#1a1a1a" stroke-width="1.3"/><circle cx="1652.6" cy="1076.0" r="3.65" fill="#0e6836" stroke="#1a1a1a" stroke-width="1.3"/><circle cx="1621.4" cy="1085.4" r="3.65" fill="#0e6836" stroke="#1a1a1a" stroke-width="1.3"/><circle cx="1642.0" cy="1088.4" r="3.65" fill="#0e6836" stroke="#1a1a1a" stroke-width="1.3"/><circle cx="1608.3" cy="1091.0" r="3.65" fill="#0e6836" stroke="#1a1a1a" stroke-width="1.3"/><circle cx="1648.8" cy="1104.2" r="3.65" fill="#0e6836" stroke="#1a1a1a" stroke-width="1.3"/><circle cx="1627.0" cy="1109.0" r="3.65" fill="#0e6836" stroke="#1a1a1a" stroke-width="1.3"/><circle cx="1090.2" cy="1122.9" r="1.70" fill="#1a1a1a"/><circle cx="1110.8" cy="1140.2" r="1.70" fill="#1a1a1a"/><circle cx="1044.0" cy="1168.4" r="1.70" fill="#1a1a1a"/><circle cx="1065.8" cy="1187.9" r="1.70" fill="#1a1a1a"/><circle cx="1404.8" cy="1172.1" r="4.65" fill="#0e6836" stroke="#1a1a1a" stroke-width="1.3"/><circle cx="1418.7" cy="1174.0" r="4.65" fill="#0e6836" stroke="#1a1a1a" stroke-width="1.3"/><circle cx="1389.4" cy="1180.4" r="4.65" fill="#0e6836" stroke="#1a1a1a" stroke-width="1.3"/><circle cx="1429.9" cy="1182.3" r="4.65" fill="#0e6836" stroke="#1a1a1a" stroke-width="1.3"/><circle cx="1398.0" cy="1189.8" r="4.65" fill="#0e6836" stroke="#1a1a1a" stroke-width="1.3"/><circle cx="1413.0" cy="1191.6" r="4.65" fill="#0e6836" stroke="#1a1a1a" stroke-width="1.3"/><circle cx="1385.6" cy="1199.9" r="4.65" fill="#0e6836" stroke="#1a1a1a" stroke-width="1.3"/><circle cx="1436.7" cy="1198.0" r="4.65" fill="#0e6836" stroke="#1a1a1a" stroke-width="1.3"/><circle cx="1423.5" cy="1203.7" r="4.65" fill="#0e6836" stroke="#1a1a1a" stroke-width="1.3"/><circle cx="1404.8" cy="1208.5" r="4.65" fill="#0e6836" stroke="#1a1a1a" stroke-width="1.3"/><circle cx="1390.5" cy="1213.4" r="4.65" fill="#0e6836" stroke="#1a1a1a" stroke-width="1.3"/><circle cx="1429.2" cy="1216.0" r="4.65" fill="#0e6836" stroke="#1a1a1a" stroke-width="1.3"/><circle cx="1402.5" cy="1224.3" r="4.65" fill="#0e6836" stroke="#1a1a1a" stroke-width="1.3"/><circle cx="1416.1" cy="1224.3" r="4.65" fill="#0e6836" stroke="#1a1a1a" stroke-width="1.3"/><circle cx="1216.7" cy="1199.9" r="2.25" fill="#0e6836" stroke="#1a1a1a" stroke-width="1.3"/><circle cx="1190.4" cy="1208.5" r="2.25" fill="#0e6836" stroke="#1a1a1a" stroke-width="1.3"/><circle cx="1222.3" cy="1229.2" r="2.25" fill="#0e6836" stroke="#1a1a1a" stroke-width="1.3"/><circle cx="1199.0" cy="1238.6" r="2.25" fill="#0e6836" stroke="#1a1a1a" stroke-width="1.3"/><circle cx="1109.7" cy="1219.8" r="1.70" fill="#1a1a1a"/><circle cx="1131.5" cy="1241.6" r="1.70" fill="#1a1a1a"/><circle cx="1716.0" cy="1186.8" r="1.70" fill="#1a1a1a"/><circle cx="1722.8" cy="1220.5" r="1.70" fill="#1a1a1a"/><circle cx="1608.3" cy="1230.3" r="3.65" fill="#0e6836" stroke="#1a1a1a" stroke-width="1.3"/><circle cx="1627.0" cy="1228.4" r="3.65" fill="#0e6836" stroke="#1a1a1a" stroke-width="1.3"/><circle cx="1596.3" cy="1245.3" r="3.65" fill="#0e6836" stroke="#1a1a1a" stroke-width="1.3"/><circle cx="1639.1" cy="1246.8" r="3.65" fill="#0e6836" stroke="#1a1a1a" stroke-width="1.3"/><circle cx="1620.3" cy="1251.7" r="3.65" fill="#0e6836" stroke="#1a1a1a" stroke-width="1.3"/><circle cx="1597.8" cy="1266.0" r="3.65" fill="#0e6836" stroke="#1a1a1a" stroke-width="1.3"/><circle cx="1633.4" cy="1269.4" r="3.65" fill="#0e6836" stroke="#1a1a1a" stroke-width="1.3"/><circle cx="1614.6" cy="1275.0" r="3.65" fill="#0e6836" stroke="#1a1a1a" stroke-width="1.3"/><circle cx="1040.6" cy="1259.5" r="1.70" fill="#1a1a1a"/><circle cx="1045.1" cy="1252.8" r="1.70" fill="#1a1a1a"/><circle cx="1112.0" cy="1322.8" r="3.05" fill="#0e6836" stroke="#1a1a1a" stroke-width="1.3"/><circle cx="1131.5" cy="1329.5" r="3.05" fill="#0e6836" stroke="#1a1a1a" stroke-width="1.3"/><circle cx="1096.6" cy="1338.9" r="3.05" fill="#0e6836" stroke="#1a1a1a" stroke-width="1.3"/><circle cx="1137.9" cy="1350.2" r="3.05" fill="#0e6836" stroke="#1a1a1a" stroke-width="1.3"/><circle cx="1102.2" cy="1359.6" r="3.05" fill="#0e6836" stroke="#1a1a1a" stroke-width="1.3"/><circle cx="1122.8" cy="1366.7" r="3.05" fill="#0e6836" stroke="#1a1a1a" stroke-width="1.3"/><circle cx="1720.2" cy="1298.4" r="1.70" fill="#1a1a1a"/><circle cx="1709.6" cy="1328.4" r="1.70" fill="#1a1a1a"/><circle cx="1543.3" cy="1362.2" r="1.95" fill="#0e6836" stroke="#1a1a1a" stroke-width="1.3"/><circle cx="1569.6" cy="1378.3" r="1.95" fill="#0e6836" stroke="#1a1a1a" stroke-width="1.3"/><circle cx="1543.3" cy="1398.6" r="1.95" fill="#0e6836" stroke="#1a1a1a" stroke-width="1.3"/><circle cx="1667.6" cy="1387.7" r="2.25" fill="#0e6836" stroke="#1a1a1a" stroke-width="1.3"/><circle cx="1690.9" cy="1402.7" r="2.25" fill="#0e6836" stroke="#1a1a1a" stroke-width="1.3"/><circle cx="1655.2" cy="1412.9" r="2.25" fill="#0e6836" stroke="#1a1a1a" stroke-width="1.3"/><circle cx="1678.5" cy="1430.5" r="2.25" fill="#0e6836" stroke="#1a1a1a" stroke-width="1.3"/><circle cx="1070.6" cy="1426.0" r="1.70" fill="#1a1a1a"/><circle cx="1096.9" cy="1443.7" r="1.70" fill="#1a1a1a"/><circle cx="1129.6" cy="1485.0" r="1.70" fill="#1a1a1a"/><circle cx="1131.8" cy="1517.3" r="1.70" fill="#1a1a1a"/><circle cx="1333.4" cy="1504.7" r="26.4" fill="#f43c24"/><circle cx="1336.6" cy="1504.5" r="5.15" fill="#0e6836" stroke="#1a1a1a" stroke-width="1.3"/><circle cx="1328.4" cy="1508.7" r="5.15" fill="#0e6836" stroke="#1a1a1a" stroke-width="1.3"/><circle cx="1333.7" cy="1496.5" r="5.15" fill="#0e6836" stroke="#1a1a1a" stroke-width="1.3"/><circle cx="1338.8" cy="1512.1" r="5.15" fill="#0e6836" stroke="#1a1a1a" stroke-width="1.3"/><circle cx="1322.3" cy="1502.6" r="5.15" fill="#0e6836" stroke="#1a1a1a" stroke-width="1.3"/><circle cx="1343.1" cy="1498.1" r="5.15" fill="#0e6836" stroke="#1a1a1a" stroke-width="1.3"/><circle cx="1329.6" cy="1517.1" r="5.15" fill="#0e6836" stroke="#1a1a1a" stroke-width="1.3"/><circle cx="1326.5" cy="1492.1" r="5.15" fill="#0e6836" stroke="#1a1a1a" stroke-width="1.3"/><circle cx="1347.0" cy="1509.6" r="5.15" fill="#0e6836" stroke="#1a1a1a" stroke-width="1.3"/><circle cx="1318.4" cy="1510.5" r="5.15" fill="#0e6836" stroke="#1a1a1a" stroke-width="1.3"/><circle cx="1340.0" cy="1489.5" r="5.15" fill="#0e6836" stroke="#1a1a1a" stroke-width="1.3"/><circle cx="1338.2" cy="1521.0" r="5.15" fill="#0e6836" stroke="#1a1a1a" stroke-width="1.3"/><circle cx="1317.4" cy="1495.4" r="5.15" fill="#0e6836" stroke="#1a1a1a" stroke-width="1.3"/><circle cx="1351.3" cy="1500.5" r="5.15" fill="#0e6836" stroke="#1a1a1a" stroke-width="1.3"/><circle cx="1321.8" cy="1520.4" r="5.15" fill="#0e6836" stroke="#1a1a1a" stroke-width="1.3"/><circle cx="1330.4" cy="1484.5" r="5.15" fill="#0e6836" stroke="#1a1a1a" stroke-width="1.3"/><circle cx="1348.9" cy="1517.9" r="5.15" fill="#0e6836" stroke="#1a1a1a" stroke-width="1.3"/><circle cx="1311.6" cy="1505.4" r="5.15" fill="#0e6836" stroke="#1a1a1a" stroke-width="1.3"/><circle cx="1348.6" cy="1489.0" r="5.15" fill="#0e6836" stroke="#1a1a1a" stroke-width="1.3"/><circle cx="1332.0" cy="1527.0" r="5.15" fill="#0e6836" stroke="#1a1a1a" stroke-width="1.3"/><circle cx="1318.2" cy="1486.7" r="5.15" fill="#0e6836" stroke="#1a1a1a" stroke-width="1.3"/><circle cx="1356.5" cy="1507.7" r="5.15" fill="#0e6836" stroke="#1a1a1a" stroke-width="1.3"/><circle cx="1313.1" cy="1518.3" r="5.15" fill="#0e6836" stroke="#1a1a1a" stroke-width="1.3"/><circle cx="1338.4" cy="1480.3" r="5.15" fill="#0e6836" stroke="#1a1a1a" stroke-width="1.3"/><circle cx="1345.6" cy="1526.4" r="5.15" fill="#0e6836" stroke="#1a1a1a" stroke-width="1.3"/><circle cx="1308.4" cy="1496.7" r="5.15" fill="#0e6836" stroke="#1a1a1a" stroke-width="1.3"/><circle cx="1356.9" cy="1493.5" r="5.15" fill="#0e6836" stroke="#1a1a1a" stroke-width="1.3"/><circle cx="1322.7" cy="1529.2" r="5.15" fill="#0e6836" stroke="#1a1a1a" stroke-width="1.3"/><circle cx="1323.8" cy="1478.8" r="5.15" fill="#0e6836" stroke="#1a1a1a" stroke-width="1.3"/><circle cx="1357.6" cy="1517.4" r="5.15" fill="#0e6836" stroke="#1a1a1a" stroke-width="1.3"/><circle cx="1305.7" cy="1511.7" r="5.15" fill="#0e6836" stroke="#1a1a1a" stroke-width="1.3"/><circle cx="1348.5" cy="1480.4" r="5.15" fill="#0e6836" stroke="#1a1a1a" stroke-width="1.3"/><circle cx="1337.9" cy="1533.2" r="5.15" fill="#0e6836" stroke="#1a1a1a" stroke-width="1.3"/><circle cx="1309.6" cy="1486.4" r="5.15" fill="#0e6836" stroke="#1a1a1a" stroke-width="1.3"/><circle cx="1362.9" cy="1502.0" r="5.15" fill="#0e6836" stroke="#1a1a1a" stroke-width="1.3"/><circle cx="1312.3" cy="1526.8" r="5.15" fill="#0e6836" stroke="#1a1a1a" stroke-width="1.3"/><circle cx="1333.2" cy="1473.6" r="5.15" fill="#0e6836" stroke="#1a1a1a" stroke-width="1.3"/><circle cx="1354.0" cy="1527.7" r="5.15" fill="#0e6836" stroke="#1a1a1a" stroke-width="1.3"/><circle cx="1603.4" cy="1471.0" r="2.55" fill="#0e6836" stroke="#1a1a1a" stroke-width="1.3"/><circle cx="1582.0" cy="1478.6" r="2.55" fill="#0e6836" stroke="#1a1a1a" stroke-width="1.3"/><circle cx="1617.7" cy="1491.7" r="2.55" fill="#0e6836" stroke="#1a1a1a" stroke-width="1.3"/><circle cx="1583.8" cy="1504.9" r="2.55" fill="#0e6836" stroke="#1a1a1a" stroke-width="1.3"/><circle cx="1605.2" cy="1512.4" r="2.55" fill="#0e6836" stroke="#1a1a1a" stroke-width="1.3"/><circle cx="1531.3" cy="1562.3" r="1.95" fill="#0e6836" stroke="#1a1a1a" stroke-width="1.3"/><circle cx="1555.0" cy="1584.4" r="1.95" fill="#0e6836" stroke="#1a1a1a" stroke-width="1.3"/><circle cx="1524.9" cy="1596.1" r="1.95" fill="#0e6836" stroke="#1a1a1a" stroke-width="1.3"/><circle cx="2060.6" cy="971.6" r="1.70" fill="#1a1a1a"/><circle cx="2088.2" cy="946.2" r="1.70" fill="#1a1a1a"/><circle cx="2163.2" cy="908.1" r="2.25" fill="#0e6836" stroke="#1a1a1a" stroke-width="1.3"/><circle cx="2195.4" cy="901.7" r="2.25" fill="#0e6836" stroke="#1a1a1a" stroke-width="1.3"/><circle cx="2168.7" cy="942.4" r="2.25" fill="#0e6836" stroke="#1a1a1a" stroke-width="1.3"/><circle cx="2202.6" cy="934.8" r="2.25" fill="#0e6836" stroke="#1a1a1a" stroke-width="1.3"/><circle cx="2350.9" cy="883.1" r="3.90" fill="#0e6836" stroke="#1a1a1a" stroke-width="1.3"/><circle cx="2374.3" cy="886.9" r="3.90" fill="#0e6836" stroke="#1a1a1a" stroke-width="1.3"/><circle cx="2331.0" cy="901.7" r="3.90" fill="#0e6836" stroke="#1a1a1a" stroke-width="1.3"/><circle cx="2351.8" cy="907.2" r="3.90" fill="#0e6836" stroke="#1a1a1a" stroke-width="1.3"/><circle cx="2392.1" cy="906.0" r="3.90" fill="#0e6836" stroke="#1a1a1a" stroke-width="1.3"/><circle cx="2373.0" cy="914.4" r="3.90" fill="#0e6836" stroke="#1a1a1a" stroke-width="1.3"/><circle cx="2336.9" cy="925.4" r="3.90" fill="#0e6836" stroke="#1a1a1a" stroke-width="1.3"/><circle cx="2355.2" cy="938.2" r="3.90" fill="#0e6836" stroke="#1a1a1a" stroke-width="1.3"/><circle cx="2379.3" cy="934.8" r="3.90" fill="#0e6836" stroke="#1a1a1a" stroke-width="1.3"/><circle cx="2508.6" cy="952.6" r="2.55" fill="#0e6836" stroke="#1a1a1a" stroke-width="1.3"/><circle cx="2537.4" cy="949.6" r="2.55" fill="#0e6836" stroke="#1a1a1a" stroke-width="1.3"/><circle cx="2502.2" cy="982.7" r="2.55" fill="#0e6836" stroke="#1a1a1a" stroke-width="1.3"/><circle cx="2551.4" cy="972.9" r="2.55" fill="#0e6836" stroke="#1a1a1a" stroke-width="1.3"/><circle cx="2529.8" cy="993.2" r="2.55" fill="#0e6836" stroke="#1a1a1a" stroke-width="1.3"/><circle cx="2007.7" cy="1031.4" r="1.70" fill="#1a1a1a"/><circle cx="1997.1" cy="1066.1" r="1.70" fill="#1a1a1a"/><circle cx="2088.2" cy="1038.6" r="1.70" fill="#1a1a1a"/><circle cx="2073.4" cy="1073.3" r="1.70" fill="#1a1a1a"/><circle cx="2184.4" cy="1054.3" r="2.25" fill="#0e6836" stroke="#1a1a1a" stroke-width="1.3"/><circle cx="2213.2" cy="1071.7" r="2.25" fill="#0e6836" stroke="#1a1a1a" stroke-width="1.3"/><circle cx="2167.9" cy="1083.1" r="2.25" fill="#0e6836" stroke="#1a1a1a" stroke-width="1.3"/><circle cx="2197.5" cy="1103.0" r="2.25" fill="#0e6836" stroke="#1a1a1a" stroke-width="1.3"/><circle cx="2302.2" cy="1043.7" r="1.95" fill="#0e6836" stroke="#1a1a1a" stroke-width="1.3"/><circle cx="2340.3" cy="1057.7" r="1.95" fill="#0e6836" stroke="#1a1a1a" stroke-width="1.3"/><circle cx="2308.6" cy="1082.2" r="1.95" fill="#0e6836" stroke="#1a1a1a" stroke-width="1.3"/><circle cx="2593.4" cy="1097.1" r="3.90" fill="#0e6836" stroke="#1a1a1a" stroke-width="1.3"/><circle cx="2615.0" cy="1097.1" r="3.90" fill="#0e6836" stroke="#1a1a1a" stroke-width="1.3"/><circle cx="2577.7" cy="1116.1" r="3.90" fill="#0e6836" stroke="#1a1a1a" stroke-width="1.3"/><circle cx="2630.7" cy="1111.5" r="3.90" fill="#0e6836" stroke="#1a1a1a" stroke-width="1.3"/><circle cx="2603.1" cy="1120.4" r="3.90" fill="#0e6836" stroke="#1a1a1a" stroke-width="1.3"/><circle cx="2583.2" cy="1139.5" r="3.90" fill="#0e6836" stroke="#1a1a1a" stroke-width="1.3"/><circle cx="2617.9" cy="1145.4" r="3.90" fill="#0e6836" stroke="#1a1a1a" stroke-width="1.3"/><circle cx="2633.6" cy="1131.0" r="3.90" fill="#0e6836" stroke="#1a1a1a" stroke-width="1.3"/><circle cx="2600.2" cy="1153.0" r="3.90" fill="#0e6836" stroke="#1a1a1a" stroke-width="1.3"/><circle cx="1977.2" cy="1177.6" r="3.05" fill="#0e6836" stroke="#1a1a1a" stroke-width="1.3"/><circle cx="2002.2" cy="1179.3" r="3.05" fill="#0e6836" stroke="#1a1a1a" stroke-width="1.3"/><circle cx="1964.4" cy="1200.5" r="3.05" fill="#0e6836" stroke="#1a1a1a" stroke-width="1.3"/><circle cx="2012.8" cy="1203.0" r="3.05" fill="#0e6836" stroke="#1a1a1a" stroke-width="1.3"/><circle cx="1973.8" cy="1223.0" r="3.05" fill="#0e6836" stroke="#1a1a1a" stroke-width="1.3"/><circle cx="1999.2" cy="1226.3" r="3.05" fill="#0e6836" stroke="#1a1a1a" stroke-width="1.3"/><circle cx="2129.3" cy="1180.6" r="2.25" fill="#0e6836" stroke="#1a1a1a" stroke-width="1.3"/><circle cx="2103.0" cy="1201.8" r="2.25" fill="#0e6836" stroke="#1a1a1a" stroke-width="1.3"/><circle cx="2150.9" cy="1206.0" r="2.25" fill="#0e6836" stroke="#1a1a1a" stroke-width="1.3"/><circle cx="2124.2" cy="1227.2" r="2.25" fill="#0e6836" stroke="#1a1a1a" stroke-width="1.3"/><circle cx="2407.3" cy="1168.7" r="3.65" fill="#0e6836" stroke="#1a1a1a" stroke-width="1.3"/><circle cx="2384.8" cy="1176.3" r="3.65" fill="#0e6836" stroke="#1a1a1a" stroke-width="1.3"/><circle cx="2429.3" cy="1177.6" r="3.65" fill="#0e6836" stroke="#1a1a1a" stroke-width="1.3"/><circle cx="2378.5" cy="1200.5" r="3.65" fill="#0e6836" stroke="#1a1a1a" stroke-width="1.3"/><circle cx="2406.9" cy="1196.7" r="3.65" fill="#0e6836" stroke="#1a1a1a" stroke-width="1.3"/><circle cx="2434.4" cy="1203.0" r="3.65" fill="#0e6836" stroke="#1a1a1a" stroke-width="1.3"/><circle cx="2392.1" cy="1221.7" r="3.65" fill="#0e6836" stroke="#1a1a1a" stroke-width="1.3"/><circle cx="2417.5" cy="1222.9" r="3.65" fill="#0e6836" stroke="#1a1a1a" stroke-width="1.3"/><circle cx="2625.1" cy="1283.5" r="3.05" fill="#0e6836" stroke="#1a1a1a" stroke-width="1.3"/><circle cx="2602.2" cy="1297.9" r="3.05" fill="#0e6836" stroke="#1a1a1a" stroke-width="1.3"/><circle cx="2649.7" cy="1293.7" r="3.05" fill="#0e6836" stroke="#1a1a1a" stroke-width="1.3"/><circle cx="2608.2" cy="1323.4" r="3.05" fill="#0e6836" stroke="#1a1a1a" stroke-width="1.3"/><circle cx="2651.8" cy="1319.1" r="3.05" fill="#0e6836" stroke="#1a1a1a" stroke-width="1.3"/><circle cx="2630.6" cy="1334.4" r="3.05" fill="#0e6836" stroke="#1a1a1a" stroke-width="1.3"/><circle cx="1972.9" cy="1351.6" r="1.95" fill="#0e6836" stroke="#1a1a1a" stroke-width="1.3"/><circle cx="2007.7" cy="1352.1" r="1.95" fill="#0e6836" stroke="#1a1a1a" stroke-width="1.3"/><circle cx="1994.1" cy="1388.1" r="1.95" fill="#0e6836" stroke="#1a1a1a" stroke-width="1.3"/><circle cx="2073.8" cy="1349.9" r="1.70" fill="#1a1a1a"/><circle cx="2073.8" cy="1391.0" r="1.70" fill="#1a1a1a"/><circle cx="2216.6" cy="1328.3" r="3.90" fill="#0e6836" stroke="#1a1a1a" stroke-width="1.3"/><circle cx="2239.5" cy="1334.7" r="3.90" fill="#0e6836" stroke="#1a1a1a" stroke-width="1.3"/><circle cx="2206.0" cy="1347.4" r="3.90" fill="#0e6836" stroke="#1a1a1a" stroke-width="1.3"/><circle cx="2251.3" cy="1354.2" r="3.90" fill="#0e6836" stroke="#1a1a1a" stroke-width="1.3"/><circle cx="2228.0" cy="1361.4" r="3.90" fill="#0e6836" stroke="#1a1a1a" stroke-width="1.3"/><circle cx="2192.0" cy="1361.4" r="3.90" fill="#0e6836" stroke="#1a1a1a" stroke-width="1.3"/><circle cx="2207.7" cy="1379.2" r="3.90" fill="#0e6836" stroke="#1a1a1a" stroke-width="1.3"/><circle cx="2247.1" cy="1377.5" r="3.90" fill="#0e6836" stroke="#1a1a1a" stroke-width="1.3"/><circle cx="2225.1" cy="1390.2" r="3.90" fill="#0e6836" stroke="#1a1a1a" stroke-width="1.3"/><circle cx="2494.2" cy="1322.0" r="1.70" fill="#1a1a1a"/><circle cx="2499.3" cy="1360.5" r="1.70" fill="#1a1a1a"/><circle cx="2390.4" cy="1377.5" r="1.95" fill="#0e6836" stroke="#1a1a1a" stroke-width="1.3"/><circle cx="2420.0" cy="1401.6" r="1.95" fill="#0e6836" stroke="#1a1a1a" stroke-width="1.3"/><circle cx="2382.7" cy="1417.7" r="1.95" fill="#0e6836" stroke="#1a1a1a" stroke-width="1.3"/><circle cx="2562.8" cy="1425.8" r="1.95" fill="#0e6836" stroke="#1a1a1a" stroke-width="1.3"/><circle cx="2600.2" cy="1431.3" r="1.95" fill="#0e6836" stroke="#1a1a1a" stroke-width="1.3"/><circle cx="2576.8" cy="1459.7" r="1.95" fill="#0e6836" stroke="#1a1a1a" stroke-width="1.3"/><circle cx="2059.4" cy="1474.5" r="1.70" fill="#1a1a1a"/><circle cx="2095.4" cy="1468.6" r="1.70" fill="#1a1a1a"/><circle cx="2130.6" cy="1521.2" r="1.70" fill="#1a1a1a"/><circle cx="2159.4" cy="1541.5" r="1.70" fill="#1a1a1a"/><circle cx="2288.2" cy="1519.5" r="3.05" fill="#0e6836" stroke="#1a1a1a" stroke-width="1.3"/><circle cx="2255.6" cy="1534.3" r="3.05" fill="#0e6836" stroke="#1a1a1a" stroke-width="1.3"/><circle cx="2308.6" cy="1544.9" r="3.05" fill="#0e6836" stroke="#1a1a1a" stroke-width="1.3"/><circle cx="2278.9" cy="1542.8" r="3.05" fill="#0e6836" stroke="#1a1a1a" stroke-width="1.3"/><circle cx="2259.8" cy="1564.8" r="3.05" fill="#0e6836" stroke="#1a1a1a" stroke-width="1.3"/><circle cx="2293.7" cy="1572.0" r="3.05" fill="#0e6836" stroke="#1a1a1a" stroke-width="1.3"/><circle cx="2459.0" cy="1497.0" r="3.05" fill="#0e6836" stroke="#1a1a1a" stroke-width="1.3"/><circle cx="2483.2" cy="1507.6" r="3.05" fill="#0e6836" stroke="#1a1a1a" stroke-width="1.3"/><circle cx="2439.1" cy="1512.7" r="3.05" fill="#0e6836" stroke="#1a1a1a" stroke-width="1.3"/><circle cx="2463.3" cy="1536.0" r="3.05" fill="#0e6836" stroke="#1a1a1a" stroke-width="1.3"/><circle cx="2485.7" cy="1536.4" r="3.05" fill="#0e6836" stroke="#1a1a1a" stroke-width="1.3"/><circle cx="2442.1" cy="1544.9" r="3.05" fill="#0e6836" stroke="#1a1a1a" stroke-width="1.3"/><circle cx="3145.9" cy="939.7" r="2.55" fill="#0e6836" stroke="#1a1a1a" stroke-width="1.3"/><circle cx="3119.8" cy="950.6" r="2.55" fill="#0e6836" stroke="#1a1a1a" stroke-width="1.3"/><circle cx="3164.4" cy="960.1" r="2.55" fill="#0e6836" stroke="#1a1a1a" stroke-width="1.3"/><circle cx="3121.6" cy="980.8" r="2.55" fill="#0e6836" stroke="#1a1a1a" stroke-width="1.3"/><circle cx="3149.5" cy="988.0" r="2.55" fill="#0e6836" stroke="#1a1a1a" stroke-width="1.3"/><circle cx="3326.1" cy="919.8" r="2.25" fill="#0e6836" stroke="#1a1a1a" stroke-width="1.3"/><circle cx="3299.6" cy="939.0" r="2.25" fill="#0e6836" stroke="#1a1a1a" stroke-width="1.3"/><circle cx="3351.2" cy="941.5" r="2.25" fill="#0e6836" stroke="#1a1a1a" stroke-width="1.3"/><circle cx="3327.9" cy="965.5" r="2.25" fill="#0e6836" stroke="#1a1a1a" stroke-width="1.3"/><circle cx="3004.6" cy="1016.0" r="2.25" fill="#0e6836" stroke="#1a1a1a" stroke-width="1.3"/><circle cx="3036.2" cy="1018.2" r="2.25" fill="#0e6836" stroke="#1a1a1a" stroke-width="1.3"/><circle cx="3001.0" cy="1050.5" r="2.25" fill="#0e6836" stroke="#1a1a1a" stroke-width="1.3"/><circle cx="3034.4" cy="1052.4" r="2.25" fill="#0e6836" stroke="#1a1a1a" stroke-width="1.3"/><circle cx="3244.0" cy="989.9" r="1.95" fill="#0e6836" stroke="#1a1a1a" stroke-width="1.3"/><circle cx="3231.6" cy="1028.0" r="1.95" fill="#0e6836" stroke="#1a1a1a" stroke-width="1.3"/><circle cx="3268.7" cy="1025.5" r="1.95" fill="#0e6836" stroke="#1a1a1a" stroke-width="1.3"/><circle cx="3409.3" cy="997.9" r="1.70" fill="#1a1a1a"/><circle cx="3383.9" cy="1030.9" r="1.70" fill="#1a1a1a"/><circle cx="3491.0" cy="1032.4" r="2.25" fill="#0e6836" stroke="#1a1a1a" stroke-width="1.3"/><circle cx="3466.0" cy="1054.2" r="2.25" fill="#0e6836" stroke="#1a1a1a" stroke-width="1.3"/><circle cx="3512.8" cy="1060.0" r="2.25" fill="#0e6836" stroke="#1a1a1a" stroke-width="1.3"/><circle cx="3487.4" cy="1080.0" r="2.25" fill="#0e6836" stroke="#1a1a1a" stroke-width="1.3"/><circle cx="2928.3" cy="1099.6" r="1.70" fill="#1a1a1a"/><circle cx="2958.1" cy="1121.7" r="1.70" fill="#1a1a1a"/><circle cx="3130.7" cy="1102.5" r="1.70" fill="#1a1a1a"/><circle cx="3140.8" cy="1140.6" r="1.70" fill="#1a1a1a"/><circle cx="3223.3" cy="1130.8" r="1.95" fill="#0e6836" stroke="#1a1a1a" stroke-width="1.3"/><circle cx="3261.4" cy="1127.9" r="1.95" fill="#0e6836" stroke="#1a1a1a" stroke-width="1.3"/><circle cx="3242.5" cy="1165.0" r="1.95" fill="#0e6836" stroke="#1a1a1a" stroke-width="1.3"/><circle cx="3053.6" cy="1146.8" r="1.70" fill="#1a1a1a"/><circle cx="3024.2" cy="1169.7" r="1.70" fill="#1a1a1a"/><circle cx="2905.4" cy="1183.5" r="1.70" fill="#1a1a1a"/><circle cx="2941.0" cy="1194.4" r="1.70" fill="#1a1a1a"/><circle cx="3541.2" cy="1150.4" r="1.70" fill="#1a1a1a"/><circle cx="3575.7" cy="1161.7" r="1.70" fill="#1a1a1a"/><circle cx="3395.9" cy="1165.3" r="3.65" fill="#0e6836" stroke="#1a1a1a" stroke-width="1.3"/><circle cx="3369.7" cy="1175.1" r="3.65" fill="#0e6836" stroke="#1a1a1a" stroke-width="1.3"/><circle cx="3414.7" cy="1183.1" r="3.65" fill="#0e6836" stroke="#1a1a1a" stroke-width="1.3"/><circle cx="3389.7" cy="1188.9" r="3.65" fill="#0e6836" stroke="#1a1a1a" stroke-width="1.3"/><circle cx="3362.4" cy="1201.3" r="3.65" fill="#0e6836" stroke="#1a1a1a" stroke-width="1.3"/><circle cx="3415.1" cy="1207.8" r="3.65" fill="#0e6836" stroke="#1a1a1a" stroke-width="1.3"/><circle cx="3378.4" cy="1216.2" r="3.65" fill="#0e6836" stroke="#1a1a1a" stroke-width="1.3"/><circle cx="3396.9" cy="1224.9" r="3.65" fill="#0e6836" stroke="#1a1a1a" stroke-width="1.3"/><circle cx="3553.9" cy="1231.2" r="1.95" fill="#0e6836" stroke="#1a1a1a" stroke-width="1.3"/><circle cx="3531.4" cy="1261.2" r="1.95" fill="#0e6836" stroke="#1a1a1a" stroke-width="1.3"/><circle cx="3572.1" cy="1263.3" r="1.95" fill="#0e6836" stroke="#1a1a1a" stroke-width="1.3"/><circle cx="2895.2" cy="1278.2" r="2.25" fill="#0e6836" stroke="#1a1a1a" stroke-width="1.3"/><circle cx="2927.2" cy="1281.1" r="2.25" fill="#0e6836" stroke="#1a1a1a" stroke-width="1.3"/><circle cx="2890.9" cy="1312.0" r="2.25" fill="#0e6836" stroke="#1a1a1a" stroke-width="1.3"/><circle cx="2921.8" cy="1316.4" r="2.25" fill="#0e6836" stroke="#1a1a1a" stroke-width="1.3"/><circle cx="3096.9" cy="1309.8" r="4.65" fill="#0e6836" stroke="#1a1a1a" stroke-width="1.3"/><circle cx="3113.2" cy="1312.7" r="4.65" fill="#0e6836" stroke="#1a1a1a" stroke-width="1.3"/><circle cx="3086.0" cy="1321.1" r="4.65" fill="#0e6836" stroke="#1a1a1a" stroke-width="1.3"/><circle cx="3127.7" cy="1323.6" r="4.65" fill="#0e6836" stroke="#1a1a1a" stroke-width="1.3"/><circle cx="3073.3" cy="1333.8" r="4.65" fill="#0e6836" stroke="#1a1a1a" stroke-width="1.3"/><circle cx="3110.7" cy="1336.3" r="4.65" fill="#0e6836" stroke="#1a1a1a" stroke-width="1.3"/><circle cx="3091.8" cy="1340.7" r="4.65" fill="#0e6836" stroke="#1a1a1a" stroke-width="1.3"/><circle cx="3132.5" cy="1343.6" r="4.65" fill="#0e6836" stroke="#1a1a1a" stroke-width="1.3"/><circle cx="3076.2" cy="1354.5" r="4.65" fill="#0e6836" stroke="#1a1a1a" stroke-width="1.3"/><circle cx="3101.6" cy="1358.9" r="4.65" fill="#0e6836" stroke="#1a1a1a" stroke-width="1.3"/><circle cx="3125.2" cy="1358.1" r="4.65" fill="#0e6836" stroke="#1a1a1a" stroke-width="1.3"/><circle cx="3088.1" cy="1369.8" r="4.65" fill="#0e6836" stroke="#1a1a1a" stroke-width="1.3"/><circle cx="3112.5" cy="1373.4" r="4.65" fill="#0e6836" stroke="#1a1a1a" stroke-width="1.3"/><circle cx="3535.0" cy="1359.2" r="3.05" fill="#0e6836" stroke="#1a1a1a" stroke-width="1.3"/><circle cx="3513.9" cy="1371.9" r="3.05" fill="#0e6836" stroke="#1a1a1a" stroke-width="1.3"/><circle cx="3557.5" cy="1370.8" r="3.05" fill="#0e6836" stroke="#1a1a1a" stroke-width="1.3"/><circle cx="3516.8" cy="1399.2" r="3.05" fill="#0e6836" stroke="#1a1a1a" stroke-width="1.3"/><circle cx="3556.4" cy="1395.6" r="3.05" fill="#0e6836" stroke="#1a1a1a" stroke-width="1.3"/><circle cx="3538.6" cy="1414.4" r="3.05" fill="#0e6836" stroke="#1a1a1a" stroke-width="1.3"/><circle cx="2932.7" cy="1407.9" r="1.70" fill="#1a1a1a"/><circle cx="2911.6" cy="1435.5" r="1.70" fill="#1a1a1a"/><circle cx="2980.6" cy="1481.7" r="1.70" fill="#1a1a1a"/><circle cx="2961.0" cy="1513.3" r="1.70" fill="#1a1a1a"/><circle cx="3342.1" cy="1495.5" r="4.65" fill="#0e6836" stroke="#1a1a1a" stroke-width="1.3"/><circle cx="3329.7" cy="1499.8" r="4.65" fill="#0e6836" stroke="#1a1a1a" stroke-width="1.3"/><circle cx="3354.8" cy="1499.8" r="4.65" fill="#0e6836" stroke="#1a1a1a" stroke-width="1.3"/><circle cx="3317.7" cy="1502.7" r="4.65" fill="#0e6836" stroke="#1a1a1a" stroke-width="1.3"/><circle cx="3309.8" cy="1514.3" r="4.65" fill="#0e6836" stroke="#1a1a1a" stroke-width="1.3"/><circle cx="3346.8" cy="1514.3" r="4.65" fill="#0e6836" stroke="#1a1a1a" stroke-width="1.3"/><circle cx="3363.9" cy="1510.7" r="4.65" fill="#0e6836" stroke="#1a1a1a" stroke-width="1.3"/><circle cx="3329.4" cy="1517.3" r="4.65" fill="#0e6836" stroke="#1a1a1a" stroke-width="1.3"/><circle cx="3365.0" cy="1522.3" r="4.65" fill="#0e6836" stroke="#1a1a1a" stroke-width="1.3"/><circle cx="3316.6" cy="1527.1" r="4.65" fill="#0e6836" stroke="#1a1a1a" stroke-width="1.3"/><circle cx="3337.7" cy="1530.7" r="4.65" fill="#0e6836" stroke="#1a1a1a" stroke-width="1.3"/><circle cx="3353.4" cy="1535.1" r="4.65" fill="#0e6836" stroke="#1a1a1a" stroke-width="1.3"/><circle cx="3370.4" cy="1533.6" r="4.65" fill="#0e6836" stroke="#1a1a1a" stroke-width="1.3"/><circle cx="3306.8" cy="1534.3" r="4.65" fill="#0e6836" stroke="#1a1a1a" stroke-width="1.3"/><circle cx="3327.5" cy="1544.1" r="4.65" fill="#0e6836" stroke="#1a1a1a" stroke-width="1.3"/><circle cx="3346.8" cy="1548.9" r="4.65" fill="#0e6836" stroke="#1a1a1a" stroke-width="1.3"/><circle cx="3322.1" cy="1557.9" r="4.65" fill="#0e6836" stroke="#1a1a1a" stroke-width="1.3"/><circle cx="3335.9" cy="1562.7" r="4.65" fill="#0e6836" stroke="#1a1a1a" stroke-width="1.3"/><circle cx="3353.4" cy="1559.0" r="4.65" fill="#0e6836" stroke="#1a1a1a" stroke-width="1.3"/><circle cx="3061.6" cy="1560.9" r="3.05" fill="#0e6836" stroke="#1a1a1a" stroke-width="1.3"/><circle cx="3087.1" cy="1556.1" r="3.05" fill="#0e6836" stroke="#1a1a1a" stroke-width="1.3"/><circle cx="3052.5" cy="1585.9" r="3.05" fill="#0e6836" stroke="#1a1a1a" stroke-width="1.3"/><circle cx="3098.7" cy="1578.6" r="3.05" fill="#0e6836" stroke="#1a1a1a" stroke-width="1.3"/><circle cx="3070.7" cy="1604.5" r="3.05" fill="#0e6836" stroke="#1a1a1a" stroke-width="1.3"/><circle cx="3096.9" cy="1603.4" r="3.05" fill="#0e6836" stroke="#1a1a1a" stroke-width="1.3"/></g>
<g font-family="Liberation Serif, serif" font-weight="bold" font-size="26.75"><text x="323.6" y="991.3" fill="#06a038">g_Botryotrichum;s_Botryotrichum_atrogriseum</text><text x="120.9" y="1025.1" fill="#06a038">g_Cercospora;s_Cercospora_zebrina</text><text x="540.6" y="1044.2" fill="#06a038">g_Fusarium;s_Fusarium_sp</text><text x="458.0" y="1067.5" fill="#06a038">g_Sphaerulina;s_Sphaerulina_pelargonii</text><text x="257.5" y="1274.3" fill="#06a038">g_Candida;s_Candida_tropicalis</text><text x="152.4" y="1301.9" fill="#06a038">g_Schizophyllum;s_Schizophyllum_commune</text><text x="386.7" y="1346.9" fill="#06a038">g_Rhodotorula;s_Rhodotorula_diobovata</text><text x="66.8" y="1389.0" fill="#06a038">g_Bipolaris;s_Bipolaris_eleusines</text><text x="21.4" y="1511.0" fill="#06a038">g_Botryotrichum;s_Botryotrichum_domesticum</text><text x="266.6" y="1529.8" fill="#06a038">g_Auricularia;s_Auricularia_auricula−judae</text><text x="1475.0" y="1080.3" fill="#06a038">g_Exobasidium;s_Exobasidium_miyabei</text><text x="1107.1" y="1097.5" fill="#06a038">g_Candida;s_Candida_tropicalis</text><text x="1077.8" y="1132.1" fill="#06a038">g_Monosporascus;s_Monosporascus_sp</text><text x="1376.3" y="1370.9" fill="#06a038">g_Schizothecium;s_Schizothecium_sp</text><text x="1134.5" y="1486.6" fill="#06a038">g_Penicillium;s_Penicillium_aethiopicum</text><text x="2356.5" y="952.2" fill="#06a038">g_Sphaerulina;s_Sphaerulina_pelargonii</text><text x="2105.1" y="1048.8" fill="#06a038">g_Auricularia;s_Auricularia_auricula−judae</text><text x="2016.1" y="1107.7" fill="#06a038">g_Penicillium;s_Penicillium_aethiopicum</text><text x="2487.4" y="1137.4" fill="#06a038">g_Bipolaris;s_Bipolaris_eleusines</text><text x="1817.0" y="1229.3" fill="#06a038">g_Naganishia;s_Naganishia_onofrii</text><text x="2380.6" y="1431.8" fill="#06a038">g_Chaetomium;s_Chaetomium_capillare</text><text x="2105.1" y="1525.0" fill="#06a038">g_Rhodotorula;s_Rhodotorula_diobovata</text><text x="2128.4" y="1575.9" fill="#06a038">g_Talaromyces;s_Talaromyces_flavus</text><text x="2963.5" y="945.7" fill="#06a038">g_Penicillium;s_Penicillium_aethiopicum</text><text x="3040.6" y="1135.7" fill="#06a038">g_Talaromyces;s_Talaromyces_rugulosus</text><text x="3208.0" y="1553.0" fill="#06a038">g_Naganishia;s_Naganishia_onofrii</text></g>
</svg>
</body></html>
